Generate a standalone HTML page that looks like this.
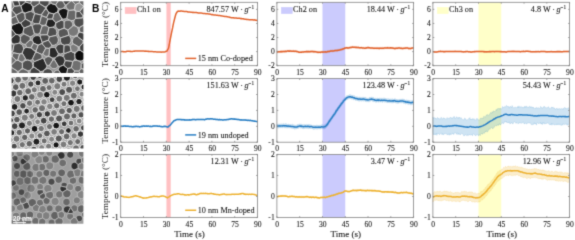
<!DOCTYPE html><html><head><meta charset="utf-8"><style>html,body{margin:0;padding:0;background:#fff;}svg{display:block;}text{font-family:"Liberation Serif",serif;fill:#1a1a1a;stroke:#1a1a1a;stroke-width:0.1px;}.s{font-family:"Liberation Sans",sans-serif;font-weight:bold;fill:#000;stroke:none;}</style></head><body>
<svg xmlns="http://www.w3.org/2000/svg" width="575" height="240" viewBox="0 0 575 240">
<defs><filter id="gb" x="0" y="0" width="575" height="240" filterUnits="userSpaceOnUse" color-interpolation-filters="sRGB"><feConvolveMatrix order="3" kernelMatrix="0.0192 0.1001 0.0192 0.1001 0.5228 0.1001 0.0192 0.1001 0.0192" edgeMode="duplicate" preserveAlpha="true"/></filter></defs>
<g filter="url(#gb)">
<rect width="575" height="240" fill="#fff"/>
<defs><filter id="tb" x="-5%" y="-5%" width="110%" height="110%"><feGaussianBlur stdDeviation="0.55"/></filter>
<clipPath id="c0"><rect x="11.6" y="1.25" width="71.8" height="71.65"/></clipPath>
<clipPath id="c1"><rect x="11.6" y="76.9" width="71.8" height="71.6"/></clipPath>
<clipPath id="c2"><rect x="11.6" y="151.9" width="71.8" height="71.9"/></clipPath>
</defs>
<g clip-path="url(#c0)"><g filter="url(#tb)">
<rect x="10" y="0" width="75" height="75" fill="#969696"/>
<polygon points="32.8,7.0 32.5,8.9 31.6,10.6 30.9,11.3 25.7,12.9 24.8,12.8 23.1,11.9 22.4,11.2 20.8,6.0 25.5,2.1 30.6,3.3 32.8,6.7" fill="#1c1c1c" stroke="#d7d7d7" stroke-width="0.9" stroke-linejoin="round"/>
<polygon points="23.1,32.0 22.9,32.5 21.5,33.9 19.7,34.8 18.8,34.9 15.8,34.3 11.3,28.7 11.3,28.7 11.6,26.7 12.5,25.0 18.9,22.6 20.6,23.1 20.8,23.2 23.9,28.2" fill="#141414" stroke="#d7d7d7" stroke-width="0.9" stroke-linejoin="round"/>
<polygon points="22.3,10.8 22.1,11.7 21.8,12.3 16.1,15.1 11.7,9.9 14.3,6.2 19.9,5.6 20.3,5.8 20.9,6.3" fill="#505050" stroke="#d7d7d7" stroke-width="0.9" stroke-linejoin="round"/>
<polygon points="41.2,15.0 41.1,15.0 35.5,13.7 34.6,12.8 33.7,11.1 33.4,9.2 33.7,7.3 33.9,7.0 39.3,3.4 45.2,7.1 45.3,7.3 45.5,8.7" fill="#4c4c4c" stroke="#d7d7d7" stroke-width="0.9" stroke-linejoin="round"/>
<polygon points="21.0,22.8 20.7,22.9 19.0,22.6 18.8,22.5 15.8,16.0 16.1,15.1 21.8,12.3 22.4,12.4 23.9,13.1 24.9,14.2 25.4,19.0" fill="#585858" stroke="#d7d7d7" stroke-width="0.9" stroke-linejoin="round"/>
<polygon points="32.4,21.3 31.4,21.8 30.7,21.9 25.4,19.0 24.9,14.3 25.3,13.5 26.0,12.8 30.5,11.4 31.4,11.6 32.9,12.3 34.1,13.5 34.5,14.4" fill="#505050" stroke="#d7d7d7" stroke-width="0.9" stroke-linejoin="round"/>
<polygon points="39.5,23.8 39.4,23.9 35.0,23.9 34.0,23.4 32.8,22.2 32.4,21.3 34.5,14.4 35.5,13.9 35.8,13.8 40.7,15.0 41.5,15.8" fill="#484848" stroke="#d7d7d7" stroke-width="0.9" stroke-linejoin="round"/>
<polygon points="30.9,23.5 30.7,25.0 30.4,25.6 24.2,28.0 23.6,27.7 21.1,23.8 21.1,23.5 21.2,22.7 25.4,19.0 30.6,21.9 30.7,22.0" fill="#404040" stroke="#d7d7d7" stroke-width="0.9" stroke-linejoin="round"/>
<polygon points="46.1,24.4 46.1,24.5 44.7,25.2 43.2,25.4 41.7,25.2 40.3,24.5 39.5,23.7 41.5,16.0 41.7,15.8 42.0,15.8 46.7,17.4 47.7,19.0" fill="#606060" stroke="#d7d7d7" stroke-width="0.9" stroke-linejoin="round"/>
<polygon points="34.3,33.4 33.8,34.5 32.5,35.8 30.8,36.6 29.9,36.8 24.0,34.1 23.4,32.8 23.2,31.6 23.9,28.2 23.9,28.2 30.8,25.4 32.3,26.1" fill="#585858" stroke="#d7d7d7" stroke-width="0.9" stroke-linejoin="round"/>
<polygon points="39.9,33.3 38.9,33.8 37.2,34.1 35.5,33.8 34.3,33.2 32.4,26.4 32.8,25.5 34.0,24.3 35.0,23.9 39.4,23.9 39.6,23.9 41.0,25.0 41.6,25.5 42.0,26.4" fill="#505050" stroke="#d7d7d7" stroke-width="0.9" stroke-linejoin="round"/>
<polygon points="41.1,35.0 40.3,34.2 39.9,33.3 42.0,26.4 43.0,25.9 44.7,25.6 46.4,25.9 47.3,26.3 48.3,27.1 49.0,27.7 47.4,34.8" fill="#686868" stroke="#d7d7d7" stroke-width="0.9" stroke-linejoin="round"/>
<polygon points="58.1,9.2 57.8,11.0 57.3,12.1 53.8,14.0 48.9,12.8 46.4,8.8 46.6,7.4 47.2,6.1 48.8,4.4 50.4,3.6 51.3,3.5 55.7,4.8 58.0,8.5" fill="#181818" stroke="#d7d7d7" stroke-width="0.9" stroke-linejoin="round"/>
<polygon points="67.0,17.7 66.7,18.1 65.2,18.8 63.5,19.1 61.9,18.8 58.3,12.4 58.4,12.0 59.1,10.5 60.3,9.3 61.1,8.9 62.8,8.4 63.5,8.3 65.2,8.6 66.7,9.3 67.9,10.5 68.2,11.2" fill="#141414" stroke="#d7d7d7" stroke-width="0.9" stroke-linejoin="round"/>
<polygon points="65.2,5.0 65.2,5.5 64.5,6.9 63.4,8.0 62.0,8.7 62.0,8.7 60.5,8.9 59.0,8.7 57.7,8.0 55.7,4.9 55.7,4.7 59.4,-0.7 60.5,-0.9 61.8,-0.7" fill="#606060" stroke="#d7d7d7" stroke-width="0.9" stroke-linejoin="round"/>
<polygon points="74.6,9.1 74.0,9.6 73.0,10.1 69.5,10.4 69.4,10.4 68.0,9.6 66.9,8.5 66.1,7.1 65.9,5.5 65.9,5.2 71.3,0.4 71.7,0.5 75.4,4.4" fill="#707070" stroke="#d7d7d7" stroke-width="0.9" stroke-linejoin="round"/>
<polygon points="79.7,11.5 76.9,11.4 76.1,11.0 75.0,9.9 74.6,9.0 75.4,4.4 79.4,2.7 83.7,6.4" fill="#949494" stroke="#d7d7d7" stroke-width="0.9" stroke-linejoin="round"/>
<polygon points="75.8,18.2 74.3,19.9 73.4,20.3 71.7,20.6 70.0,20.3 68.5,19.6 67.3,18.4 67.0,17.7 68.2,11.2 68.5,10.8 69.4,10.4 73.4,10.1 74.9,10.8 75.9,11.8" fill="#686868" stroke="#d7d7d7" stroke-width="0.9" stroke-linejoin="round"/>
<polygon points="84.6,22.0 84.3,23.7 83.6,25.2 83.5,25.2 79.7,27.3 79.2,27.4 77.5,27.1 76.0,26.4 74.8,25.2 74.1,23.7 73.8,22.0 74.1,20.3 74.3,19.9 75.8,18.2 82.6,17.8 83.6,18.8 84.3,20.3" fill="#505050" stroke="#d7d7d7" stroke-width="0.9" stroke-linejoin="round"/>
<polygon points="55.6,22.7 55.4,24.2 54.7,25.6 53.6,26.7 52.3,27.3 50.1,27.5 49.2,27.4 47.8,26.7 46.7,25.6 46.1,24.4 47.7,19.0 52.5,18.9 55.5,22.3" fill="#202020" stroke="#d7d7d7" stroke-width="0.9" stroke-linejoin="round"/>
<polygon points="64.2,28.1 59.6,29.8 59.0,29.7 57.6,29.0 56.5,27.9 55.8,26.5 55.6,25.0 55.8,23.5 56.4,22.5 61.1,20.2 62.0,20.3 63.4,21.0 64.2,21.9" fill="#484848" stroke="#d7d7d7" stroke-width="0.9" stroke-linejoin="round"/>
<polygon points="56.9,32.5 56.6,34.2 56.0,35.5 49.2,36.9 47.4,34.8 49.0,27.8 49.5,27.5 52.7,27.3 53.2,27.4 54.7,28.1 55.9,29.3 56.6,30.8" fill="#505050" stroke="#d7d7d7" stroke-width="0.9" stroke-linejoin="round"/>
<polygon points="68.8,34.0 68.6,34.9 68.4,35.4 60.8,37.8 60.3,37.6 59.1,36.4 58.4,34.9 58.1,33.2 58.4,31.5 59.1,30.0 59.3,29.9 64.2,28.1 67.9,30.0 67.9,30.1" fill="#585858" stroke="#d7d7d7" stroke-width="0.9" stroke-linejoin="round"/>
<polygon points="78.6,31.0 78.3,32.7 77.7,34.0 77.5,34.2 76.4,35.4 74.9,36.1 73.2,36.4 71.5,36.1 70.0,35.4 68.8,34.2 68.8,34.1 67.9,30.2 68.0,30.0 73.0,25.6 73.2,25.6 74.9,25.9 76.4,26.6 77.6,27.8 78.3,29.3" fill="#787878" stroke="#d7d7d7" stroke-width="0.9" stroke-linejoin="round"/>
<polygon points="72.9,25.0 72.8,25.8 68.1,29.9 68.0,29.9 67.5,29.8 64.2,28.1 64.2,21.9 65.1,21.0 66.5,20.3 68.0,20.1 69.5,20.3 70.9,21.0 72.0,22.1 72.7,23.5" fill="#606060" stroke="#d7d7d7" stroke-width="0.9" stroke-linejoin="round"/>
<polygon points="20.4,40.8 19.6,42.2 18.5,43.3 18.4,43.4 14.8,44.2 13.9,44.1 12.5,43.3 11.4,42.2 10.6,40.8 10.4,39.2 10.5,38.8 15.8,34.3 17.8,34.7 18.5,35.1 19.6,36.2 20.4,37.6" fill="#303030" stroke="#d7d7d7" stroke-width="0.9" stroke-linejoin="round"/>
<polygon points="30.3,39.2 30.2,39.7 25.4,44.3 25.2,44.3 23.6,44.1 22.2,43.3 21.1,42.2 20.3,40.8 20.4,37.6 21.1,36.2 22.2,35.1 23.6,34.3 24.4,34.2 29.5,36.6 30.1,37.6" fill="#585858" stroke="#d7d7d7" stroke-width="0.9" stroke-linejoin="round"/>
<polygon points="42.1,42.0 42.1,42.3 41.3,43.7 38.1,45.2 33.5,43.1 32.2,40.3 32.3,39.1 33.1,37.7 34.2,36.6 35.6,35.8 37.2,35.6 38.8,35.8 40.2,36.6 40.3,36.6" fill="#282828" stroke="#d7d7d7" stroke-width="0.9" stroke-linejoin="round"/>
<polygon points="23.6,49.0 23.5,49.9 22.4,52.5 21.8,53.2 19.7,54.0 13.2,52.7 12.9,52.5 12.6,51.8 14.0,44.5 14.1,44.3 18.8,43.3 19.5,43.4 21.2,44.2 22.5,45.5 23.3,47.2" fill="#484848" stroke="#d7d7d7" stroke-width="0.9" stroke-linejoin="round"/>
<polygon points="32.3,59.5 31.1,60.1 29.8,60.3 26.5,59.9 25.9,59.6 22.2,53.0 23.8,49.1 24.9,47.9 26.1,47.4 31.0,47.8 35.6,51.6 35.7,52.0" fill="#343434" stroke="#d7d7d7" stroke-width="0.9" stroke-linejoin="round"/>
<polygon points="42.6,54.1 41.3,54.3 36.6,52.2 36.6,52.2 36.0,50.9 38.1,45.2 41.4,43.7 42.3,43.8 45.9,48.2" fill="#585858" stroke="#d7d7d7" stroke-width="0.9" stroke-linejoin="round"/>
<polygon points="22.4,67.6 21.8,68.9 19.1,71.0 18.8,71.1 17.6,71.3 11.5,67.6 11.4,67.3 11.1,65.5 11.1,65.3 16.1,60.3 17.9,60.1 22.0,62.4 22.4,63.4" fill="#606060" stroke="#d7d7d7" stroke-width="0.9" stroke-linejoin="round"/>
<polygon points="32.9,65.5 32.6,67.2 32.2,68.1 30.4,70.0 29.2,70.6 27.7,70.9 23.2,68.8 23.1,68.7 22.4,67.3 22.4,63.7 23.1,62.3 24.2,61.2 24.4,61.1 25.8,60.4 27.5,60.1 29.2,60.4 30.7,61.1 31.9,62.3 32.6,63.8" fill="#505050" stroke="#d7d7d7" stroke-width="0.9" stroke-linejoin="round"/>
<polygon points="46.9,65.8 46.8,66.8 45.9,68.5 43.1,70.8 42.3,71.3 40.4,71.6 33.7,66.9 33.6,66.8 33.3,64.7 33.6,62.6 34.1,61.6 42.5,58.2 43.8,58.9" fill="#2c2c2c" stroke="#d7d7d7" stroke-width="0.9" stroke-linejoin="round"/>
<polygon points="42.1,57.2 41.9,58.5 34.7,61.4 34.3,61.2 33.2,60.1 32.6,58.8 35.4,52.7 35.7,52.5 37.0,52.3 41.1,54.2 41.2,54.3 41.9,55.7" fill="#585858" stroke="#d7d7d7" stroke-width="0.9" stroke-linejoin="round"/>
<polygon points="58.4,40.0 58.1,41.7 57.4,43.2 56.2,44.4 54.7,45.1 53.0,45.4 51.8,45.2 48.4,40.2 49.2,36.9 55.9,35.5 56.2,35.6 57.4,36.8 58.1,38.3" fill="#585858" stroke="#d7d7d7" stroke-width="0.9" stroke-linejoin="round"/>
<polygon points="71.1,40.0 70.8,41.7 70.1,43.2 68.9,44.4 68.0,44.8 64.7,45.2 64.0,45.1 62.5,44.4 61.3,43.2 60.6,41.7 60.3,40.0 60.6,38.3 60.8,37.8 68.4,35.4 68.9,35.6 70.1,36.8 70.8,38.3" fill="#484848" stroke="#d7d7d7" stroke-width="0.9" stroke-linejoin="round"/>
<polygon points="83.1,41.5 82.9,43.0 79.7,46.5 79.4,46.6 78.4,46.8 72.9,43.8 72.6,43.2 72.3,41.5 72.6,39.8 73.3,38.3 74.5,37.1 76.0,36.4 77.1,36.2 83.0,40.7" fill="#606060" stroke="#d7d7d7" stroke-width="0.9" stroke-linejoin="round"/>
<polygon points="58.3,53.5 58.1,54.4 57.4,55.9 56.6,56.7 55.9,57.2 54.7,57.8 53.0,58.1 52.0,57.9 49.1,56.4 48.9,56.1 49.5,48.6 49.8,48.3 51.3,47.6 53.0,47.3 54.7,47.6 55.6,48.0" fill="#2c2c2c" stroke="#d7d7d7" stroke-width="0.9" stroke-linejoin="round"/>
<polygon points="63.8,52.6 63.4,53.0 62.0,53.7 60.5,53.9 59.0,53.7 58.2,53.2 55.7,48.3 55.8,47.5 56.5,46.1 57.6,45.0 59.0,44.3 60.5,44.1 62.0,44.3 63.4,45.0 64.1,45.8" fill="#404040" stroke="#d7d7d7" stroke-width="0.9" stroke-linejoin="round"/>
<polygon points="75.1,58.3 75.1,58.3 74.3,60.0 73.0,61.3 72.9,61.3 72.7,61.4 65.4,60.7 65.1,60.4 63.7,57.3 63.6,56.5 63.9,54.7 64.5,53.5 71.0,51.2 74.1,52.9 74.3,53.0 74.8,54.0" fill="#484848" stroke="#d7d7d7" stroke-width="0.9" stroke-linejoin="round"/>
<polygon points="85.4,55.7 85.1,57.4 84.4,58.9 83.2,60.1 81.7,60.8 80.0,61.1 78.3,60.8 76.8,60.1 75.6,58.9 75.1,57.8 74.8,54.3 74.9,54.0 75.6,52.5 75.7,52.4 77.7,50.9 78.3,50.6 80.0,50.3 80.1,50.3 84.6,53.0 85.1,54.0" fill="#101010" stroke="#d7d7d7" stroke-width="0.9" stroke-linejoin="round"/>
<polygon points="65.1,61.0 65.1,61.1 63.8,64.4 62.9,65.3 60.5,66.3 59.7,66.4 58.3,66.2 54.5,59.6 54.6,59.3 55.3,57.8 56.1,57.0 56.8,56.5 58.0,55.9 59.7,55.6 61.4,55.9 62.9,56.6 63.9,57.6 64.9,59.9" fill="#303030" stroke="#d7d7d7" stroke-width="0.9" stroke-linejoin="round"/>
<polygon points="66.6,75.1 65.2,75.8 63.5,76.1 62.2,75.9 58.2,69.8 58.4,69.0 59.1,67.5 60.3,66.4 62.7,65.4 63.5,65.3 63.9,65.4 67.7,68.5" fill="#181818" stroke="#d7d7d7" stroke-width="0.9" stroke-linejoin="round"/>
<polygon points="81.1,68.5 78.9,71.2 74.7,71.1 71.3,67.6 72.8,61.4 74.4,60.6 76.2,60.3 77.4,60.5 78.9,61.1 79.7,61.4 81.0,62.7 81.3,63.4" fill="#707070" stroke="#d7d7d7" stroke-width="0.9" stroke-linejoin="round"/>
<polygon points="49.7,65.2 48.5,65.4 47.1,65.2 46.5,64.9 44.3,59.9 44.3,59.6 44.9,58.4 45.9,57.4 47.1,56.8 48.5,56.6 49.9,56.8 51.0,57.4 51.1,57.4 52.1,58.4 52.7,59.6 52.8,60.1" fill="#585858" stroke="#d7d7d7" stroke-width="0.9" stroke-linejoin="round"/>
<polygon points="42.8,42.3 42.1,42.0 42.0,41.9 40.3,36.8 40.4,36.6 41.0,35.3 41.3,35.0 47.4,34.8 49.2,36.9 48.4,40.2" fill="#484848" stroke="#d7d7d7" stroke-width="0.9" stroke-linejoin="round"/>
<polygon points="88.5,72.4 88.3,73.9 87.6,75.2 86.5,76.3 85.2,77.0 83.7,77.2 82.2,77.0 80.8,76.3 80.3,75.8 78.9,71.3 79.0,71.1 81.1,68.5 87.8,69.9 88.3,70.8" fill="#646464" stroke="#d7d7d7" stroke-width="0.9" stroke-linejoin="round"/>
<polygon points="25.5,2.1 21.1,5.8 20.3,5.6 19.8,5.4 17.8,-1.2 18.0,-1.7 19.0,-2.7 20.3,-3.4 21.8,-3.6 23.3,-3.4 24.6,-2.7 24.8,-2.5" fill="#3f3f3f" stroke="#d7d7d7" stroke-width="0.9" stroke-linejoin="round"/>
<polygon points="87.7,29.8 87.5,31.1 86.9,32.3 86.0,33.2 85.2,33.6 80.1,32.2 79.5,31.1 79.3,29.8 79.5,28.5 80.1,27.3 80.7,26.8 82.5,25.8 83.5,25.6 84.8,25.8 86.0,26.4 86.9,27.3 87.5,28.5" fill="#646464" stroke="#d7d7d7" stroke-width="0.9" stroke-linejoin="round"/>
<polygon points="40.0,72.3 39.7,73.9 39.0,75.3 37.9,76.4 36.5,77.1 34.9,77.3 33.4,77.1 32.0,76.4 30.9,75.3 30.2,73.9 29.9,72.3 30.2,70.8 30.8,69.6 32.0,68.2 33.4,67.5 34.4,67.4 39.8,71.1" fill="#434343" stroke="#d7d7d7" stroke-width="0.9" stroke-linejoin="round"/>
<polygon points="78.3,48.1 78.1,49.4 77.5,50.6 76.6,51.6 75.4,52.2 74.1,52.4 72.8,52.2 71.5,51.4 70.9,50.9 70.2,46.5 70.7,45.7 71.6,44.7 72.8,44.1 73.4,44.0 77.9,46.5 78.1,46.8" fill="#7c7c7c" stroke="#d7d7d7" stroke-width="0.9" stroke-linejoin="round"/>
<polygon points="17.3,72.2 17.1,73.6 16.5,74.8 15.5,75.7 14.3,76.4 12.9,76.6 11.5,76.4 10.3,75.7 9.4,74.8 8.7,73.6 8.5,72.2 8.7,70.8 9.4,69.6 10.3,68.7 11.5,68.0 12.1,67.9 17.1,71.0" fill="#696969" stroke="#d7d7d7" stroke-width="0.9" stroke-linejoin="round"/>
<polygon points="82.9,15.5 82.7,16.6 82.1,17.7 82.0,17.8 76.0,18.2 75.8,18.1 75.9,12.5 76.4,12.0 77.5,11.4 79.7,11.5" fill="#4d4d4d" stroke="#d7d7d7" stroke-width="0.9" stroke-linejoin="round"/>
<polygon points="17.9,60.0 17.7,60.1 16.1,60.3 12.2,56.6 12.1,56.3 12.4,55.0 12.9,53.8 13.9,52.9 13.9,52.9 19.7,54.0" fill="#636363" stroke="#d7d7d7" stroke-width="0.9" stroke-linejoin="round"/>
<polygon points="49.2,1.9 49.0,3.4 48.2,4.8 47.1,6.0 45.7,6.7 44.8,6.8 39.3,3.4 39.3,0.2 40.0,-1.1 41.1,-2.3 42.5,-3.0 44.1,-3.2 45.7,-3.0 47.1,-2.3 48.2,-1.1 49.0,0.3" fill="#4b4b4b" stroke="#d7d7d7" stroke-width="0.9" stroke-linejoin="round"/>
<polygon points="71.9,76.6 70.6,76.8 69.0,76.6 67.7,75.9 66.7,74.9 67.7,68.5 71.3,67.6 74.7,71.1" fill="#484848" stroke="#d7d7d7" stroke-width="0.9" stroke-linejoin="round"/>
<polygon points="46.7,17.3 46.6,17.4 42.4,15.9 42.3,15.8 41.7,14.7 41.7,14.3 45.1,9.4 45.6,9.3 46.8,9.5 48.9,12.8" fill="#5a5a5a" stroke="#d7d7d7" stroke-width="0.9" stroke-linejoin="round"/>
<polygon points="11.6,64.8 10.8,64.7 9.7,64.1 8.8,63.1 8.2,62.0 8.0,60.7 8.2,59.4 8.8,58.2 9.7,57.3 10.8,56.7 12.1,56.5 12.1,56.5 16.1,60.3" fill="#6f6f6f" stroke="#d7d7d7" stroke-width="0.9" stroke-linejoin="round"/>
<polygon points="16.0,15.0 15.9,15.8 15.8,16.0 15.8,16.0 10.3,18.7 9.1,18.1 8.2,17.1 7.6,15.9 7.3,14.6 7.6,13.2 8.2,12.0 9.1,11.0 10.4,10.4 11.7,10.2 11.9,10.2" fill="#686868" stroke="#d7d7d7" stroke-width="0.9" stroke-linejoin="round"/>
<polygon points="89.1,66.6 88.9,67.9 88.3,69.1 87.6,69.8 81.1,68.5 81.3,64.3 81.4,64.1 82.4,63.1 83.6,62.5 84.9,62.3 86.2,62.5 87.4,63.1 88.3,64.1 88.9,65.2" fill="#4b4b4b" stroke="#d7d7d7" stroke-width="0.9" stroke-linejoin="round"/>
<polygon points="52.9,73.7 52.6,75.3 51.9,76.7 50.8,77.8 49.4,78.5 47.8,78.8 46.3,78.5 44.8,77.8 43.7,76.7 43.0,75.3 42.8,73.7 43.0,72.1 43.7,70.7 44.8,69.6 46.3,68.9 47.8,68.6 49.4,68.9 50.8,69.6 51.9,70.7 52.6,72.1" fill="#4c4c4c" stroke="#d7d7d7" stroke-width="0.9" stroke-linejoin="round"/>
<polygon points="61.8,18.7 61.8,19.0 61.2,20.1 56.2,22.5 55.6,22.5 52.5,18.9 53.8,14.0 57.0,12.2 58.3,12.4" fill="#676767" stroke="#d7d7d7" stroke-width="0.9" stroke-linejoin="round"/>
<polygon points="88.3,1.7 88.1,3.2 87.4,4.6 86.4,5.6 85.0,6.3 85.0,6.3 83.7,6.4 79.4,2.7 80.1,-1.7 80.7,-2.2 82.0,-2.9 83.5,-3.1 85.0,-2.9 86.4,-2.2 87.4,-1.1 88.1,0.2" fill="#6c6c6c" stroke="#d7d7d7" stroke-width="0.9" stroke-linejoin="round"/>
<polygon points="89.7,47.9 89.5,49.4 88.7,50.8 87.6,52.0 86.2,52.7 84.6,52.9 84.5,52.9 80.3,50.4 79.8,49.4 79.6,47.9 79.8,46.4 82.7,43.2 83.1,43.0 84.6,42.8 86.2,43.0 87.6,43.7 88.7,44.9 89.5,46.3" fill="#404040" stroke="#d7d7d7" stroke-width="0.9" stroke-linejoin="round"/>
<polygon points="18.7,22.2 18.4,22.8 13.3,24.7 13.1,24.7 11.8,24.1 10.8,23.0 10.2,21.7 9.9,20.3 10.2,18.9 10.3,18.7 15.8,16.0" fill="#646464" stroke="#d7d7d7" stroke-width="0.9" stroke-linejoin="round"/>
<polygon points="86.1,36.2 85.9,37.5 85.3,38.8 84.3,39.7 83.1,40.3 82.6,40.4 77.4,36.4 77.4,36.2 77.6,34.8 78.2,33.6 79.2,32.7 80.1,32.2 85.3,33.7 85.9,34.8" fill="#3f3f3f" stroke="#d7d7d7" stroke-width="0.9" stroke-linejoin="round"/>
<polygon points="62.0,75.6 62.0,75.8 61.3,77.1 60.4,78.1 59.1,78.7 57.8,78.9 56.4,78.7 55.2,78.1 54.2,77.1 53.6,75.8 53.4,74.5 53.6,73.1 54.2,71.9 55.2,70.9 56.4,70.3 57.8,70.1 58.5,70.2" fill="#5e5e5e" stroke="#d7d7d7" stroke-width="0.9" stroke-linejoin="round"/>
<polygon points="25.3,58.5 25.2,59.0 24.6,60.2 23.7,61.1 22.6,61.7 21.3,61.9 20.9,61.8 18.0,60.2 17.9,60.0 19.7,54.0 19.9,53.9 20.1,53.9 21.3,53.7 22.6,53.9 22.8,54.0" fill="#717171" stroke="#d7d7d7" stroke-width="0.9" stroke-linejoin="round"/>
<polygon points="58.1,65.9 57.6,66.9 56.6,67.9 55.4,68.5 54.0,68.8 52.6,68.5 51.4,67.9 50.4,66.9 49.8,65.7 49.7,65.2 52.8,60.0 54.0,59.8 54.7,60.0" fill="#6f6f6f" stroke="#d7d7d7" stroke-width="0.9" stroke-linejoin="round"/>
<polygon points="28.7,74.0 28.5,75.6 27.7,77.1 26.6,78.3 25.1,79.0 23.5,79.3 21.9,79.0 20.4,78.3 19.3,77.1 18.5,75.6 18.3,74.0 18.5,72.4 19.3,71.0 19.8,70.4 21.0,69.5 21.9,69.1 23.3,68.8 27.6,70.8 27.7,71.0 28.5,72.4" fill="#666666" stroke="#d7d7d7" stroke-width="0.9" stroke-linejoin="round"/>
<polygon points="80.2,75.5 80.1,76.0 79.5,77.2 78.5,78.2 77.3,78.8 76.0,79.0 74.6,78.8 73.4,78.2 72.5,77.2 72.0,76.3 74.7,71.1 78.5,71.2 79.1,71.7" fill="#656565" stroke="#d7d7d7" stroke-width="0.9" stroke-linejoin="round"/>
<polygon points="31.0,47.8 27.3,47.5 26.5,46.6 25.9,45.5 25.6,44.2 25.7,44.0 30.0,40.0 31.2,40.2 32.3,40.7 32.4,40.8 33.5,43.1" fill="#717171" stroke="#d7d7d7" stroke-width="0.9" stroke-linejoin="round"/>
<polygon points="51.7,45.0 51.6,45.4 50.9,46.7 49.9,47.7 48.7,48.3 45.9,48.2 42.5,44.1 42.5,43.9 42.7,42.5 42.8,42.3 48.4,40.2" fill="#515151" stroke="#d7d7d7" stroke-width="0.9" stroke-linejoin="round"/>
<polygon points="39.3,3.1 39.3,3.4 34.4,6.7 33.3,6.5 32.3,6.0 30.6,3.3 32.2,-2.0 33.3,-2.5 34.8,-2.8 36.2,-2.5 37.5,-1.9 38.6,-0.8 39.3,0.5 39.3,0.6" fill="#5b5b5b" stroke="#d7d7d7" stroke-width="0.9" stroke-linejoin="round"/>
<polygon points="89.1,11.1 88.8,12.6 88.1,14.0 87.1,15.0 85.7,15.7 84.2,16.0 83.1,15.8 79.7,11.5 83.7,6.4 84.8,6.3 85.7,6.5 87.1,7.2 88.1,8.3 88.8,9.6" fill="#545454" stroke="#d7d7d7" stroke-width="0.9" stroke-linejoin="round"/>
<polygon points="11.7,9.8 11.6,9.9 10.1,10.1 8.5,9.9 7.1,9.2 6.0,8.1 5.2,6.7 5.0,5.1 5.2,3.5 6.0,2.1 7.1,1.0 8.5,0.3 10.1,0.0 11.6,0.3 12.3,0.6 14.3,6.2" fill="#7b7b7b" stroke="#d7d7d7" stroke-width="0.9" stroke-linejoin="round"/>
<polygon points="48.9,55.6 48.0,56.1 46.7,56.3 45.4,56.1 44.3,55.5 43.3,54.6 42.9,53.7 45.9,48.2 48.1,48.3 49.1,48.8 49.5,49.2" fill="#717171" stroke="#d7d7d7" stroke-width="0.9" stroke-linejoin="round"/>
<polygon points="10.6,38.7 9.6,38.6 8.3,37.9 7.2,36.8 6.6,35.5 6.3,34.0 6.6,32.5 7.2,31.2 8.3,30.1 9.6,29.4 11.1,29.2 11.8,29.3 15.8,34.3" fill="#505050" stroke="#d7d7d7" stroke-width="0.9" stroke-linejoin="round"/>
<polygon points="79.4,2.7 75.4,4.4 71.9,0.7 71.9,0.5 72.1,-0.8 72.7,-2.0 73.7,-3.0 74.9,-3.6 76.3,-3.8 77.6,-3.6 78.8,-3.0 79.8,-2.0 80.1,-1.4" fill="#6b6b6b" stroke="#d7d7d7" stroke-width="0.9" stroke-linejoin="round"/>
<polygon points="36.2,50.4 35.9,50.6 34.6,50.8 31.0,47.8 33.5,43.1 38.1,45.2" fill="#6d6d6d" stroke="#d7d7d7" stroke-width="0.9" stroke-linejoin="round"/>
<polygon points="67.7,68.5 64.2,65.6 64.0,64.4 64.1,63.7 64.8,61.8 64.9,61.7 65.8,60.7 72.2,61.4 72.5,61.7 72.6,61.9 71.3,67.6" fill="#444444" stroke="#d7d7d7" stroke-width="0.9" stroke-linejoin="round"/>
<polygon points="71.0,51.0 70.9,51.2 65.1,53.3 64.3,52.9 63.8,52.4 64.1,46.0 64.3,45.8 65.6,45.1 67.1,44.9 68.3,45.1 69.5,45.8 70.2,46.4" fill="#484848" stroke="#d7d7d7" stroke-width="0.9" stroke-linejoin="round"/>
<polygon points="12.7,51.1 11.8,51.6 10.5,51.8 9.2,51.6 8.1,51.0 7.2,50.1 6.6,48.9 6.4,47.6 6.6,46.3 7.2,45.2 8.1,44.3 9.2,43.7 10.5,43.5 11.8,43.7 13.0,44.3 13.8,45.2" fill="#626262" stroke="#d7d7d7" stroke-width="0.9" stroke-linejoin="round"/>
<polygon points="19.8,5.2 19.7,5.5 19.6,5.6 14.3,6.2 12.4,0.9 12.6,0.4 13.6,-0.6 14.8,-1.2 16.2,-1.4 17.5,-1.2 17.8,-1.1" fill="#3d3d3d" stroke="#d7d7d7" stroke-width="0.9" stroke-linejoin="round"/>
<polygon points="71.2,0.4 71.2,0.5 66.1,5.1 65.2,5.0 61.9,-0.6 61.9,-1.1 62.6,-2.4 63.7,-3.4 65.0,-4.1 66.4,-4.3 67.9,-4.1 69.2,-3.4 70.3,-2.4 71.0,-1.1" fill="#444444" stroke="#d7d7d7" stroke-width="0.9" stroke-linejoin="round"/>
<polygon points="30.6,3.3 25.5,2.1 24.8,-2.3 24.9,-2.5 25.8,-3.4 27.0,-4.0 28.3,-4.2 29.6,-4.0 30.8,-3.4 31.8,-2.5 32.1,-1.7" fill="#414141" stroke="#d7d7d7" stroke-width="0.9" stroke-linejoin="round"/>
<polygon points="52.5,18.9 47.9,19.0 47.4,18.5 46.8,17.5 46.7,17.4 48.9,12.8 53.8,14.0" fill="#464646" stroke="#d7d7d7" stroke-width="0.9" stroke-linejoin="round"/>
<polygon points="55.8,4.6 55.3,4.6 52.1,3.7 51.2,2.8 50.6,1.6 50.4,0.2 50.6,-1.2 51.2,-2.4 52.2,-3.4 53.5,-4.1 54.9,-4.3 56.3,-4.1 57.5,-3.4 58.5,-2.4 59.1,-1.2 59.2,-0.6" fill="#6d6d6d" stroke="#d7d7d7" stroke-width="0.9" stroke-linejoin="round"/>
</g></g>
<g clip-path="url(#c1)"><g filter="url(#tb)">
<rect x="10" y="75" width="75" height="75" fill="#a5a5a5"/>
<circle cx="13.6" cy="73.9" r="3.0" fill="#6d6d6d" stroke="#ececec" stroke-width="1.0"/>
<circle cx="21.2" cy="72.7" r="3.4" fill="#616161" stroke="#ececec" stroke-width="1.0"/>
<circle cx="10.6" cy="80.7" r="3.6" fill="#373737" stroke="#ececec" stroke-width="1.0"/>
<circle cx="18.1" cy="79.7" r="3.5" fill="#676767" stroke="#ececec" stroke-width="1.0"/>
<circle cx="25.1" cy="77.9" r="3.4" fill="#6f6f6f" stroke="#ececec" stroke-width="1.0"/>
<circle cx="33.2" cy="77.3" r="3.2" fill="#3e3e3e" stroke="#ececec" stroke-width="1.0"/>
<circle cx="39.9" cy="75.4" r="3.1" fill="#202020" stroke="#ececec" stroke-width="1.0"/>
<circle cx="47.4" cy="74.4" r="3.6" fill="#6e6e6e" stroke="#ececec" stroke-width="1.0"/>
<circle cx="54.7" cy="73.3" r="3.1" fill="#4f4f4f" stroke="#ececec" stroke-width="1.0"/>
<circle cx="8.2" cy="87.4" r="3.0" fill="#818181" stroke="#ececec" stroke-width="1.0"/>
<circle cx="15.8" cy="87.1" r="3.4" fill="#5a5a5a" stroke="#ececec" stroke-width="1.0"/>
<circle cx="22.4" cy="85.8" r="3.5" fill="#6d6d6d" stroke="#ececec" stroke-width="1.0"/>
<circle cx="30.8" cy="84.1" r="3.2" fill="#4e4e4e" stroke="#ececec" stroke-width="1.0"/>
<circle cx="38.0" cy="82.9" r="3.0" fill="#2b2b2b" stroke="#ececec" stroke-width="1.0"/>
<circle cx="45.2" cy="80.9" r="3.5" fill="#606060" stroke="#ececec" stroke-width="1.0"/>
<circle cx="51.8" cy="80.7" r="3.4" fill="#696969" stroke="#ececec" stroke-width="1.0"/>
<circle cx="59.3" cy="79.1" r="3.4" fill="#474747" stroke="#ececec" stroke-width="1.0"/>
<circle cx="66.9" cy="77.7" r="3.6" fill="#212121" stroke="#ececec" stroke-width="1.0"/>
<circle cx="75.2" cy="75.8" r="3.0" fill="#555555" stroke="#ececec" stroke-width="1.0"/>
<circle cx="82.3" cy="74.2" r="3.0" fill="#6a6a6a" stroke="#ececec" stroke-width="1.0"/>
<circle cx="13.3" cy="93.5" r="3.6" fill="#373737" stroke="#ececec" stroke-width="1.0"/>
<circle cx="19.8" cy="92.6" r="3.3" fill="#6a6a6a" stroke="#ececec" stroke-width="1.0"/>
<circle cx="28.2" cy="91.2" r="3.5" fill="#656565" stroke="#ececec" stroke-width="1.0"/>
<circle cx="34.3" cy="89.8" r="3.1" fill="#777777" stroke="#ececec" stroke-width="1.0"/>
<circle cx="43.0" cy="88.9" r="3.5" fill="#666666" stroke="#ececec" stroke-width="1.0"/>
<circle cx="49.1" cy="87.6" r="3.0" fill="#6d6d6d" stroke="#ececec" stroke-width="1.0"/>
<circle cx="57.3" cy="86.2" r="3.6" fill="#7b7b7b" stroke="#ececec" stroke-width="1.0"/>
<circle cx="64.0" cy="84.2" r="3.0" fill="#787878" stroke="#ececec" stroke-width="1.0"/>
<circle cx="72.6" cy="83.2" r="3.2" fill="#848484" stroke="#ececec" stroke-width="1.0"/>
<circle cx="79.7" cy="82.0" r="3.1" fill="#1c1c1c" stroke="#ececec" stroke-width="1.0"/>
<circle cx="87.1" cy="81.3" r="3.2" fill="#101010" stroke="#ececec" stroke-width="1.0"/>
<circle cx="9.7" cy="101.1" r="3.2" fill="#5d5d5d" stroke="#ececec" stroke-width="1.0"/>
<circle cx="17.4" cy="99.0" r="3.5" fill="#737373" stroke="#ececec" stroke-width="1.0"/>
<circle cx="25.3" cy="97.9" r="3.2" fill="#282828" stroke="#ececec" stroke-width="1.0"/>
<circle cx="31.8" cy="96.9" r="3.4" fill="#676767" stroke="#ececec" stroke-width="1.0"/>
<circle cx="40.1" cy="94.8" r="3.6" fill="#828282" stroke="#ececec" stroke-width="1.0"/>
<circle cx="46.8" cy="94.7" r="3.3" fill="#161616" stroke="#ececec" stroke-width="1.0"/>
<circle cx="54.8" cy="92.3" r="3.0" fill="#868686" stroke="#ececec" stroke-width="1.0"/>
<circle cx="62.2" cy="92.1" r="3.5" fill="#4d4d4d" stroke="#ececec" stroke-width="1.0"/>
<circle cx="69.1" cy="89.8" r="3.6" fill="#575757" stroke="#ececec" stroke-width="1.0"/>
<circle cx="77.4" cy="88.7" r="2.9" fill="#737373" stroke="#ececec" stroke-width="1.0"/>
<circle cx="84.0" cy="87.0" r="3.1" fill="#1e1e1e" stroke="#ececec" stroke-width="1.0"/>
<circle cx="8.1" cy="108.4" r="3.4" fill="#727272" stroke="#ececec" stroke-width="1.0"/>
<circle cx="14.6" cy="106.9" r="3.4" fill="#222222" stroke="#ececec" stroke-width="1.0"/>
<circle cx="22.9" cy="105.8" r="3.3" fill="#4e4e4e" stroke="#ececec" stroke-width="1.0"/>
<circle cx="29.6" cy="103.2" r="3.2" fill="#727272" stroke="#ececec" stroke-width="1.0"/>
<circle cx="37.6" cy="102.2" r="3.0" fill="#707070" stroke="#ececec" stroke-width="1.0"/>
<circle cx="44.0" cy="101.9" r="3.3" fill="#858585" stroke="#ececec" stroke-width="1.0"/>
<circle cx="52.1" cy="99.7" r="2.9" fill="#404040" stroke="#ececec" stroke-width="1.0"/>
<circle cx="59.3" cy="98.7" r="3.5" fill="#777777" stroke="#ececec" stroke-width="1.0"/>
<circle cx="66.8" cy="97.9" r="3.6" fill="#777777" stroke="#ececec" stroke-width="1.0"/>
<circle cx="73.8" cy="95.7" r="3.5" fill="#6c6c6c" stroke="#ececec" stroke-width="1.0"/>
<circle cx="81.9" cy="94.2" r="2.9" fill="#828282" stroke="#ececec" stroke-width="1.0"/>
<circle cx="11.9" cy="113.5" r="3.5" fill="#424242" stroke="#ececec" stroke-width="1.0"/>
<circle cx="19.2" cy="112.1" r="3.4" fill="#595959" stroke="#ececec" stroke-width="1.0"/>
<circle cx="26.6" cy="111.1" r="2.9" fill="#262626" stroke="#ececec" stroke-width="1.0"/>
<circle cx="35.2" cy="109.9" r="3.3" fill="#666666" stroke="#ececec" stroke-width="1.0"/>
<circle cx="42.0" cy="108.2" r="3.6" fill="#707070" stroke="#ececec" stroke-width="1.0"/>
<circle cx="49.8" cy="106.4" r="3.3" fill="#848484" stroke="#ececec" stroke-width="1.0"/>
<circle cx="56.7" cy="105.7" r="3.2" fill="#696969" stroke="#ececec" stroke-width="1.0"/>
<circle cx="63.9" cy="103.7" r="3.0" fill="#6f6f6f" stroke="#ececec" stroke-width="1.0"/>
<circle cx="71.0" cy="102.7" r="3.4" fill="#191919" stroke="#ececec" stroke-width="1.0"/>
<circle cx="79.0" cy="101.6" r="3.2" fill="#252525" stroke="#ececec" stroke-width="1.0"/>
<circle cx="86.1" cy="99.9" r="3.4" fill="#606060" stroke="#ececec" stroke-width="1.0"/>
<circle cx="10.4" cy="120.2" r="3.0" fill="#101010" stroke="#ececec" stroke-width="1.0"/>
<circle cx="16.9" cy="119.6" r="3.3" fill="#5a5a5a" stroke="#ececec" stroke-width="1.0"/>
<circle cx="24.8" cy="117.7" r="3.6" fill="#7d7d7d" stroke="#ececec" stroke-width="1.0"/>
<circle cx="31.7" cy="116.4" r="3.0" fill="#767676" stroke="#ececec" stroke-width="1.0"/>
<circle cx="39.4" cy="114.7" r="3.2" fill="#454545" stroke="#ececec" stroke-width="1.0"/>
<circle cx="47.3" cy="113.9" r="3.2" fill="#383838" stroke="#ececec" stroke-width="1.0"/>
<circle cx="54.0" cy="113.0" r="3.5" fill="#7a7a7a" stroke="#ececec" stroke-width="1.0"/>
<circle cx="62.0" cy="111.3" r="3.5" fill="#676767" stroke="#ececec" stroke-width="1.0"/>
<circle cx="69.2" cy="110.5" r="3.2" fill="#595959" stroke="#ececec" stroke-width="1.0"/>
<circle cx="76.7" cy="108.9" r="3.6" fill="#757575" stroke="#ececec" stroke-width="1.0"/>
<circle cx="84.1" cy="108.0" r="3.5" fill="#515151" stroke="#ececec" stroke-width="1.0"/>
<circle cx="14.7" cy="126.2" r="3.4" fill="#454545" stroke="#ececec" stroke-width="1.0"/>
<circle cx="22.0" cy="125.4" r="3.6" fill="#202020" stroke="#ececec" stroke-width="1.0"/>
<circle cx="29.4" cy="123.3" r="3.1" fill="#7c7c7c" stroke="#ececec" stroke-width="1.0"/>
<circle cx="37.6" cy="121.8" r="2.9" fill="#868686" stroke="#ececec" stroke-width="1.0"/>
<circle cx="43.7" cy="120.7" r="3.4" fill="#444444" stroke="#ececec" stroke-width="1.0"/>
<circle cx="51.4" cy="119.1" r="3.2" fill="#696969" stroke="#ececec" stroke-width="1.0"/>
<circle cx="59.1" cy="118.5" r="3.6" fill="#575757" stroke="#ececec" stroke-width="1.0"/>
<circle cx="67.0" cy="116.5" r="3.6" fill="#696969" stroke="#ececec" stroke-width="1.0"/>
<circle cx="73.9" cy="115.9" r="3.1" fill="#626262" stroke="#ececec" stroke-width="1.0"/>
<circle cx="81.1" cy="114.8" r="3.2" fill="#535353" stroke="#ececec" stroke-width="1.0"/>
<circle cx="11.6" cy="132.8" r="3.2" fill="#222222" stroke="#ececec" stroke-width="1.0"/>
<circle cx="19.3" cy="132.4" r="3.2" fill="#6a6a6a" stroke="#ececec" stroke-width="1.0"/>
<circle cx="27.5" cy="130.9" r="3.1" fill="#606060" stroke="#ececec" stroke-width="1.0"/>
<circle cx="34.6" cy="128.8" r="3.4" fill="#131313" stroke="#ececec" stroke-width="1.0"/>
<circle cx="41.2" cy="128.6" r="3.2" fill="#747474" stroke="#ececec" stroke-width="1.0"/>
<circle cx="49.5" cy="126.6" r="3.1" fill="#6d6d6d" stroke="#ececec" stroke-width="1.0"/>
<circle cx="56.2" cy="125.6" r="3.4" fill="#171717" stroke="#ececec" stroke-width="1.0"/>
<circle cx="64.2" cy="123.8" r="2.9" fill="#3b3b3b" stroke="#ececec" stroke-width="1.0"/>
<circle cx="71.0" cy="123.0" r="2.9" fill="#6e6e6e" stroke="#ececec" stroke-width="1.0"/>
<circle cx="79.2" cy="121.0" r="2.9" fill="#838383" stroke="#ececec" stroke-width="1.0"/>
<circle cx="86.5" cy="121.0" r="3.0" fill="#606060" stroke="#ececec" stroke-width="1.0"/>
<circle cx="9.9" cy="139.8" r="3.2" fill="#4f4f4f" stroke="#ececec" stroke-width="1.0"/>
<circle cx="16.5" cy="138.8" r="3.5" fill="#747474" stroke="#ececec" stroke-width="1.0"/>
<circle cx="24.7" cy="137.4" r="3.2" fill="#626262" stroke="#ececec" stroke-width="1.0"/>
<circle cx="31.8" cy="136.0" r="3.1" fill="#868686" stroke="#ececec" stroke-width="1.0"/>
<circle cx="39.9" cy="135.6" r="2.9" fill="#686868" stroke="#ececec" stroke-width="1.0"/>
<circle cx="46.9" cy="133.5" r="3.4" fill="#595959" stroke="#ececec" stroke-width="1.0"/>
<circle cx="54.1" cy="131.9" r="3.4" fill="#7e7e7e" stroke="#ececec" stroke-width="1.0"/>
<circle cx="61.6" cy="131.7" r="3.1" fill="#6a6a6a" stroke="#ececec" stroke-width="1.0"/>
<circle cx="68.4" cy="130.5" r="2.9" fill="#282828" stroke="#ececec" stroke-width="1.0"/>
<circle cx="76.1" cy="128.8" r="3.3" fill="#686868" stroke="#ececec" stroke-width="1.0"/>
<circle cx="83.6" cy="127.8" r="3.1" fill="#3b3b3b" stroke="#ececec" stroke-width="1.0"/>
<circle cx="14.2" cy="146.3" r="3.1" fill="#4d4d4d" stroke="#ececec" stroke-width="1.0"/>
<circle cx="22.3" cy="144.7" r="3.1" fill="#717171" stroke="#ececec" stroke-width="1.0"/>
<circle cx="29.3" cy="143.7" r="3.3" fill="#646464" stroke="#ececec" stroke-width="1.0"/>
<circle cx="36.4" cy="141.7" r="3.5" fill="#232323" stroke="#ececec" stroke-width="1.0"/>
<circle cx="44.2" cy="140.9" r="3.0" fill="#6d6d6d" stroke="#ececec" stroke-width="1.0"/>
<circle cx="51.6" cy="139.2" r="3.0" fill="#838383" stroke="#ececec" stroke-width="1.0"/>
<circle cx="58.8" cy="138.5" r="3.6" fill="#5a5a5a" stroke="#ececec" stroke-width="1.0"/>
<circle cx="66.6" cy="136.4" r="3.4" fill="#676767" stroke="#ececec" stroke-width="1.0"/>
<circle cx="74.1" cy="135.9" r="3.2" fill="#858585" stroke="#ececec" stroke-width="1.0"/>
<circle cx="80.5" cy="134.1" r="3.2" fill="#373737" stroke="#ececec" stroke-width="1.0"/>
<circle cx="87.8" cy="133.8" r="3.3" fill="#6f6f6f" stroke="#ececec" stroke-width="1.0"/>
<circle cx="11.2" cy="152.9" r="2.9" fill="#5b5b5b" stroke="#ececec" stroke-width="1.0"/>
<circle cx="19.1" cy="152.6" r="3.1" fill="#454545" stroke="#ececec" stroke-width="1.0"/>
<circle cx="26.1" cy="150.6" r="3.0" fill="#292929" stroke="#ececec" stroke-width="1.0"/>
<circle cx="33.9" cy="149.6" r="3.4" fill="#474747" stroke="#ececec" stroke-width="1.0"/>
<circle cx="41.7" cy="147.6" r="3.0" fill="#818181" stroke="#ececec" stroke-width="1.0"/>
<circle cx="48.6" cy="146.3" r="3.1" fill="#7c7c7c" stroke="#ececec" stroke-width="1.0"/>
<circle cx="56.1" cy="144.9" r="3.1" fill="#121212" stroke="#ececec" stroke-width="1.0"/>
<circle cx="63.5" cy="144.4" r="3.4" fill="#7c7c7c" stroke="#ececec" stroke-width="1.0"/>
<circle cx="70.3" cy="142.6" r="3.1" fill="#747474" stroke="#ececec" stroke-width="1.0"/>
<circle cx="77.7" cy="141.6" r="3.0" fill="#676767" stroke="#ececec" stroke-width="1.0"/>
<circle cx="86.0" cy="140.2" r="3.5" fill="#848484" stroke="#ececec" stroke-width="1.0"/>
<circle cx="53.7" cy="152.7" r="2.9" fill="#7a7a7a" stroke="#ececec" stroke-width="1.0"/>
<circle cx="60.4" cy="151.4" r="3.4" fill="#3f3f3f" stroke="#ececec" stroke-width="1.0"/>
<circle cx="68.6" cy="150.5" r="3.1" fill="#606060" stroke="#ececec" stroke-width="1.0"/>
<circle cx="76.0" cy="148.3" r="3.5" fill="#6a6a6a" stroke="#ececec" stroke-width="1.0"/>
<circle cx="83.0" cy="147.6" r="3.1" fill="#484848" stroke="#ececec" stroke-width="1.0"/>
</g></g>
<g clip-path="url(#c2)"><g filter="url(#tb)">
<rect x="10" y="150" width="75" height="75" fill="#9e9e9e"/>
<polygon points="27.2,161.5 27.0,162.3 23.2,164.9 22.6,164.8 21.7,164.3 20.9,163.5 20.4,162.6 20.2,161.5 20.4,160.4 20.9,159.5 21.7,158.7 22.6,158.2 23.1,158.1 27.2,161.4" fill="#3c3c3c" stroke="#c0c0c0" stroke-width="0.8" stroke-linejoin="round"/>
<polygon points="20.5,166.0 20.3,167.1 19.8,168.0 19.0,168.8 18.1,169.3 17.0,169.5 15.9,169.3 15.0,168.8 14.2,168.0 13.7,167.1 13.5,166.0 13.7,164.9 14.2,164.0 15.0,163.2 15.9,162.7 17.0,162.5 18.1,162.7 19.0,163.2 19.8,164.0 20.3,164.9" fill="#505050" stroke="#c0c0c0" stroke-width="0.8" stroke-linejoin="round"/>
<polygon points="18.0,158.5 17.8,159.5 17.4,160.4 16.6,161.2 15.7,161.6 14.7,161.8 13.7,161.6 12.8,161.2 12.3,160.7 11.5,157.7 11.6,157.5 11.6,157.4 14.2,155.3 14.7,155.2 15.7,155.4 16.6,155.8 17.4,156.6 17.8,157.5" fill="#555555" stroke="#c0c0c0" stroke-width="0.8" stroke-linejoin="round"/>
<polygon points="30.4,157.7 30.3,158.9 29.7,159.9 28.9,160.7 27.9,161.3 27.2,161.4 23.0,158.1 22.9,157.7 23.1,156.5 23.7,155.5 24.5,154.7 25.5,154.1 26.7,153.9 27.9,154.1 28.9,154.7 29.7,155.5 30.3,156.5" fill="#6e6e6e" stroke="#c0c0c0" stroke-width="0.8" stroke-linejoin="round"/>
<polygon points="16.5,183.2 16.3,184.2 16.2,184.5 12.9,186.5 12.2,186.3 10.0,183.7 9.9,183.2 10.1,182.2 10.5,181.3 11.3,180.5 12.2,180.1 13.2,179.9 14.2,180.1 15.1,180.5 15.9,181.3 16.2,181.8 16.4,182.8" fill="#4b4b4b" stroke="#c0c0c0" stroke-width="0.8" stroke-linejoin="round"/>
<polygon points="65.0,155.5 64.8,156.7 64.2,157.7 63.4,158.5 62.4,159.1 61.2,159.2 60.0,159.1 59.3,158.7 57.5,155.7 57.5,155.5 57.6,154.3 58.2,153.3 59.0,152.5 60.0,151.9 61.2,151.8 62.4,151.9 63.4,152.5 64.2,153.3 64.8,154.3" fill="#323232" stroke="#c0c0c0" stroke-width="0.8" stroke-linejoin="round"/>
<polygon points="73.7,154.7 73.5,155.8 73.0,156.7 72.2,157.5 71.3,158.0 70.2,158.2 69.1,158.0 68.2,157.5 67.4,156.7 66.9,155.8 66.7,154.7 66.9,153.6 67.4,152.7 68.2,151.9 69.1,151.4 70.2,151.2 71.3,151.4 72.2,151.9 73.0,152.7 73.5,153.6" fill="#4b4b4b" stroke="#c0c0c0" stroke-width="0.8" stroke-linejoin="round"/>
<polygon points="78.2,167.4 77.7,168.2 77.0,168.9 74.8,169.7 74.7,169.8 73.5,169.6 72.5,169.0 71.7,168.2 71.1,167.2 71.0,166.0 71.1,164.8 71.7,163.8 72.5,163.0 73.5,162.4 74.7,162.2 75.9,162.4 76.0,162.5 78.1,164.6" fill="#2d2d2d" stroke="#c0c0c0" stroke-width="0.8" stroke-linejoin="round"/>
<polygon points="78.1,164.6 78.1,164.6 76.1,162.6 76.1,162.5 75.9,161.5 76.1,160.5 76.5,159.6 77.3,158.8 78.2,158.4 79.2,158.2 80.2,158.4 81.1,158.8 81.5,159.2 81.9,162.6" fill="#464646" stroke="#c0c0c0" stroke-width="0.8" stroke-linejoin="round"/>
<polygon points="66.5,163.0 66.3,164.2 65.7,165.2 64.9,166.0 63.9,166.6 62.7,166.8 61.5,166.6 60.5,166.0 59.7,165.2 59.1,164.2 59.0,163.0 59.1,161.8 59.7,160.8 60.5,160.0 61.5,159.4 62.7,159.2 63.9,159.4 64.9,160.0 65.7,160.8 66.3,161.8" fill="#6e6e6e" stroke="#c0c0c0" stroke-width="0.8" stroke-linejoin="round"/>
<polygon points="55.0,181.7 54.8,182.8 54.3,183.7 53.5,184.5 52.6,185.0 51.5,185.2 50.4,185.0 49.5,184.5 48.7,183.7 48.2,182.8 48.0,181.7 48.2,180.6 48.7,179.7 49.5,178.9 50.4,178.4 51.5,178.2 52.6,178.4 53.5,178.9 54.3,179.7 54.8,180.6" fill="#4b4b4b" stroke="#c0c0c0" stroke-width="0.8" stroke-linejoin="round"/>
<polygon points="66.6,187.4 61.0,186.1 60.9,185.5 61.1,184.5 61.5,183.6 62.3,182.8 63.2,182.4 64.2,182.2 65.2,182.4 66.1,182.8 66.9,183.6 67.3,184.5 67.4,184.7" fill="#505050" stroke="#c0c0c0" stroke-width="0.8" stroke-linejoin="round"/>
<polygon points="29.6,205.7 29.4,206.8 28.9,207.8 28.1,208.6 27.1,209.1 26.0,209.3 24.9,209.1 23.9,208.6 23.5,208.2 22.6,204.9 22.6,204.6 23.0,203.8 26.1,202.1 27.1,202.3 28.1,202.8 28.3,203.1 29.6,205.6" fill="#4b4b4b" stroke="#c0c0c0" stroke-width="0.8" stroke-linejoin="round"/>
<polygon points="24.8,192.2 24.7,193.1 24.1,194.2 23.4,194.9 22.5,195.3 21.5,195.5 20.5,195.3 19.6,194.9 18.8,194.1 18.4,193.2 18.2,192.2 18.4,191.2 18.8,190.3 19.6,189.5 20.5,189.1 21.5,188.9 22.5,189.1 23.4,189.5 24.2,190.3 24.6,191.2" fill="#555555" stroke="#c0c0c0" stroke-width="0.8" stroke-linejoin="round"/>
<polygon points="43.5,192.2 43.4,193.0 39.4,195.4 39.2,195.3 38.3,194.9 37.5,194.1 37.1,193.2 36.9,192.2 37.1,191.2 37.5,190.3 38.1,189.7 42.2,189.6 42.9,190.3 43.3,191.2" fill="#505050" stroke="#c0c0c0" stroke-width="0.8" stroke-linejoin="round"/>
<polygon points="45.6,196.0 45.5,197.0 45.1,197.7 43.8,198.8 43.5,199.0 42.5,199.1 41.5,199.0 40.7,198.5 40.0,197.8 39.5,197.0 39.4,196.0 39.5,195.4 43.3,193.0 43.5,193.0 44.3,193.5 45.0,194.2 45.5,195.0" fill="#555555" stroke="#c0c0c0" stroke-width="0.8" stroke-linejoin="round"/>
<polygon points="66.9,189.3 66.9,189.5 63.1,192.0 62.4,191.9 61.4,191.4 60.6,190.6 60.1,189.6 59.9,188.5 60.1,187.4 60.6,186.4 60.9,186.1 66.6,187.4" fill="#323232" stroke="#c0c0c0" stroke-width="0.8" stroke-linejoin="round"/>
<polygon points="67.7,213.2 67.2,213.2 66.0,213.1 65.0,212.5 64.2,211.7 63.6,210.7 63.5,209.5 63.6,208.3 64.2,207.3 65.0,206.5 66.0,205.9 67.2,205.8 68.4,205.9 69.4,206.5 70.2,207.3 70.4,207.7" fill="#373737" stroke="#c0c0c0" stroke-width="0.8" stroke-linejoin="round"/>
<polygon points="73.4,211.7 73.3,212.0 72.9,212.9 72.2,213.7 68.2,213.6 67.7,213.1 70.4,207.7 70.9,207.8" fill="#3c3c3c" stroke="#c0c0c0" stroke-width="0.8" stroke-linejoin="round"/>
<polygon points="70.2,202.0 70.1,203.2 69.5,204.2 68.7,205.0 67.7,205.6 66.5,205.8 65.3,205.6 64.3,205.0 63.5,204.2 62.9,203.2 62.8,202.0 62.9,200.8 63.5,199.8 64.3,199.0 65.3,198.4 66.5,198.2 67.7,198.4 68.7,199.0 69.5,199.8 70.1,200.8" fill="#696969" stroke="#c0c0c0" stroke-width="0.8" stroke-linejoin="round"/>
<polygon points="82.5,218.5 82.3,219.5 81.9,220.4 81.1,221.2 80.2,221.6 79.2,221.8 78.2,221.6 77.9,221.5 76.0,218.1 76.1,217.5 76.5,216.6 77.3,215.8 78.2,215.4 79.2,215.2 80.2,215.4 81.1,215.8 81.9,216.6 82.3,217.5" fill="#4b4b4b" stroke="#c0c0c0" stroke-width="0.8" stroke-linejoin="round"/>
<polygon points="7.1,153.6 6.9,154.8 6.3,155.9 5.5,156.8 4.3,157.4 3.1,157.6 1.9,157.4 0.8,156.8 -0.1,155.9 -0.7,154.8 -0.9,153.6 -0.7,152.3 -0.1,151.2 0.8,150.3 1.9,149.8 3.1,149.6 4.3,149.8 5.5,150.3 6.3,151.2 6.9,152.3" fill="#7e7e7e" stroke="#c0c0c0" stroke-width="0.8" stroke-linejoin="round"/>
<polygon points="14.5,154.0 14.3,155.1 14.2,155.2 11.6,157.4 11.4,157.4 8.2,156.1 8.2,156.0 7.7,155.1 7.5,154.0 7.7,152.9 8.2,151.9 8.9,151.2 9.9,150.7 11.0,150.5 12.1,150.7 13.0,151.2 13.8,151.9 14.3,152.9" fill="#808080" stroke="#c0c0c0" stroke-width="0.8" stroke-linejoin="round"/>
<polygon points="23.4,153.1 23.2,154.2 22.7,155.3 21.9,156.1 20.8,156.7 19.6,156.8 18.5,156.7 17.4,156.1 16.6,155.3 16.1,154.2 15.9,153.1 16.1,151.9 16.6,150.9 17.4,150.0 18.5,149.5 19.6,149.3 20.8,149.5 21.9,150.0 22.7,150.9 23.2,151.9" fill="#828282" stroke="#c0c0c0" stroke-width="0.8" stroke-linejoin="round"/>
<polygon points="39.0,154.2 38.8,155.4 38.6,155.7 35.2,158.1 35.0,158.2 33.8,158.0 32.7,157.4 31.8,156.5 31.2,155.4 31.0,154.2 31.2,153.0 31.8,151.9 32.7,151.0 33.8,150.4 35.0,150.3 36.2,150.4 37.3,151.0 38.1,151.8 38.9,154.2" fill="#7f7f7f" stroke="#c0c0c0" stroke-width="0.8" stroke-linejoin="round"/>
<polygon points="45.1,151.9 44.9,153.0 44.4,154.0 43.7,154.7 42.7,155.2 41.7,155.4 40.6,155.2 39.6,154.7 38.9,154.0 38.9,153.9 38.3,152.2 38.2,151.9 38.4,150.9 38.9,149.9 39.6,149.1 40.6,148.7 41.7,148.5 42.7,148.7 43.7,149.1 44.4,149.9 44.9,150.9" fill="#838383" stroke="#c0c0c0" stroke-width="0.8" stroke-linejoin="round"/>
<polygon points="52.8,152.8 52.6,153.9 52.1,154.8 51.4,155.6 50.4,156.1 49.4,156.3 48.3,156.1 47.4,155.6 46.6,154.8 46.1,153.9 45.9,152.8 46.1,151.8 46.6,150.8 47.4,150.1 48.3,149.6 49.4,149.4 50.4,149.6 51.4,150.1 52.1,150.8 52.6,151.8" fill="#7f7f7f" stroke="#c0c0c0" stroke-width="0.8" stroke-linejoin="round"/>
<polygon points="86.7,153.1 86.5,154.3 85.9,155.5 85.0,156.4 84.2,156.8 83.4,157.1 82.5,157.2 81.2,157.0 80.1,156.4 79.2,155.5 78.6,154.3 78.4,153.1 78.6,151.8 79.2,150.6 80.1,149.7 81.2,149.1 82.5,148.9 83.8,149.1 85.0,149.7 85.9,150.6 86.5,151.8" fill="#787878" stroke="#c0c0c0" stroke-width="0.8" stroke-linejoin="round"/>
<polygon points="12.4,161.0 12.3,161.4 11.7,162.5 10.8,163.4 9.7,164.0 8.4,164.2 7.1,164.0 6.0,163.4 5.1,162.5 4.5,161.4 4.3,160.1 4.5,158.8 5.1,157.7 6.0,156.8 7.1,156.2 8.1,156.0 11.5,157.5" fill="#747474" stroke="#c0c0c0" stroke-width="0.8" stroke-linejoin="round"/>
<polygon points="42.6,161.4 42.2,162.1 41.3,163.0 40.2,163.6 38.9,163.8 37.7,163.6 36.5,163.0 35.6,162.1 35.1,161.0 34.9,159.7 35.1,158.4 35.2,158.1 38.7,155.7 38.9,155.6 40.2,155.8 41.3,156.4 42.2,157.3 42.3,157.5" fill="#868686" stroke="#c0c0c0" stroke-width="0.8" stroke-linejoin="round"/>
<polygon points="49.3,159.2 49.1,160.4 48.6,161.4 47.8,162.2 46.7,162.7 45.6,162.9 44.5,162.7 43.5,162.2 42.6,161.4 42.6,161.3 42.3,157.7 42.6,157.1 43.5,156.3 44.5,155.7 45.6,155.6 46.7,155.7 47.8,156.3 48.6,157.1 49.1,158.1" fill="#6a6a6a" stroke="#c0c0c0" stroke-width="0.8" stroke-linejoin="round"/>
<polygon points="59.4,159.1 59.2,160.4 58.6,161.5 57.7,162.5 56.6,163.0 55.3,163.2 54.0,163.0 52.8,162.5 51.9,161.5 51.3,160.4 51.1,159.1 51.3,157.8 51.9,156.7 52.8,155.7 54.0,155.2 55.3,155.0 56.6,155.2 57.4,155.6 59.4,158.8" fill="#676767" stroke="#c0c0c0" stroke-width="0.8" stroke-linejoin="round"/>
<polygon points="89.0,160.7 88.8,161.9 88.2,163.1 87.3,163.9 86.2,164.5 85.0,164.7 81.9,162.6 81.4,159.0 81.8,158.4 82.6,157.5 83.5,157.0 84.0,156.9 85.0,156.7 86.2,156.9 87.3,157.5 88.2,158.4 88.8,159.5" fill="#6c6c6c" stroke="#c0c0c0" stroke-width="0.8" stroke-linejoin="round"/>
<polygon points="7.7,167.9 7.5,169.1 6.9,170.3 4.4,171.9 3.6,172.0 2.3,171.8 1.2,171.2 0.2,170.3 -0.3,169.1 -0.6,167.9 -0.3,166.6 0.2,165.4 1.2,164.5 2.3,163.9 3.6,163.7 4.9,163.9 6.0,164.5 6.9,165.4 7.5,166.6" fill="#777777" stroke="#c0c0c0" stroke-width="0.8" stroke-linejoin="round"/>
<polygon points="30.9,166.3 30.7,167.5 30.1,168.6 29.2,169.5 28.1,170.1 26.8,170.3 25.6,170.1 24.4,169.5 23.6,168.6 23.0,167.5 22.8,166.3 23.0,165.0 23.0,165.0 27.1,162.3 28.1,162.4 29.2,163.0 30.1,163.9 30.7,165.0" fill="#666666" stroke="#c0c0c0" stroke-width="0.8" stroke-linejoin="round"/>
<polygon points="39.2,169.6 39.2,169.7 38.3,170.6 37.2,171.2 35.9,171.4 34.7,171.2 33.6,170.6 32.7,169.7 32.1,168.6 31.9,167.4 32.1,166.1 32.7,165.0 33.6,164.1 34.7,163.6 35.9,163.4 37.2,163.6 38.3,164.1 39.0,164.9" fill="#797979" stroke="#c0c0c0" stroke-width="0.8" stroke-linejoin="round"/>
<polygon points="45.7,167.2 45.6,168.3 45.0,169.4 44.4,170.0 44.1,170.3 43.2,170.7 42.0,170.9 40.9,170.7 39.8,170.2 39.2,169.5 39.0,165.0 39.8,164.2 40.9,163.6 42.0,163.5 43.2,163.6 44.2,164.2 45.0,165.0 45.6,166.0" fill="#6f6f6f" stroke="#c0c0c0" stroke-width="0.8" stroke-linejoin="round"/>
<polygon points="53.7,165.9 53.5,167.1 52.9,168.2 52.0,169.1 50.9,169.6 49.7,169.8 48.5,169.6 47.4,169.1 46.5,168.2 45.9,167.1 45.7,165.9 45.9,164.6 46.5,163.5 47.4,162.6 48.5,162.1 49.7,161.9 50.9,162.1 52.0,162.6 52.9,163.5 53.5,164.6" fill="#818181" stroke="#c0c0c0" stroke-width="0.8" stroke-linejoin="round"/>
<polygon points="85.1,165.9 85.0,167.0 84.4,168.1 83.6,168.9 82.6,169.4 81.5,169.6 80.4,169.4 79.3,168.9 78.5,168.1 78.2,167.3 78.1,164.6 81.9,162.6 84.9,164.6 85.0,164.8" fill="#7e7e7e" stroke="#c0c0c0" stroke-width="0.8" stroke-linejoin="round"/>
<polygon points="10.7,173.8 10.5,174.9 10.0,175.8 9.3,176.6 8.3,177.1 7.3,177.2 6.2,177.1 5.2,176.6 4.5,175.8 4.0,174.9 3.8,173.8 4.0,172.8 4.5,171.8 4.5,171.8 6.6,170.5 7.3,170.4 8.3,170.6 9.3,171.1 10.0,171.8 10.5,172.8" fill="#7f7f7f" stroke="#c0c0c0" stroke-width="0.8" stroke-linejoin="round"/>
<polygon points="19.8,175.9 19.8,175.9 19.0,176.7 18.0,177.2 16.9,177.4 15.8,177.2 14.8,176.7 14.1,175.9 13.6,175.0 13.4,173.9 13.6,172.8 14.1,171.8 14.8,171.0 15.8,170.5 16.9,170.3 18.0,170.5 19.0,171.0 19.8,171.8 20.0,172.1" fill="#6d6d6d" stroke="#c0c0c0" stroke-width="0.8" stroke-linejoin="round"/>
<polygon points="26.8,176.0 26.6,176.5 26.0,177.1 24.9,177.8 24.6,178.0 23.3,178.2 22.6,178.1 20.8,177.2 20.1,176.5 19.8,176.0 20.0,172.0 20.1,171.8 20.9,170.9 22.1,170.3 23.3,170.1 24.6,170.3 25.7,170.9 26.6,171.8 26.9,172.4" fill="#656565" stroke="#c0c0c0" stroke-width="0.8" stroke-linejoin="round"/>
<polygon points="33.6,174.2 33.4,175.3 32.9,176.3 32.1,177.1 31.1,177.6 30.1,177.8 27.6,176.8 27.1,176.3 26.8,175.8 26.9,172.5 27.1,172.1 27.9,171.3 28.9,170.8 30.0,170.6 31.1,170.8 32.1,171.3 32.9,172.1 33.4,173.1" fill="#6e6e6e" stroke="#c0c0c0" stroke-width="0.8" stroke-linejoin="round"/>
<polygon points="43.0,174.2 42.8,175.3 42.3,176.3 42.1,176.5 40.0,177.7 39.4,177.8 38.4,177.6 37.4,177.1 36.6,176.3 36.1,175.3 35.9,174.2 36.1,173.2 36.6,172.2 37.4,171.4 38.4,170.9 39.4,170.7 40.5,170.9 41.5,171.4 42.3,172.2 42.8,173.2" fill="#7a7a7a" stroke="#c0c0c0" stroke-width="0.8" stroke-linejoin="round"/>
<polygon points="49.7,174.3 49.3,175.0 48.5,175.8 47.5,176.3 46.4,176.5 45.3,176.3 44.3,175.8 43.5,175.0 43.0,174.0 42.9,172.9 43.0,171.8 43.5,170.8 44.3,170.1 44.4,170.0 45.3,169.5 46.4,169.4 47.5,169.5 48.5,170.1 49.3,170.8 49.8,171.8 49.9,172.4" fill="#646464" stroke="#c0c0c0" stroke-width="0.8" stroke-linejoin="round"/>
<polygon points="56.6,173.7 56.5,174.8 56.0,175.8 55.2,176.6 54.2,177.1 53.1,177.2 52.0,177.1 51.1,176.6 50.3,175.8 49.8,174.8 49.7,174.2 49.9,172.4 50.3,171.7 51.1,170.9 52.0,170.4 53.1,170.2 54.2,170.4 55.2,170.9 56.0,171.7 56.5,172.6" fill="#757575" stroke="#c0c0c0" stroke-width="0.8" stroke-linejoin="round"/>
<polygon points="65.5,172.8 65.3,174.0 64.7,175.1 63.9,175.9 62.8,176.5 61.6,176.6 60.6,176.5 60.0,176.2 59.4,175.9 58.5,175.1 58.0,174.0 57.8,172.8 58.0,171.6 58.5,170.6 59.4,169.7 60.5,169.2 61.6,169.0 62.8,169.2 63.9,169.7 64.7,170.6 65.3,171.6" fill="#646464" stroke="#c0c0c0" stroke-width="0.8" stroke-linejoin="round"/>
<polygon points="74.7,175.8 74.2,176.8 73.9,177.1 70.1,178.4 69.6,178.3 68.4,177.7 67.5,176.8 66.9,175.6 66.7,174.3 66.9,173.0 67.5,171.8 68.4,170.9 69.6,170.3 70.8,170.1 72.1,170.3 73.3,170.9 73.6,171.2" fill="#6c6c6c" stroke="#c0c0c0" stroke-width="0.8" stroke-linejoin="round"/>
<polygon points="80.3,175.2 79.6,176.0 78.5,176.5 77.3,176.7 76.0,176.5 74.9,176.0 74.7,175.8 73.6,171.3 74.1,170.5 74.8,169.8 77.2,168.8 77.3,168.8 78.5,169.0 79.6,169.6 80.5,170.5 81.0,171.6 81.0,171.7" fill="#7d7d7d" stroke="#c0c0c0" stroke-width="0.8" stroke-linejoin="round"/>
<polygon points="88.1,174.1 87.9,175.3 87.3,176.4 86.4,177.3 85.4,177.8 80.8,176.3 80.3,175.3 80.3,175.2 81.0,171.7 81.8,170.9 82.9,170.4 84.1,170.2 85.3,170.4 86.4,170.9 87.3,171.8 87.9,172.9" fill="#767676" stroke="#c0c0c0" stroke-width="0.8" stroke-linejoin="round"/>
<polygon points="7.7,181.7 7.5,182.9 7.3,183.3 4.6,185.5 3.8,185.6 2.7,185.4 1.6,184.8 0.7,184.0 0.2,182.9 -0.0,181.7 0.2,180.5 0.7,179.4 1.6,178.6 2.7,178.0 3.8,177.8 5.0,178.0 6.1,178.6 7.0,179.4 7.5,180.5" fill="#727272" stroke="#c0c0c0" stroke-width="0.8" stroke-linejoin="round"/>
<polygon points="24.0,182.3 24.0,182.5 23.4,183.7 22.5,184.6 21.4,185.2 20.1,185.4 18.8,185.2 17.7,184.6 16.8,183.7 16.6,183.4 16.0,181.2 16.2,180.0 16.8,178.8 17.7,177.9 18.8,177.3 20.1,177.1 20.8,177.3 22.7,178.1 23.4,178.8 23.8,179.6" fill="#7e7e7e" stroke="#c0c0c0" stroke-width="0.8" stroke-linejoin="round"/>
<polygon points="31.2,181.9 30.7,182.9 29.9,183.8 28.8,184.3 27.6,184.5 26.4,184.3 25.3,183.8 24.4,182.9 24.0,182.1 23.8,179.7 23.9,179.4 24.4,178.3 25.0,177.7 25.9,177.1 26.4,176.9 27.4,176.7 30.2,177.8 30.7,178.3 31.1,179.0" fill="#717171" stroke="#c0c0c0" stroke-width="0.8" stroke-linejoin="round"/>
<polygon points="38.9,180.7 38.7,181.5 38.2,182.6 37.3,183.5 36.1,184.1 34.9,184.3 33.6,184.1 32.5,183.5 31.6,182.6 31.2,181.9 31.1,178.9 31.6,177.9 32.5,177.0 33.6,176.4 34.9,176.2 36.1,176.4 37.0,176.8 37.6,177.3 38.2,177.9 38.7,179.0 38.9,179.8" fill="#727272" stroke="#c0c0c0" stroke-width="0.8" stroke-linejoin="round"/>
<polygon points="46.9,180.3 46.7,181.6 46.1,182.7 45.2,183.6 44.1,184.2 42.9,184.4 42.4,184.3 40.3,183.4 39.6,182.7 39.0,181.6 38.9,180.8 38.9,179.8 39.0,179.1 39.6,178.0 39.7,177.8 42.3,176.4 42.9,176.3 44.1,176.5 45.2,177.1 46.1,178.0 46.7,179.1" fill="#757575" stroke="#c0c0c0" stroke-width="0.8" stroke-linejoin="round"/>
<polygon points="62.4,179.7 62.3,180.8 61.7,181.9 60.9,182.7 59.9,183.2 58.7,183.4 57.6,183.2 56.5,182.7 55.7,181.9 55.2,180.8 55.0,179.7 55.2,178.5 55.7,177.5 56.5,176.7 57.6,176.2 58.7,176.0 59.8,176.1 60.1,176.3 60.9,176.7 61.7,177.5 62.3,178.5" fill="#686868" stroke="#c0c0c0" stroke-width="0.8" stroke-linejoin="round"/>
<polygon points="76.6,180.7 76.4,181.8 75.9,182.8 75.1,183.6 74.1,184.1 73.0,184.3 71.9,184.1 71.4,183.9 70.8,183.6 70.0,182.8 69.5,181.8 69.3,180.7 69.5,179.5 70.0,178.5 70.2,178.3 73.8,177.1 74.1,177.2 75.1,177.7 75.9,178.5 76.4,179.5" fill="#6d6d6d" stroke="#c0c0c0" stroke-width="0.8" stroke-linejoin="round"/>
<polygon points="86.1,180.1 85.9,181.3 85.4,182.4 84.5,183.3 83.4,183.9 82.1,184.1 80.9,183.9 79.8,183.3 78.9,182.4 78.3,181.3 78.1,180.1 78.3,178.8 78.9,177.7 79.8,176.8 80.8,176.3 85.4,177.8 85.9,178.8" fill="#6c6c6c" stroke="#c0c0c0" stroke-width="0.8" stroke-linejoin="round"/>
<polygon points="12.4,187.3 12.2,188.6 11.6,189.7 10.7,190.6 9.6,191.2 8.3,191.4 7.0,191.2 5.8,190.6 4.9,189.7 4.3,188.6 4.1,187.3 4.3,186.0 4.6,185.5 7.4,183.3 8.3,183.1 9.6,183.3 9.8,183.5 12.3,186.5" fill="#737373" stroke="#c0c0c0" stroke-width="0.8" stroke-linejoin="round"/>
<polygon points="19.4,187.9 19.2,188.9 18.7,189.9 18.0,190.6 17.0,191.1 16.0,191.3 14.9,191.1 14.0,190.6 13.2,189.9 12.7,188.9 12.6,187.9 12.7,186.8 12.9,186.5 16.2,184.5 17.0,184.6 18.0,185.1 18.7,185.9 19.2,186.8" fill="#828282" stroke="#c0c0c0" stroke-width="0.8" stroke-linejoin="round"/>
<polygon points="35.2,188.3 35.0,189.6 34.4,190.7 33.5,191.7 32.3,192.2 31.0,192.4 29.8,192.2 28.6,191.7 27.7,190.7 27.1,189.6 26.9,188.3 27.1,187.0 27.7,185.9 28.6,185.0 29.8,184.4 31.0,184.2 32.3,184.4 33.5,185.0 34.4,185.9 35.0,187.0" fill="#7e7e7e" stroke="#c0c0c0" stroke-width="0.8" stroke-linejoin="round"/>
<polygon points="43.5,186.9 43.3,187.9 42.9,188.9 42.2,189.6 38.1,189.7 37.3,188.9 36.8,187.9 36.6,186.9 36.8,185.8 37.3,184.9 38.1,184.1 39.0,183.6 40.1,183.5 40.6,183.5 42.2,184.2 42.9,184.9 43.3,185.8" fill="#7e7e7e" stroke="#c0c0c0" stroke-width="0.8" stroke-linejoin="round"/>
<polygon points="52.0,188.5 51.8,189.8 51.2,191.0 51.0,191.3 46.5,192.5 45.4,191.9 44.5,191.0 43.9,189.8 43.7,188.5 43.9,187.3 44.5,186.1 45.4,185.2 46.6,184.6 47.9,184.4 49.2,184.6 50.3,185.2 51.2,186.1 51.8,187.3" fill="#828282" stroke="#c0c0c0" stroke-width="0.8" stroke-linejoin="round"/>
<polygon points="73.6,187.2 73.4,188.4 72.9,189.4 72.1,190.2 71.0,190.7 69.9,190.9 67.0,189.5 67.0,189.4 66.6,187.4 67.4,184.6 67.7,184.2 68.8,183.7 69.9,183.5 71.0,183.7 71.5,184.0 72.1,184.2 72.9,185.1 73.4,186.1" fill="#838383" stroke="#c0c0c0" stroke-width="0.8" stroke-linejoin="round"/>
<polygon points="81.5,188.8 81.4,189.8 80.9,190.7 78.2,192.2 78.1,192.2 77.0,192.1 76.1,191.6 75.3,190.8 74.8,189.8 74.7,188.8 74.8,187.7 75.3,186.8 76.1,186.0 77.0,185.5 78.1,185.4 79.2,185.5 80.1,186.0 80.9,186.8 81.4,187.7" fill="#6e6e6e" stroke="#c0c0c0" stroke-width="0.8" stroke-linejoin="round"/>
<polygon points="90.6,188.9 90.3,190.2 89.8,191.3 88.8,192.2 87.7,192.8 86.4,193.0 85.1,192.8 84.7,192.6 82.9,191.0 82.5,190.2 82.3,188.9 82.5,187.6 83.1,186.5 84.0,185.6 85.1,185.0 86.4,184.8 87.7,185.0 88.8,185.6 89.8,186.5 90.3,187.6" fill="#696969" stroke="#c0c0c0" stroke-width="0.8" stroke-linejoin="round"/>
<polygon points="7.8,195.9 7.6,197.0 7.3,197.6 4.1,199.5 3.0,199.4 2.0,198.8 1.2,198.0 0.7,197.0 0.5,195.9 0.7,194.7 1.2,193.7 2.0,192.9 3.0,192.4 4.2,192.2 5.3,192.4 6.3,192.9 7.1,193.7 7.6,194.7" fill="#6f6f6f" stroke="#c0c0c0" stroke-width="0.8" stroke-linejoin="round"/>
<polygon points="16.3,195.7 16.1,196.8 15.6,197.8 14.8,198.6 13.8,199.1 12.7,199.3 11.6,199.1 10.5,198.6 9.8,197.8 9.2,196.8 9.1,195.7 9.2,194.6 9.8,193.6 10.5,192.8 11.6,192.2 12.7,192.1 13.8,192.2 14.8,192.8 15.6,193.6 16.1,194.6" fill="#707070" stroke="#c0c0c0" stroke-width="0.8" stroke-linejoin="round"/>
<polygon points="31.3,195.4 31.2,196.6 30.6,197.6 29.8,198.5 28.7,199.0 27.6,199.2 26.4,199.0 26.4,199.0 24.2,197.1 24.0,196.6 23.8,195.4 23.9,194.5 24.8,192.9 25.3,192.3 26.4,191.8 27.6,191.6 28.7,191.8 29.8,192.3 30.6,193.2 31.2,194.2" fill="#868686" stroke="#c0c0c0" stroke-width="0.8" stroke-linejoin="round"/>
<polygon points="53.6,195.0 53.4,196.3 52.9,197.4 52.0,198.3 50.8,198.9 49.7,199.1 46.3,197.3 45.8,196.3 45.6,194.9 45.8,193.8 46.3,192.7 46.6,192.4 51.0,191.3 52.0,191.8 52.9,192.7 53.4,193.8" fill="#707070" stroke="#c0c0c0" stroke-width="0.8" stroke-linejoin="round"/>
<polygon points="62.8,194.5 62.7,195.4 62.2,196.5 61.3,197.3 60.3,197.8 59.2,198.0 58.1,197.8 57.1,197.3 56.3,196.5 55.8,195.4 55.6,194.3 55.8,193.2 56.3,192.2 57.1,191.4 58.1,190.9 59.2,190.7 60.3,190.9 61.3,191.4 62.2,192.2 62.7,193.2 62.7,193.5" fill="#757575" stroke="#c0c0c0" stroke-width="0.8" stroke-linejoin="round"/>
<polygon points="71.0,193.6 70.8,194.9 70.2,196.0 69.3,197.0 68.1,197.6 66.8,197.8 65.5,197.6 64.3,197.0 63.4,196.0 62.9,195.0 62.7,193.1 62.8,192.3 62.9,192.1 67.0,189.5 70.0,190.9 70.2,191.1 70.8,192.3" fill="#646464" stroke="#c0c0c0" stroke-width="0.8" stroke-linejoin="round"/>
<polygon points="85.2,194.6 85.0,195.8 84.5,196.9 83.6,197.8 82.5,198.4 81.3,198.6 80.0,198.4 79.4,198.0 78.4,197.3 78.0,196.9 77.5,195.8 77.3,194.6 77.5,193.3 78.0,192.3 81.1,190.6 81.3,190.6 82.5,190.8 83.0,191.0 84.6,192.6 85.0,193.3" fill="#868686" stroke="#c0c0c0" stroke-width="0.8" stroke-linejoin="round"/>
<polygon points="11.4,201.5 11.2,202.7 10.6,203.8 9.8,204.7 8.7,205.2 7.4,205.4 7.0,205.4 5.9,205.1 5.1,204.7 4.2,203.8 3.7,202.7 3.5,201.5 3.7,200.3 4.1,199.5 7.5,197.5 8.7,197.7 9.8,198.3 10.6,199.2 11.2,200.3" fill="#747474" stroke="#c0c0c0" stroke-width="0.8" stroke-linejoin="round"/>
<polygon points="20.8,203.0 20.8,203.3 20.5,203.8 16.7,206.0 15.8,205.8 14.7,205.2 13.8,204.4 13.3,203.3 13.1,202.1 13.3,200.8 13.8,199.7 14.7,198.9 15.8,198.3 17.0,198.1 18.2,198.3 19.3,198.9 19.8,199.4" fill="#656565" stroke="#c0c0c0" stroke-width="0.8" stroke-linejoin="round"/>
<polygon points="26.6,200.4 26.5,201.4 26.1,202.2 23.0,203.8 22.1,203.6 21.1,203.2 20.8,202.8 19.8,199.4 19.9,199.3 20.4,198.3 21.1,197.6 22.1,197.1 23.2,196.9 24.2,197.1 24.2,197.1 26.2,198.8 26.5,199.3" fill="#727272" stroke="#c0c0c0" stroke-width="0.8" stroke-linejoin="round"/>
<polygon points="36.4,203.3 36.3,204.0 32.3,206.9 31.1,206.7 29.9,206.1 29.6,205.8 28.2,202.8 28.2,202.7 28.4,201.4 29.0,200.3 29.9,199.3 31.1,198.8 32.4,198.5 33.7,198.8 34.8,199.3 35.7,200.3 36.3,201.4 36.4,202.1" fill="#646464" stroke="#c0c0c0" stroke-width="0.8" stroke-linejoin="round"/>
<polygon points="43.6,202.8 43.4,203.9 42.9,204.9 42.4,205.4 39.8,206.3 39.4,206.3 36.7,204.1 36.6,203.9 36.4,202.9 36.4,202.7 36.6,201.7 37.1,200.7 37.9,199.9 38.9,199.4 40.0,199.2 41.1,199.4 42.1,199.9 42.9,200.7 43.1,200.9" fill="#727272" stroke="#c0c0c0" stroke-width="0.8" stroke-linejoin="round"/>
<polygon points="50.1,200.9 50.0,202.0 49.5,203.0 48.7,203.7 47.7,204.2 46.6,204.4 45.5,204.2 44.5,203.7 43.7,203.0 43.6,202.7 43.0,200.8 43.2,199.8 43.6,199.0 45.2,197.6 45.5,197.5 46.4,197.3 49.6,199.0 50.0,199.8" fill="#676767" stroke="#c0c0c0" stroke-width="0.8" stroke-linejoin="round"/>
<polygon points="59.1,201.4 58.9,202.7 58.4,203.8 57.5,204.7 56.4,205.3 55.1,205.5 53.9,205.3 52.7,204.7 51.8,203.8 51.3,202.7 51.1,201.4 51.3,200.2 51.8,199.1 52.7,198.2 53.9,197.6 55.1,197.4 56.4,197.6 57.5,198.2 58.4,199.1 58.9,200.2" fill="#858585" stroke="#c0c0c0" stroke-width="0.8" stroke-linejoin="round"/>
<polygon points="80.3,200.4 80.1,201.5 79.6,202.4 78.8,203.2 77.9,203.7 76.8,203.8 75.7,203.7 74.8,203.2 74.0,202.4 73.5,201.5 73.3,200.4 73.5,199.3 74.0,198.4 74.8,197.6 75.7,197.1 76.8,196.9 77.9,197.1 78.8,197.6 78.9,197.7 79.6,198.4 80.1,199.3" fill="#7d7d7d" stroke="#c0c0c0" stroke-width="0.8" stroke-linejoin="round"/>
<polygon points="89.5,202.4 89.4,203.6 88.8,204.6 88.0,205.5 86.9,206.0 85.8,206.2 84.6,206.0 83.6,205.5 82.7,204.6 82.2,203.6 82.0,202.4 82.2,201.3 82.7,200.2 83.6,199.4 84.6,198.8 85.8,198.7 86.9,198.8 88.0,199.4 88.8,200.2 89.4,201.3" fill="#838383" stroke="#c0c0c0" stroke-width="0.8" stroke-linejoin="round"/>
<polygon points="8.5,210.2 8.4,210.5 7.6,211.3 6.6,211.8 5.6,211.9 4.5,211.8 3.6,211.3 2.8,210.5 2.3,209.6 2.2,208.5 2.3,207.5 2.8,206.5 3.6,205.7 4.5,205.3 5.6,205.1 6.6,205.3 6.7,205.3 7.6,205.7 8.4,206.5 8.6,207.0" fill="#868686" stroke="#c0c0c0" stroke-width="0.8" stroke-linejoin="round"/>
<polygon points="15.5,208.6 15.3,209.8 14.8,210.8 14.0,211.6 13.0,212.1 11.8,212.3 10.7,212.1 9.6,211.6 8.8,210.8 8.5,210.2 8.6,206.9 8.8,206.5 9.6,205.6 10.7,205.1 11.8,204.9 13.0,205.1 14.0,205.6 14.8,206.5 15.3,207.5" fill="#7e7e7e" stroke="#c0c0c0" stroke-width="0.8" stroke-linejoin="round"/>
<polygon points="23.5,208.2 23.5,208.5 22.9,209.5 22.2,210.3 21.1,210.9 20.0,211.0 18.9,210.9 17.9,210.3 17.1,209.5 16.6,208.5 16.4,207.4 16.6,206.3 16.8,205.9 20.4,203.9 21.1,204.0 22.2,204.5 22.6,204.9" fill="#7c7c7c" stroke="#c0c0c0" stroke-width="0.8" stroke-linejoin="round"/>
<polygon points="38.5,210.6 38.3,210.8 37.2,211.4 36.0,211.5 34.9,211.4 33.8,210.8 33.0,210.0 32.5,208.9 32.3,207.8 32.4,206.8 36.2,204.0 36.7,204.1 39.5,206.3 39.6,206.5" fill="#7a7a7a" stroke="#c0c0c0" stroke-width="0.8" stroke-linejoin="round"/>
<polygon points="46.4,209.6 46.2,210.7 45.7,211.7 42.7,213.4 39.3,212.0 39.0,211.8 38.5,210.7 39.6,206.5 39.6,206.4 42.6,205.3 43.6,205.5 44.7,206.1 45.6,207.0 46.2,208.0" fill="#828282" stroke="#c0c0c0" stroke-width="0.8" stroke-linejoin="round"/>
<polygon points="53.1,208.4 53.0,209.4 52.5,210.4 51.7,211.1 50.8,211.6 49.7,211.8 48.6,211.6 47.7,211.1 46.9,210.4 46.4,209.4 46.3,208.4 46.4,207.3 46.9,206.3 47.7,205.6 48.6,205.1 49.7,204.9 50.8,205.1 51.7,205.6 52.5,206.3 53.0,207.3" fill="#6d6d6d" stroke="#c0c0c0" stroke-width="0.8" stroke-linejoin="round"/>
<polygon points="62.5,208.8 62.3,210.0 61.8,211.1 61.6,211.3 58.1,212.6 57.6,212.5 56.1,211.7 55.5,211.1 55.0,210.0 54.8,208.8 55.0,207.7 55.5,206.6 56.4,205.7 57.5,205.2 58.7,205.0 59.9,205.2 60.9,205.7 61.8,206.6 62.3,207.7" fill="#737373" stroke="#c0c0c0" stroke-width="0.8" stroke-linejoin="round"/>
<polygon points="77.5,209.7 77.2,210.4 76.4,211.2 75.4,211.7 74.3,211.9 73.4,211.7 70.9,207.8 71.0,207.2 71.5,206.2 72.2,205.5 73.2,205.0 74.3,204.8 75.4,205.0 76.4,205.5 77.2,206.2 77.7,207.2 77.7,207.4" fill="#717171" stroke="#c0c0c0" stroke-width="0.8" stroke-linejoin="round"/>
<polygon points="85.4,208.9 85.2,210.1 84.8,211.0 81.9,212.8 81.4,212.9 80.1,212.7 79.0,212.2 78.1,211.3 77.5,210.1 77.5,210.0 77.7,207.3 78.1,206.5 79.0,205.7 80.1,205.1 81.4,204.9 82.6,205.1 83.7,205.7 84.6,206.5 85.2,207.7" fill="#636363" stroke="#c0c0c0" stroke-width="0.8" stroke-linejoin="round"/>
<polygon points="12.1,215.1 11.9,216.2 11.4,217.2 10.6,218.1 9.5,218.6 8.4,218.8 7.3,218.6 6.3,218.1 5.4,217.2 4.9,216.2 4.7,215.1 4.9,214.0 5.4,212.9 6.3,212.1 7.3,211.6 8.4,211.4 9.5,211.6 10.6,212.1 11.4,212.9 11.9,214.0" fill="#828282" stroke="#c0c0c0" stroke-width="0.8" stroke-linejoin="round"/>
<polygon points="19.9,216.3 19.7,217.2 19.2,218.2 18.5,218.9 18.2,219.1 17.3,219.6 16.1,219.8 15.0,219.6 13.9,219.0 13.1,218.2 12.5,217.2 12.3,216.0 12.5,214.8 13.1,213.8 13.9,212.9 15.0,212.4 16.1,212.2 17.3,212.4 18.3,212.9 19.2,213.8 19.7,214.8 19.8,215.0" fill="#7c7c7c" stroke="#c0c0c0" stroke-width="0.8" stroke-linejoin="round"/>
<polygon points="26.7,216.6 26.2,217.5 25.4,218.3 24.4,218.8 23.3,219.0 22.2,218.8 21.2,218.3 20.4,217.5 19.9,216.5 19.8,216.0 19.8,215.2 19.9,214.3 20.4,213.3 21.2,212.6 22.2,212.1 23.3,211.9 24.4,212.1 25.4,212.6 26.2,213.3 26.4,213.8" fill="#656565" stroke="#c0c0c0" stroke-width="0.8" stroke-linejoin="round"/>
<polygon points="33.7,214.8 33.5,216.0 33.0,217.0 32.2,217.8 31.1,218.4 30.0,218.6 29.9,218.5 27.7,217.8 26.9,217.0 26.7,216.5 26.4,213.6 26.9,212.6 27.8,211.8 28.8,211.2 30.0,211.1 31.1,211.2 32.2,211.8 33.0,212.6 33.5,213.6" fill="#656565" stroke="#c0c0c0" stroke-width="0.8" stroke-linejoin="round"/>
<polygon points="42.6,218.0 42.5,218.1 39.4,219.1 38.8,219.1 38.5,218.9 37.0,217.7 36.5,216.7 36.4,215.6 36.5,214.5 37.0,213.5 37.8,212.7 38.8,212.2 39.4,212.1 42.7,213.4" fill="#7f7f7f" stroke="#c0c0c0" stroke-width="0.8" stroke-linejoin="round"/>
<polygon points="49.9,215.8 49.7,217.0 49.2,218.1 48.3,219.0 47.1,219.6 45.9,219.8 45.2,219.7 42.6,218.1 42.7,213.4 45.6,211.7 45.9,211.7 47.1,211.9 48.3,212.5 49.2,213.4 49.7,214.5" fill="#808080" stroke="#c0c0c0" stroke-width="0.8" stroke-linejoin="round"/>
<polygon points="55.5,219.7 54.9,219.8 53.6,219.6 52.4,219.0 51.5,218.0 50.9,216.9 50.7,215.6 50.9,214.3 51.5,213.1 52.4,212.2 53.6,211.6 54.9,211.4 55.9,211.6 57.7,212.6 57.9,212.8 58.5,217.6" fill="#636363" stroke="#c0c0c0" stroke-width="0.8" stroke-linejoin="round"/>
<polygon points="64.5,214.9 64.4,216.0 63.9,217.0 63.0,217.8 62.0,218.3 61.4,218.4 58.6,217.7 58.5,217.5 57.9,212.9 58.0,212.7 58.1,212.6 61.5,211.3 62.0,211.4 63.0,211.9 63.9,212.7 64.4,213.7" fill="#777777" stroke="#c0c0c0" stroke-width="0.8" stroke-linejoin="round"/>
<polygon points="73.6,216.4 73.4,217.5 73.3,217.7 70.8,219.8 70.1,219.9 69.1,219.7 68.1,219.2 67.3,218.5 66.8,217.5 66.7,216.4 66.8,215.4 67.3,214.4 68.1,213.6 68.1,213.6 72.2,213.7 72.9,214.4 73.4,215.4" fill="#737373" stroke="#c0c0c0" stroke-width="0.8" stroke-linejoin="round"/>
<polygon points="88.3,214.4 88.2,215.5 87.7,216.4 86.9,217.2 86.0,217.7 84.9,217.8 83.9,217.7 82.9,217.2 82.2,216.4 81.7,215.5 81.5,214.4 81.7,213.4 82.0,212.7 84.6,211.1 84.9,211.0 86.0,211.2 86.9,211.7 87.7,212.4 88.2,213.4" fill="#6c6c6c" stroke="#c0c0c0" stroke-width="0.8" stroke-linejoin="round"/>
<polygon points="7.5,222.0 7.3,223.2 6.7,224.4 5.8,225.3 4.6,225.9 3.4,226.1 2.1,225.9 1.0,225.3 0.0,224.4 -0.5,223.2 -0.7,222.0 -0.5,220.7 0.0,219.6 1.0,218.7 2.1,218.1 3.4,217.9 4.6,218.1 5.8,218.7 6.7,219.6 7.3,220.7" fill="#797979" stroke="#c0c0c0" stroke-width="0.8" stroke-linejoin="round"/>
<polygon points="16.2,223.6 16.0,224.8 15.4,225.9 14.6,226.7 13.5,227.3 12.3,227.5 11.1,227.3 10.0,226.7 9.2,225.9 8.6,224.8 8.4,223.6 8.6,222.4 9.2,221.3 10.0,220.5 11.1,219.9 12.3,219.7 13.5,219.9 14.6,220.5 15.4,221.3 16.0,222.4" fill="#737373" stroke="#c0c0c0" stroke-width="0.8" stroke-linejoin="round"/>
<polygon points="23.7,223.1 23.7,223.1 23.2,224.1 22.4,224.9 21.4,225.4 20.3,225.6 19.2,225.4 18.2,224.9 17.4,224.1 16.9,223.1 16.7,222.0 16.9,220.9 17.4,219.9 18.2,219.1 19.2,218.6 20.3,218.4 21.4,218.6 22.4,219.1 23.2,219.9 23.7,220.7" fill="#747474" stroke="#c0c0c0" stroke-width="0.8" stroke-linejoin="round"/>
<polygon points="31.5,221.7 31.3,223.0 30.8,224.1 29.9,225.0 28.7,225.6 27.5,225.8 26.2,225.6 25.1,225.0 24.2,224.1 23.7,223.2 23.6,220.5 24.2,219.4 24.9,218.7 25.5,218.2 26.2,217.9 27.5,217.7 27.5,217.7 30.0,218.6 30.8,219.4 31.3,220.5" fill="#6f6f6f" stroke="#c0c0c0" stroke-width="0.8" stroke-linejoin="round"/>
<polygon points="38.5,223.5 37.8,224.2 36.7,224.7 35.6,224.9 34.4,224.7 33.4,224.2 32.5,223.4 32.0,222.3 31.8,221.2 32.0,220.0 32.5,219.0 33.4,218.1 34.4,217.6 35.6,217.4 36.7,217.6 37.1,217.8 38.6,219.0 38.9,219.6" fill="#6d6d6d" stroke="#c0c0c0" stroke-width="0.8" stroke-linejoin="round"/>
<polygon points="45.9,221.9 45.7,223.1 45.2,224.2 44.3,225.1 43.2,225.6 42.0,225.8 40.8,225.6 39.7,225.1 38.9,224.2 38.5,223.5 39.0,219.5 39.3,219.2 42.6,218.1 42.7,218.1 45.2,219.7 45.7,220.7" fill="#707070" stroke="#c0c0c0" stroke-width="0.8" stroke-linejoin="round"/>
<polygon points="55.2,222.8 55.0,223.8 54.5,224.8 53.7,225.6 52.7,226.1 51.6,226.2 50.5,226.1 49.5,225.6 48.7,224.8 48.2,223.8 48.1,222.7 48.2,221.6 48.7,220.6 49.5,219.8 50.5,219.3 51.6,219.1 52.7,219.3 53.7,219.8 54.5,220.6 55.0,221.5" fill="#6a6a6a" stroke="#c0c0c0" stroke-width="0.8" stroke-linejoin="round"/>
<polygon points="63.1,221.7 62.9,222.9 62.4,224.1 61.4,225.0 60.3,225.6 59.0,225.8 57.7,225.6 56.6,225.0 55.7,224.1 55.2,223.2 55.0,221.3 55.1,220.4 55.5,219.7 58.5,217.6 58.5,217.6 61.6,218.5 62.4,219.2 62.9,220.4" fill="#6c6c6c" stroke="#c0c0c0" stroke-width="0.8" stroke-linejoin="round"/>
<polygon points="78.0,221.6 77.9,222.6 77.3,223.6 76.5,224.5 75.4,225.0 74.2,225.2 73.0,225.0 71.9,224.5 71.1,223.6 70.5,222.6 70.4,221.4 70.5,220.2 70.7,219.9 73.4,217.7 74.2,217.5 75.4,217.7 75.9,218.0" fill="#7a7a7a" stroke="#c0c0c0" stroke-width="0.8" stroke-linejoin="round"/>
<ellipse cx="21" cy="178" rx="10" ry="24" fill="#000" fill-opacity="0.12"/>
</g>
<text x="12.8" y="221.3" font-size="6.6" style="font-family:'Liberation Sans',sans-serif;fill:#fff;stroke:none;font-weight:bold">20 nm</text>
<rect x="13" y="222.2" width="13" height="0.9" fill="#fff"/>
</g>
<text class="s" x="1.3" y="11.6" font-size="10.2">A</text>
<text class="s" x="92" y="11.7" font-size="10.2">B</text>
<rect x="166.45" y="2.30" width="4.26" height="63.40" fill="#ffc0c2"/>
<polyline points="120.7,51.4 121.3,51.5 121.8,51.5 122.4,51.6 123.0,51.5 123.5,51.8 124.1,51.7 124.7,51.7 125.3,51.8 125.8,51.7 126.4,51.5 127.0,51.3 127.5,51.3 128.1,51.2 128.7,51.2 129.2,51.2 129.8,51.4 130.4,51.3 131.0,51.4 131.5,51.5 132.1,51.5 132.7,51.4 133.2,51.3 133.8,51.3 134.4,51.2 134.9,51.0 135.5,50.9 136.1,50.9 136.7,51.0 137.2,51.0 137.8,51.1 138.4,50.9 138.9,50.9 139.5,51.0 140.1,51.0 140.7,51.1 141.2,51.1 141.8,51.1 142.4,51.0 142.9,51.1 143.5,51.0 144.1,51.1 144.6,51.2 145.2,51.2 145.8,51.1 146.3,51.2 146.9,51.2 147.5,51.3 148.1,51.4 148.6,51.3 149.2,51.4 149.8,51.4 150.3,51.5 150.9,51.5 151.5,51.6 152.1,51.5 152.6,51.6 153.2,51.7 153.8,51.7 154.3,51.8 154.9,51.8 155.5,51.7 156.0,51.8 156.6,51.9 157.2,51.9 157.8,52.1 158.3,52.0 158.9,52.1 159.5,52.0 160.0,52.1 160.6,52.1 161.2,52.2 161.7,52.1 162.3,52.0 162.9,52.0 163.5,52.0 164.0,51.9 164.6,51.9 165.2,51.8 165.7,51.5 166.3,51.3 166.9,51.1 167.4,50.2 168.0,49.1 168.6,47.9 169.2,45.0 169.7,42.0 170.3,39.1 170.9,36.0 171.4,33.4 172.0,30.7 172.6,27.9 173.1,25.2 173.7,22.4 174.3,20.0 174.8,18.0 175.4,15.8 176.0,13.8 176.6,12.7 177.1,12.0 177.7,11.2 178.3,11.2 178.8,11.1 179.4,11.2 180.0,11.2 180.6,11.0 181.1,11.0 181.7,11.1 182.3,11.2 182.8,11.2 183.4,11.3 184.0,11.4 184.5,11.4 185.1,11.4 185.7,11.6 186.2,11.5 186.8,11.6 187.4,11.7 188.0,12.0 188.5,12.1 189.1,12.0 189.7,12.0 190.2,12.1 190.8,12.2 191.4,12.2 192.0,12.3 192.5,12.4 193.1,12.3 193.7,12.4 194.2,12.4 194.8,12.5 195.4,12.6 195.9,12.6 196.5,12.6 197.1,12.7 197.7,12.8 198.2,12.9 198.8,12.9 199.4,12.9 199.9,13.0 200.5,13.0 201.1,13.0 201.6,13.1 202.2,13.2 202.8,13.4 203.4,13.4 203.9,13.5 204.5,13.6 205.1,13.6 205.6,13.7 206.2,13.7 206.8,13.8 207.3,13.8 207.9,13.8 208.5,13.9 209.1,14.1 209.6,14.1 210.2,14.2 210.8,14.3 211.3,14.5 211.9,14.7 212.5,14.6 213.0,14.7 213.6,14.9 214.2,15.0 214.8,15.1 215.3,15.1 215.9,15.1 216.5,15.3 217.0,15.3 217.6,15.3 218.2,15.4 218.7,15.4 219.3,15.5 219.9,15.6 220.4,15.7 221.0,15.7 221.6,15.9 222.2,16.0 222.7,16.1 223.3,16.2 223.9,16.2 224.4,16.4 225.0,16.5 225.6,16.4 226.2,16.4 226.7,16.7 227.3,16.7 227.9,16.9 228.4,17.0 229.0,17.1 229.6,17.2 230.1,17.5 230.7,17.6 231.3,17.7 231.9,17.7 232.4,17.8 233.0,17.8 233.6,17.8 234.1,18.0 234.7,17.9 235.3,18.0 235.8,18.0 236.4,18.1 237.0,18.2 237.6,18.2 238.1,18.2 238.7,18.2 239.3,18.3 239.8,18.3 240.4,18.5 241.0,18.7 241.5,18.5 242.1,18.7 242.7,18.7 243.3,18.8 243.8,19.0 244.4,19.1 245.0,19.3 245.5,19.3 246.1,19.3 246.7,19.5 247.2,19.5 247.8,19.4 248.4,19.6 249.0,19.7 249.5,19.8 250.1,19.7 250.7,19.7 251.2,19.7 251.8,19.8 252.4,19.7 252.9,19.9 253.5,19.9 254.1,19.8 254.7,20.0 255.2,20.0 255.8,20.3 256.4,20.3 256.9,20.5 257.5,20.5" fill="none" stroke="#e2642f" stroke-width="1.5" stroke-linejoin="round"/>
<rect x="120.70" y="2.30" width="136.80" height="63.40" fill="none" stroke="#858585" stroke-width="0.8"/>
<line x1="120.70" y1="65.70" x2="120.70" y2="64.30" stroke="#858585" stroke-width="0.8"/>
<line x1="120.70" y1="2.30" x2="120.70" y2="3.70" stroke="#858585" stroke-width="0.8"/>
<text x="121.00" y="75.20" font-size="7.6" text-anchor="middle">0</text>
<line x1="143.50" y1="65.70" x2="143.50" y2="64.30" stroke="#858585" stroke-width="0.8"/>
<line x1="143.50" y1="2.30" x2="143.50" y2="3.70" stroke="#858585" stroke-width="0.8"/>
<text x="143.80" y="75.20" font-size="7.6" text-anchor="middle">15</text>
<line x1="166.30" y1="65.70" x2="166.30" y2="64.30" stroke="#858585" stroke-width="0.8"/>
<line x1="166.30" y1="2.30" x2="166.30" y2="3.70" stroke="#858585" stroke-width="0.8"/>
<text x="166.60" y="75.20" font-size="7.6" text-anchor="middle">30</text>
<line x1="189.10" y1="65.70" x2="189.10" y2="64.30" stroke="#858585" stroke-width="0.8"/>
<line x1="189.10" y1="2.30" x2="189.10" y2="3.70" stroke="#858585" stroke-width="0.8"/>
<text x="189.40" y="75.20" font-size="7.6" text-anchor="middle">45</text>
<line x1="211.90" y1="65.70" x2="211.90" y2="64.30" stroke="#858585" stroke-width="0.8"/>
<line x1="211.90" y1="2.30" x2="211.90" y2="3.70" stroke="#858585" stroke-width="0.8"/>
<text x="212.20" y="75.20" font-size="7.6" text-anchor="middle">60</text>
<line x1="234.70" y1="65.70" x2="234.70" y2="64.30" stroke="#858585" stroke-width="0.8"/>
<line x1="234.70" y1="2.30" x2="234.70" y2="3.70" stroke="#858585" stroke-width="0.8"/>
<text x="235.00" y="75.20" font-size="7.6" text-anchor="middle">75</text>
<line x1="257.50" y1="65.70" x2="257.50" y2="64.30" stroke="#858585" stroke-width="0.8"/>
<line x1="257.50" y1="2.30" x2="257.50" y2="3.70" stroke="#858585" stroke-width="0.8"/>
<text x="257.80" y="75.20" font-size="7.6" text-anchor="middle">90</text>
<line x1="120.70" y1="65.70" x2="122.10" y2="65.70" stroke="#858585" stroke-width="0.8"/>
<line x1="257.50" y1="65.70" x2="256.10" y2="65.70" stroke="#858585" stroke-width="0.8"/>
<text x="118.50" y="68.30" font-size="7.6" text-anchor="end">-2</text>
<line x1="120.70" y1="51.61" x2="122.10" y2="51.61" stroke="#858585" stroke-width="0.8"/>
<line x1="257.50" y1="51.61" x2="256.10" y2="51.61" stroke="#858585" stroke-width="0.8"/>
<text x="118.50" y="54.21" font-size="7.6" text-anchor="end">0</text>
<line x1="120.70" y1="37.52" x2="122.10" y2="37.52" stroke="#858585" stroke-width="0.8"/>
<line x1="257.50" y1="37.52" x2="256.10" y2="37.52" stroke="#858585" stroke-width="0.8"/>
<text x="118.50" y="40.12" font-size="7.6" text-anchor="end">2</text>
<line x1="120.70" y1="23.43" x2="122.10" y2="23.43" stroke="#858585" stroke-width="0.8"/>
<line x1="257.50" y1="23.43" x2="256.10" y2="23.43" stroke="#858585" stroke-width="0.8"/>
<text x="118.50" y="26.03" font-size="7.6" text-anchor="end">4</text>
<line x1="120.70" y1="9.34" x2="122.10" y2="9.34" stroke="#858585" stroke-width="0.8"/>
<line x1="257.50" y1="9.34" x2="256.10" y2="9.34" stroke="#858585" stroke-width="0.8"/>
<text x="118.50" y="11.94" font-size="7.6" text-anchor="end">6</text>
<text x="254.00" y="11.60" font-size="8.2" text-anchor="end">847.57 W<tspan dx="1.5">&#183;</tspan><tspan dx="1.5" font-style="italic">g</tspan><tspan font-size="5.2" dy="-3.1">&#8722;1</tspan></text>
<rect x="125.10" y="7.30" width="11" height="6.4" fill="#ffc0c2" stroke="#ffc0c2" stroke-width="0.5"/>
<text x="136.90" y="12.20" font-size="8.2">Ch1 on</text>
<line x1="185.20" y1="58.40" x2="196.20" y2="58.40" stroke="#e2642f" stroke-width="1.5"/>
<text x="197.70" y="61.10" font-size="8.2">15 nm Co-doped</text>
<text x="0" y="0" font-size="9.0" text-anchor="middle" style="stroke:none" textLength="65.5" lengthAdjust="spacingAndGlyphs" transform="translate(108.40,34.60) rotate(-90)">Temperature (&#176;C)</text>
<rect x="322.47" y="2.30" width="22.78" height="63.40" fill="#cbcbfd"/>
<polygon points="276.9,51.1 277.5,51.0 278.0,50.7 278.6,51.0 279.2,50.9 279.7,50.9 280.3,50.7 280.9,50.9 281.5,50.6 282.0,50.8 282.6,50.7 283.2,50.7 283.7,50.5 284.3,50.6 284.9,50.5 285.4,50.5 286.0,50.6 286.6,50.3 287.2,50.3 287.7,50.2 288.3,50.1 288.9,50.2 289.4,50.0 290.0,50.3 290.6,50.2 291.1,50.3 291.7,50.3 292.3,50.2 292.8,50.4 293.4,50.1 294.0,50.4 294.6,50.5 295.1,50.3 295.7,50.4 296.3,50.6 296.8,50.5 297.4,50.6 298.0,50.9 298.5,51.2 299.1,51.2 299.7,51.3 300.3,51.3 300.8,51.2 301.4,51.3 302.0,51.0 302.5,51.0 303.1,50.9 303.7,51.0 304.2,51.0 304.8,51.0 305.4,50.8 305.9,50.7 306.5,50.6 307.1,50.7 307.7,50.7 308.2,50.6 308.8,50.8 309.4,50.6 309.9,50.7 310.5,50.8 311.1,50.7 311.6,50.6 312.2,50.6 312.8,50.7 313.4,50.9 313.9,50.7 314.5,50.7 315.1,50.9 315.6,50.7 316.2,51.0 316.8,51.1 317.3,51.2 317.9,51.5 318.5,51.3 319.0,51.3 319.6,51.4 320.2,51.6 320.8,51.3 321.3,51.2 321.9,51.2 322.5,51.1 323.0,51.3 323.6,50.9 324.2,51.1 324.7,51.1 325.3,51.0 325.9,51.0 326.5,51.0 327.0,51.0 327.6,50.6 328.2,50.8 328.7,50.6 329.3,50.6 329.9,50.3 330.4,50.1 331.0,50.1 331.6,50.0 332.1,49.8 332.7,50.0 333.3,50.0 333.9,50.0 334.4,49.7 335.0,49.8 335.6,49.7 336.1,49.6 336.7,49.5 337.3,49.4 337.8,49.3 338.4,49.2 339.0,49.2 339.6,49.1 340.1,49.0 340.7,48.7 341.3,48.6 341.8,48.7 342.4,48.3 343.0,48.0 343.5,48.0 344.1,47.8 344.7,47.2 345.2,47.2 345.8,47.2 346.4,46.9 347.0,46.7 347.5,47.1 348.1,46.9 348.7,46.9 349.2,46.8 349.8,46.7 350.4,46.5 350.9,46.5 351.5,46.5 352.1,46.1 352.7,46.2 353.2,46.3 353.8,46.4 354.4,46.4 354.9,46.4 355.5,46.4 356.1,46.3 356.6,46.5 357.2,46.6 357.8,46.7 358.4,46.4 358.9,46.7 359.5,46.9 360.1,47.0 360.6,46.9 361.2,46.8 361.8,46.7 362.3,47.0 362.9,47.2 363.5,47.1 364.0,47.3 364.6,47.3 365.2,47.1 365.8,47.0 366.3,47.0 366.9,46.9 367.5,46.8 368.0,46.6 368.6,46.7 369.2,47.0 369.7,46.9 370.3,47.3 370.9,47.2 371.5,47.2 372.0,47.2 372.6,47.4 373.2,47.2 373.7,47.4 374.3,47.4 374.9,47.3 375.4,47.4 376.0,47.4 376.6,47.3 377.1,47.3 377.7,47.3 378.3,47.6 378.9,47.2 379.4,47.5 380.0,47.4 380.6,47.3 381.1,47.4 381.7,47.4 382.3,47.2 382.8,47.3 383.4,47.5 384.0,47.0 384.6,47.3 385.1,47.1 385.7,46.9 386.3,47.1 386.8,46.9 387.4,46.7 388.0,46.9 388.5,46.9 389.1,46.9 389.7,46.9 390.2,47.2 390.8,47.0 391.4,47.2 392.0,47.3 392.5,47.2 393.1,47.3 393.7,47.3 394.2,47.6 394.8,47.6 395.4,47.6 395.9,47.2 396.5,47.3 397.1,47.3 397.7,47.1 398.2,47.1 398.8,47.1 399.4,47.0 399.9,47.1 400.5,47.3 401.1,47.5 401.6,47.3 402.2,47.6 402.8,47.5 403.3,47.6 403.9,47.4 404.5,47.3 405.1,47.2 405.6,47.2 406.2,47.0 406.8,47.2 407.3,47.1 407.9,47.2 408.5,47.6 409.0,47.7 409.6,47.6 410.2,47.6 410.8,47.4 411.3,47.5 411.9,47.1 412.5,47.2 413.0,46.9 413.6,47.1 413.6,48.9 413.0,48.9 412.5,48.9 411.9,49.1 411.3,49.3 410.8,49.4 410.2,49.6 409.6,49.3 409.0,49.4 408.5,49.5 407.9,49.0 407.3,48.9 406.8,48.9 406.2,49.0 405.6,49.1 405.1,49.2 404.5,49.1 403.9,49.0 403.3,49.3 402.8,49.3 402.2,49.3 401.6,49.3 401.1,49.3 400.5,49.2 399.9,49.0 399.4,49.0 398.8,48.9 398.2,48.9 397.7,49.2 397.1,49.1 396.5,49.2 395.9,49.3 395.4,49.3 394.8,49.4 394.2,49.4 393.7,49.2 393.1,49.2 392.5,48.9 392.0,48.9 391.4,48.9 390.8,48.6 390.2,48.9 389.7,48.9 389.1,48.9 388.5,48.7 388.0,48.7 387.4,48.7 386.8,48.7 386.3,48.7 385.7,48.7 385.1,48.9 384.6,49.1 384.0,49.0 383.4,49.2 382.8,49.3 382.3,49.1 381.7,49.2 381.1,49.2 380.6,49.1 380.0,49.1 379.4,49.3 378.9,49.1 378.3,49.4 377.7,49.2 377.1,49.0 376.6,49.2 376.0,49.2 375.4,49.0 374.9,49.0 374.3,49.3 373.7,49.2 373.2,49.0 372.6,49.0 372.0,48.9 371.5,49.0 370.9,49.0 370.3,48.9 369.7,48.6 369.2,48.8 368.6,48.6 368.0,48.5 367.5,48.5 366.9,48.7 366.3,48.7 365.8,48.9 365.2,49.1 364.6,49.1 364.0,49.1 363.5,49.1 362.9,49.0 362.3,48.9 361.8,48.6 361.2,48.5 360.6,48.8 360.1,48.7 359.5,48.8 358.9,48.6 358.4,48.3 357.8,48.4 357.2,48.4 356.6,48.2 356.1,48.3 355.5,48.3 354.9,48.2 354.4,48.2 353.8,48.1 353.2,48.2 352.7,48.0 352.1,48.0 351.5,48.2 350.9,48.4 350.4,48.4 349.8,48.6 349.2,48.7 348.7,48.8 348.1,49.0 347.5,48.9 347.0,48.6 346.4,48.8 345.8,48.8 345.2,48.9 344.7,49.0 344.1,49.6 343.5,49.8 343.0,49.8 342.4,50.0 341.8,50.6 341.3,50.4 340.7,50.5 340.1,50.7 339.6,50.7 339.0,51.2 338.4,51.1 337.8,51.2 337.3,51.5 336.7,51.3 336.1,51.5 335.6,51.4 335.0,51.4 334.4,51.6 333.9,51.7 333.3,51.7 332.7,52.0 332.1,51.7 331.6,51.8 331.0,52.0 330.4,51.9 329.9,52.3 329.3,52.5 328.7,52.4 328.2,52.5 327.6,52.5 327.0,52.9 326.5,52.9 325.9,53.0 325.3,52.9 324.7,52.8 324.2,52.8 323.6,52.8 323.0,53.1 322.5,52.9 321.9,52.9 321.3,52.9 320.8,53.2 320.2,53.2 319.6,53.1 319.0,53.2 318.5,53.1 317.9,53.2 317.3,52.9 316.8,52.9 316.2,52.8 315.6,52.7 315.1,52.5 314.5,52.7 313.9,52.5 313.4,52.7 312.8,52.4 312.2,52.4 311.6,52.4 311.1,52.4 310.5,52.5 309.9,52.7 309.4,52.6 308.8,52.6 308.2,52.5 307.7,52.7 307.1,52.7 306.5,52.6 305.9,52.6 305.4,52.7 304.8,52.6 304.2,52.8 303.7,52.9 303.1,52.7 302.5,52.8 302.0,52.8 301.4,53.1 300.8,53.1 300.3,53.0 299.7,53.1 299.1,53.2 298.5,52.9 298.0,52.6 297.4,52.5 296.8,52.2 296.3,52.5 295.7,52.1 295.1,52.2 294.6,52.4 294.0,52.3 293.4,52.1 292.8,52.0 292.3,52.1 291.7,52.1 291.1,52.0 290.6,52.1 290.0,52.0 289.4,51.9 288.9,52.1 288.3,52.0 287.7,51.9 287.2,52.1 286.6,52.4 286.0,52.3 285.4,52.1 284.9,52.4 284.3,52.5 283.7,52.4 283.2,52.3 282.6,52.5 282.0,52.7 281.5,52.4 280.9,52.7 280.3,52.6 279.7,52.6 279.2,52.7 278.6,52.5 278.0,52.5 277.5,52.9 276.9,53.0" fill="#d95319" fill-opacity="0.187" stroke="#d95319" stroke-opacity="0.132" stroke-width="0.9"/>
<polyline points="276.9,52.0 277.5,51.9 278.0,51.7 278.6,51.7 279.2,51.7 279.7,51.8 280.3,51.6 280.9,51.7 281.5,51.6 282.0,51.7 282.6,51.6 283.2,51.5 283.7,51.4 284.3,51.5 284.9,51.5 285.4,51.3 286.0,51.4 286.6,51.3 287.2,51.1 287.7,51.0 288.3,51.0 288.9,51.2 289.4,51.0 290.0,51.2 290.6,51.1 291.1,51.1 291.7,51.3 292.3,51.2 292.8,51.2 293.4,51.1 294.0,51.3 294.6,51.3 295.1,51.2 295.7,51.2 296.3,51.5 296.8,51.4 297.4,51.6 298.0,51.8 298.5,52.0 299.1,52.2 299.7,52.2 300.3,52.2 300.8,52.2 301.4,52.2 302.0,52.0 302.5,52.0 303.1,51.9 303.7,51.9 304.2,51.8 304.8,51.8 305.4,51.8 305.9,51.7 306.5,51.6 307.1,51.7 307.7,51.6 308.2,51.7 308.8,51.6 309.4,51.7 309.9,51.7 310.5,51.6 311.1,51.6 311.6,51.5 312.2,51.6 312.8,51.5 313.4,51.7 313.9,51.6 314.5,51.7 315.1,51.7 315.6,51.7 316.2,51.9 316.8,52.0 317.3,52.1 317.9,52.4 318.5,52.3 319.0,52.3 319.6,52.2 320.2,52.4 320.8,52.2 321.3,52.1 321.9,52.0 322.5,52.0 323.0,52.2 323.6,51.9 324.2,52.0 324.7,51.9 325.3,51.8 325.9,52.0 326.5,52.0 327.0,51.9 327.6,51.6 328.2,51.6 328.7,51.5 329.3,51.4 329.9,51.3 330.4,51.1 331.0,51.1 331.6,51.0 332.1,50.9 332.7,51.0 333.3,50.9 333.9,50.8 334.4,50.7 335.0,50.6 335.6,50.6 336.1,50.5 336.7,50.5 337.3,50.4 337.8,50.3 338.4,50.2 339.0,50.2 339.6,49.9 340.1,49.9 340.7,49.6 341.3,49.6 341.8,49.6 342.4,49.1 343.0,49.0 343.5,48.8 344.1,48.7 344.7,48.2 345.2,48.0 345.8,48.0 346.4,47.8 347.0,47.7 347.5,48.0 348.1,48.0 348.7,47.9 349.2,47.7 349.8,47.7 350.4,47.4 350.9,47.4 351.5,47.4 352.1,47.1 352.7,47.2 353.2,47.3 353.8,47.2 354.4,47.2 354.9,47.2 355.5,47.4 356.1,47.3 356.6,47.4 357.2,47.4 357.8,47.5 358.4,47.4 358.9,47.7 359.5,47.8 360.1,47.8 360.6,47.8 361.2,47.7 361.8,47.8 362.3,47.9 362.9,48.0 363.5,48.0 364.0,48.1 364.6,48.2 365.2,48.2 365.8,48.0 366.3,47.8 366.9,47.9 367.5,47.7 368.0,47.5 368.6,47.7 369.2,47.8 369.7,47.8 370.3,48.1 370.9,48.1 371.5,48.1 372.0,48.0 372.6,48.1 373.2,48.2 373.7,48.2 374.3,48.3 374.9,48.2 375.4,48.2 376.0,48.3 376.6,48.2 377.1,48.2 377.7,48.2 378.3,48.4 378.9,48.2 379.4,48.5 380.0,48.3 380.6,48.2 381.1,48.3 381.7,48.3 382.3,48.2 382.8,48.3 383.4,48.3 384.0,48.1 384.6,48.1 385.1,48.0 385.7,47.9 386.3,47.9 386.8,47.9 387.4,47.8 388.0,47.9 388.5,47.9 389.1,47.9 389.7,47.9 390.2,48.0 390.8,47.7 391.4,48.0 392.0,48.1 392.5,48.0 393.1,48.2 393.7,48.2 394.2,48.4 394.8,48.4 395.4,48.5 395.9,48.3 396.5,48.3 397.1,48.3 397.7,48.2 398.2,48.1 398.8,48.0 399.4,48.0 399.9,48.1 400.5,48.3 401.1,48.3 401.6,48.3 402.2,48.5 402.8,48.5 403.3,48.4 403.9,48.2 404.5,48.2 405.1,48.2 405.6,48.1 406.2,48.1 406.8,48.0 407.3,48.0 407.9,48.1 408.5,48.5 409.0,48.5 409.6,48.5 410.2,48.6 410.8,48.4 411.3,48.3 411.9,48.1 412.5,48.0 413.0,47.9 413.6,48.1" fill="none" stroke="#e2642f" stroke-width="1.5" stroke-linejoin="round"/>
<rect x="276.90" y="2.30" width="136.70" height="63.40" fill="none" stroke="#858585" stroke-width="0.8"/>
<line x1="276.90" y1="65.70" x2="276.90" y2="64.30" stroke="#858585" stroke-width="0.8"/>
<line x1="276.90" y1="2.30" x2="276.90" y2="3.70" stroke="#858585" stroke-width="0.8"/>
<text x="277.20" y="75.20" font-size="7.6" text-anchor="middle">0</text>
<line x1="299.68" y1="65.70" x2="299.68" y2="64.30" stroke="#858585" stroke-width="0.8"/>
<line x1="299.68" y1="2.30" x2="299.68" y2="3.70" stroke="#858585" stroke-width="0.8"/>
<text x="299.98" y="75.20" font-size="7.6" text-anchor="middle">15</text>
<line x1="322.47" y1="65.70" x2="322.47" y2="64.30" stroke="#858585" stroke-width="0.8"/>
<line x1="322.47" y1="2.30" x2="322.47" y2="3.70" stroke="#858585" stroke-width="0.8"/>
<text x="322.77" y="75.20" font-size="7.6" text-anchor="middle">30</text>
<line x1="345.25" y1="65.70" x2="345.25" y2="64.30" stroke="#858585" stroke-width="0.8"/>
<line x1="345.25" y1="2.30" x2="345.25" y2="3.70" stroke="#858585" stroke-width="0.8"/>
<text x="345.55" y="75.20" font-size="7.6" text-anchor="middle">45</text>
<line x1="368.03" y1="65.70" x2="368.03" y2="64.30" stroke="#858585" stroke-width="0.8"/>
<line x1="368.03" y1="2.30" x2="368.03" y2="3.70" stroke="#858585" stroke-width="0.8"/>
<text x="368.33" y="75.20" font-size="7.6" text-anchor="middle">60</text>
<line x1="390.82" y1="65.70" x2="390.82" y2="64.30" stroke="#858585" stroke-width="0.8"/>
<line x1="390.82" y1="2.30" x2="390.82" y2="3.70" stroke="#858585" stroke-width="0.8"/>
<text x="391.12" y="75.20" font-size="7.6" text-anchor="middle">75</text>
<line x1="413.60" y1="65.70" x2="413.60" y2="64.30" stroke="#858585" stroke-width="0.8"/>
<line x1="413.60" y1="2.30" x2="413.60" y2="3.70" stroke="#858585" stroke-width="0.8"/>
<text x="413.90" y="75.20" font-size="7.6" text-anchor="middle">90</text>
<line x1="276.90" y1="65.70" x2="278.30" y2="65.70" stroke="#858585" stroke-width="0.8"/>
<line x1="413.60" y1="65.70" x2="412.20" y2="65.70" stroke="#858585" stroke-width="0.8"/>
<text x="274.70" y="68.30" font-size="7.6" text-anchor="end">-2</text>
<line x1="276.90" y1="51.61" x2="278.30" y2="51.61" stroke="#858585" stroke-width="0.8"/>
<line x1="413.60" y1="51.61" x2="412.20" y2="51.61" stroke="#858585" stroke-width="0.8"/>
<text x="274.70" y="54.21" font-size="7.6" text-anchor="end">0</text>
<line x1="276.90" y1="37.52" x2="278.30" y2="37.52" stroke="#858585" stroke-width="0.8"/>
<line x1="413.60" y1="37.52" x2="412.20" y2="37.52" stroke="#858585" stroke-width="0.8"/>
<text x="274.70" y="40.12" font-size="7.6" text-anchor="end">2</text>
<line x1="276.90" y1="23.43" x2="278.30" y2="23.43" stroke="#858585" stroke-width="0.8"/>
<line x1="413.60" y1="23.43" x2="412.20" y2="23.43" stroke="#858585" stroke-width="0.8"/>
<text x="274.70" y="26.03" font-size="7.6" text-anchor="end">4</text>
<line x1="276.90" y1="9.34" x2="278.30" y2="9.34" stroke="#858585" stroke-width="0.8"/>
<line x1="413.60" y1="9.34" x2="412.20" y2="9.34" stroke="#858585" stroke-width="0.8"/>
<text x="274.70" y="11.94" font-size="7.6" text-anchor="end">6</text>
<text x="410.10" y="11.60" font-size="8.2" text-anchor="end">18.44 W<tspan dx="1.5">&#183;</tspan><tspan dx="1.5" font-style="italic">g</tspan><tspan font-size="5.2" dy="-3.1">&#8722;1</tspan></text>
<rect x="281.30" y="7.30" width="11" height="6.4" fill="#cbcbfd" stroke="#cbcbfd" stroke-width="0.5"/>
<text x="293.10" y="12.20" font-size="8.2">Ch2 on</text>
<rect x="478.47" y="2.30" width="22.78" height="63.40" fill="#ffffc9"/>
<polygon points="432.9,51.4 433.5,51.2 434.0,51.3 434.6,51.4 435.2,51.4 435.7,51.4 436.3,51.5 436.9,51.5 437.5,51.4 438.0,51.2 438.6,51.0 439.2,51.0 439.7,51.0 440.3,50.9 440.9,51.0 441.4,50.9 442.0,51.0 442.6,51.0 443.2,51.0 443.7,51.2 444.3,51.1 444.9,51.2 445.4,51.1 446.0,51.1 446.6,50.9 447.1,51.0 447.7,51.1 448.3,51.0 448.8,51.0 449.4,50.9 450.0,51.1 450.6,51.0 451.1,51.0 451.7,51.1 452.3,51.1 452.8,50.9 453.4,51.0 454.0,50.9 454.5,51.0 455.1,50.9 455.7,51.0 456.3,51.0 456.8,50.9 457.4,51.0 458.0,50.9 458.5,51.0 459.1,51.1 459.7,51.0 460.2,51.1 460.8,51.0 461.4,51.0 461.9,51.3 462.5,51.2 463.1,51.5 463.7,51.3 464.2,51.3 464.8,51.3 465.4,51.0 465.9,51.2 466.5,51.1 467.1,51.1 467.6,51.1 468.2,51.2 468.8,51.3 469.4,51.3 469.9,51.3 470.5,51.4 471.1,51.4 471.6,51.5 472.2,51.4 472.8,51.2 473.3,51.1 473.9,51.2 474.5,51.1 475.0,51.2 475.6,51.2 476.2,51.0 476.8,51.0 477.3,51.0 477.9,50.9 478.5,51.0 479.0,50.9 479.6,51.0 480.2,51.0 480.7,51.1 481.3,51.0 481.9,50.9 482.5,51.1 483.0,51.1 483.6,51.1 484.2,51.0 484.7,51.4 485.3,51.3 485.9,51.2 486.4,51.3 487.0,51.5 487.6,51.2 488.1,51.3 488.7,51.2 489.3,51.0 489.9,51.2 490.4,51.2 491.0,51.2 491.6,51.1 492.1,51.2 492.7,51.0 493.3,51.1 493.8,51.0 494.4,51.2 495.0,50.9 495.6,51.0 496.1,51.1 496.7,50.9 497.3,50.9 497.8,51.0 498.4,51.1 499.0,51.0 499.5,51.1 500.1,51.2 500.7,51.1 501.2,51.3 501.8,51.2 502.4,51.3 503.0,51.3 503.5,51.3 504.1,51.3 504.7,51.2 505.2,51.3 505.8,51.4 506.4,51.4 506.9,51.3 507.5,51.1 508.1,51.2 508.7,51.0 509.2,51.2 509.8,50.9 510.4,51.0 510.9,51.0 511.5,51.0 512.1,50.7 512.6,50.9 513.2,50.9 513.8,50.9 514.4,51.0 514.9,51.1 515.5,51.0 516.1,51.0 516.6,51.2 517.2,51.1 517.8,51.0 518.3,51.1 518.9,51.1 519.5,51.0 520.0,51.3 520.6,51.2 521.2,51.1 521.8,51.2 522.3,51.1 522.9,50.8 523.5,50.8 524.0,51.0 524.6,50.9 525.2,51.0 525.7,50.9 526.3,50.8 526.9,50.7 527.5,50.8 528.0,50.7 528.6,50.8 529.2,50.9 529.7,50.9 530.3,51.0 530.9,51.3 531.4,51.3 532.0,51.3 532.6,51.3 533.1,51.3 533.7,51.2 534.3,51.3 534.9,51.1 535.4,51.2 536.0,51.2 536.6,51.2 537.1,51.3 537.7,51.1 538.3,51.1 538.8,51.3 539.4,51.3 540.0,51.3 540.6,51.1 541.1,51.1 541.7,50.8 542.3,51.0 542.8,51.0 543.4,50.9 544.0,51.0 544.5,51.1 545.1,51.1 545.7,51.3 546.2,51.2 546.8,51.3 547.4,51.3 548.0,51.3 548.5,51.3 549.1,51.4 549.7,51.2 550.2,51.3 550.8,51.1 551.4,51.1 551.9,51.3 552.5,51.2 553.1,51.3 553.7,51.3 554.2,51.3 554.8,51.2 555.4,51.2 555.9,51.3 556.5,51.2 557.1,51.1 557.6,51.1 558.2,51.0 558.8,51.1 559.3,51.0 559.9,51.3 560.5,51.2 561.1,51.3 561.6,51.3 562.2,51.1 562.8,51.2 563.3,51.1 563.9,51.1 564.5,51.0 565.0,51.1 565.6,51.1 566.2,51.0 566.8,51.0 567.3,51.0 567.9,50.9 568.5,50.8 569.0,50.9 569.6,51.0 569.6,52.0 569.0,51.9 568.5,51.9 567.9,51.9 567.3,52.0 566.8,52.1 566.2,52.0 565.6,52.0 565.0,52.1 564.5,52.2 563.9,52.1 563.3,52.2 562.8,52.1 562.2,52.2 561.6,52.3 561.1,52.3 560.5,52.1 559.9,52.2 559.3,52.1 558.8,52.1 558.2,52.1 557.6,52.2 557.1,52.0 556.5,52.2 555.9,52.3 555.4,52.3 554.8,52.2 554.2,52.2 553.7,52.2 553.1,52.2 552.5,52.2 551.9,52.3 551.4,52.2 550.8,52.1 550.2,52.2 549.7,52.2 549.1,52.3 548.5,52.1 548.0,52.2 547.4,52.3 546.8,52.4 546.2,52.1 545.7,52.2 545.1,52.0 544.5,52.1 544.0,52.1 543.4,52.0 542.8,51.9 542.3,52.0 541.7,51.9 541.1,52.1 540.6,52.0 540.0,52.2 539.4,52.1 538.8,52.2 538.3,52.1 537.7,52.1 537.1,52.2 536.6,52.1 536.0,52.1 535.4,52.2 534.9,52.1 534.3,52.3 533.7,52.2 533.1,52.1 532.6,52.4 532.0,52.1 531.4,52.2 530.9,52.3 530.3,52.1 529.7,52.0 529.2,51.9 528.6,51.8 528.0,51.8 527.5,51.9 526.9,51.7 526.3,51.7 525.7,51.8 525.2,52.0 524.6,51.9 524.0,51.9 523.5,51.8 522.9,51.9 522.3,52.1 521.8,52.1 521.2,52.1 520.6,52.2 520.0,52.3 519.5,52.1 518.9,52.1 518.3,52.1 517.8,52.1 517.2,52.0 516.6,52.2 516.1,51.9 515.5,52.0 514.9,52.0 514.4,51.9 513.8,51.9 513.2,51.9 512.6,51.8 512.1,51.9 511.5,51.8 510.9,51.9 510.4,51.9 509.8,51.9 509.2,52.1 508.7,52.1 508.1,52.1 507.5,52.1 506.9,52.4 506.4,52.4 505.8,52.4 505.2,52.3 504.7,52.3 504.1,52.3 503.5,52.3 503.0,52.3 502.4,52.3 501.8,52.2 501.2,52.2 500.7,52.1 500.1,52.1 499.5,52.0 499.0,52.0 498.4,52.0 497.8,51.9 497.3,52.0 496.7,51.9 496.1,52.1 495.6,52.0 495.0,51.9 494.4,52.1 493.8,52.0 493.3,52.0 492.7,52.0 492.1,52.1 491.6,52.1 491.0,52.2 490.4,52.1 489.9,52.2 489.3,52.1 488.7,52.2 488.1,52.3 487.6,52.2 487.0,52.3 486.4,52.3 485.9,52.3 485.3,52.4 484.7,52.3 484.2,52.1 483.6,52.1 483.0,52.0 482.5,52.0 481.9,51.9 481.3,52.1 480.7,52.0 480.2,51.9 479.6,51.9 479.0,51.9 478.5,52.0 477.9,51.8 477.3,52.0 476.8,52.1 476.2,52.0 475.6,52.0 475.0,52.2 474.5,52.1 473.9,52.1 473.3,52.1 472.8,52.2 472.2,52.5 471.6,52.4 471.1,52.5 470.5,52.5 469.9,52.3 469.4,52.3 468.8,52.3 468.2,52.3 467.6,52.0 467.1,52.0 466.5,52.1 465.9,52.2 465.4,52.1 464.8,52.3 464.2,52.2 463.7,52.3 463.1,52.4 462.5,52.1 461.9,52.3 461.4,52.1 460.8,52.1 460.2,52.1 459.7,52.0 459.1,52.1 458.5,52.0 458.0,51.9 457.4,51.9 456.8,52.0 456.3,52.0 455.7,51.9 455.1,51.8 454.5,52.0 454.0,51.9 453.4,52.1 452.8,52.0 452.3,52.1 451.7,52.0 451.1,52.1 450.6,52.0 450.0,52.0 449.4,52.0 448.8,51.9 448.3,52.1 447.7,52.0 447.1,52.0 446.6,51.9 446.0,52.1 445.4,52.1 444.9,52.2 444.3,52.0 443.7,52.2 443.2,52.0 442.6,52.0 442.0,52.0 441.4,51.8 440.9,51.9 440.3,51.9 439.7,52.0 439.2,52.0 438.6,52.0 438.0,52.2 437.5,52.3 436.9,52.4 436.3,52.5 435.7,52.4 435.2,52.5 434.6,52.4 434.0,52.3 433.5,52.3 432.9,52.3" fill="#d95319" fill-opacity="0.187" stroke="#d95319" stroke-opacity="0.132" stroke-width="0.9"/>
<polyline points="432.9,51.8 433.5,51.8 434.0,51.8 434.6,51.9 435.2,51.9 435.7,51.9 436.3,51.9 436.9,51.9 437.5,51.8 438.0,51.7 438.6,51.5 439.2,51.5 439.7,51.4 440.3,51.3 440.9,51.5 441.4,51.4 442.0,51.5 442.6,51.5 443.2,51.5 443.7,51.7 444.3,51.6 444.9,51.7 445.4,51.5 446.0,51.6 446.6,51.5 447.1,51.5 447.7,51.6 448.3,51.5 448.8,51.4 449.4,51.4 450.0,51.5 450.6,51.6 451.1,51.6 451.7,51.5 452.3,51.5 452.8,51.4 453.4,51.5 454.0,51.4 454.5,51.4 455.1,51.3 455.7,51.4 456.3,51.5 456.8,51.5 457.4,51.4 458.0,51.4 458.5,51.5 459.1,51.6 459.7,51.5 460.2,51.6 460.8,51.5 461.4,51.6 461.9,51.7 462.5,51.7 463.1,51.9 463.7,51.8 464.2,51.7 464.8,51.8 465.4,51.6 465.9,51.7 466.5,51.6 467.1,51.6 467.6,51.6 468.2,51.7 468.8,51.8 469.4,51.8 469.9,51.8 470.5,51.9 471.1,51.9 471.6,51.9 472.2,51.9 472.8,51.7 473.3,51.7 473.9,51.7 474.5,51.6 475.0,51.7 475.6,51.6 476.2,51.5 476.8,51.6 477.3,51.5 477.9,51.4 478.5,51.5 479.0,51.4 479.6,51.4 480.2,51.4 480.7,51.5 481.3,51.6 481.9,51.4 482.5,51.5 483.0,51.5 483.6,51.7 484.2,51.6 484.7,51.9 485.3,51.8 485.9,51.8 486.4,51.8 487.0,51.9 487.6,51.7 488.1,51.7 488.7,51.7 489.3,51.5 489.9,51.7 490.4,51.6 491.0,51.7 491.6,51.6 492.1,51.6 492.7,51.6 493.3,51.5 493.8,51.5 494.4,51.7 495.0,51.5 495.6,51.5 496.1,51.6 496.7,51.4 497.3,51.5 497.8,51.4 498.4,51.5 499.0,51.5 499.5,51.5 500.1,51.7 500.7,51.6 501.2,51.7 501.8,51.6 502.4,51.8 503.0,51.8 503.5,51.8 504.1,51.8 504.7,51.8 505.2,51.8 505.8,51.9 506.4,51.9 506.9,51.8 507.5,51.6 508.1,51.6 508.7,51.6 509.2,51.6 509.8,51.5 510.4,51.4 510.9,51.5 511.5,51.4 512.1,51.3 512.6,51.4 513.2,51.4 513.8,51.3 514.4,51.5 514.9,51.5 515.5,51.4 516.1,51.5 516.6,51.6 517.2,51.5 517.8,51.6 518.3,51.5 518.9,51.6 519.5,51.6 520.0,51.7 520.6,51.7 521.2,51.6 521.8,51.6 522.3,51.6 522.9,51.4 523.5,51.3 524.0,51.4 524.6,51.4 525.2,51.5 525.7,51.3 526.3,51.2 526.9,51.2 527.5,51.3 528.0,51.2 528.6,51.4 529.2,51.5 529.7,51.4 530.3,51.5 530.9,51.8 531.4,51.7 532.0,51.7 532.6,51.8 533.1,51.7 533.7,51.7 534.3,51.7 534.9,51.7 535.4,51.7 536.0,51.6 536.6,51.7 537.1,51.8 537.7,51.6 538.3,51.6 538.8,51.7 539.4,51.7 540.0,51.7 540.6,51.6 541.1,51.6 541.7,51.4 542.3,51.5 542.8,51.4 543.4,51.5 544.0,51.6 544.5,51.6 545.1,51.5 545.7,51.8 546.2,51.7 546.8,51.9 547.4,51.8 548.0,51.7 548.5,51.7 549.1,51.8 549.7,51.7 550.2,51.8 550.8,51.6 551.4,51.6 551.9,51.8 552.5,51.7 553.1,51.7 553.7,51.8 554.2,51.8 554.8,51.7 555.4,51.8 555.9,51.7 556.5,51.7 557.1,51.5 557.6,51.7 558.2,51.6 558.8,51.7 559.3,51.6 559.9,51.7 560.5,51.6 561.1,51.8 561.6,51.8 562.2,51.7 562.8,51.7 563.3,51.6 563.9,51.6 564.5,51.6 565.0,51.5 565.6,51.5 566.2,51.5 566.8,51.5 567.3,51.5 567.9,51.4 568.5,51.4 569.0,51.5 569.6,51.5" fill="none" stroke="#e2642f" stroke-width="1.5" stroke-linejoin="round"/>
<rect x="432.90" y="2.30" width="136.70" height="63.40" fill="none" stroke="#858585" stroke-width="0.8"/>
<line x1="432.90" y1="65.70" x2="432.90" y2="64.30" stroke="#858585" stroke-width="0.8"/>
<line x1="432.90" y1="2.30" x2="432.90" y2="3.70" stroke="#858585" stroke-width="0.8"/>
<text x="433.20" y="75.20" font-size="7.6" text-anchor="middle">0</text>
<line x1="455.68" y1="65.70" x2="455.68" y2="64.30" stroke="#858585" stroke-width="0.8"/>
<line x1="455.68" y1="2.30" x2="455.68" y2="3.70" stroke="#858585" stroke-width="0.8"/>
<text x="455.98" y="75.20" font-size="7.6" text-anchor="middle">15</text>
<line x1="478.47" y1="65.70" x2="478.47" y2="64.30" stroke="#858585" stroke-width="0.8"/>
<line x1="478.47" y1="2.30" x2="478.47" y2="3.70" stroke="#858585" stroke-width="0.8"/>
<text x="478.77" y="75.20" font-size="7.6" text-anchor="middle">30</text>
<line x1="501.25" y1="65.70" x2="501.25" y2="64.30" stroke="#858585" stroke-width="0.8"/>
<line x1="501.25" y1="2.30" x2="501.25" y2="3.70" stroke="#858585" stroke-width="0.8"/>
<text x="501.55" y="75.20" font-size="7.6" text-anchor="middle">45</text>
<line x1="524.03" y1="65.70" x2="524.03" y2="64.30" stroke="#858585" stroke-width="0.8"/>
<line x1="524.03" y1="2.30" x2="524.03" y2="3.70" stroke="#858585" stroke-width="0.8"/>
<text x="524.33" y="75.20" font-size="7.6" text-anchor="middle">60</text>
<line x1="546.82" y1="65.70" x2="546.82" y2="64.30" stroke="#858585" stroke-width="0.8"/>
<line x1="546.82" y1="2.30" x2="546.82" y2="3.70" stroke="#858585" stroke-width="0.8"/>
<text x="547.12" y="75.20" font-size="7.6" text-anchor="middle">75</text>
<line x1="569.60" y1="65.70" x2="569.60" y2="64.30" stroke="#858585" stroke-width="0.8"/>
<line x1="569.60" y1="2.30" x2="569.60" y2="3.70" stroke="#858585" stroke-width="0.8"/>
<text x="569.90" y="75.20" font-size="7.6" text-anchor="middle">90</text>
<line x1="432.90" y1="65.70" x2="434.30" y2="65.70" stroke="#858585" stroke-width="0.8"/>
<line x1="569.60" y1="65.70" x2="568.20" y2="65.70" stroke="#858585" stroke-width="0.8"/>
<text x="430.70" y="68.30" font-size="7.6" text-anchor="end">-2</text>
<line x1="432.90" y1="51.61" x2="434.30" y2="51.61" stroke="#858585" stroke-width="0.8"/>
<line x1="569.60" y1="51.61" x2="568.20" y2="51.61" stroke="#858585" stroke-width="0.8"/>
<text x="430.70" y="54.21" font-size="7.6" text-anchor="end">0</text>
<line x1="432.90" y1="37.52" x2="434.30" y2="37.52" stroke="#858585" stroke-width="0.8"/>
<line x1="569.60" y1="37.52" x2="568.20" y2="37.52" stroke="#858585" stroke-width="0.8"/>
<text x="430.70" y="40.12" font-size="7.6" text-anchor="end">2</text>
<line x1="432.90" y1="23.43" x2="434.30" y2="23.43" stroke="#858585" stroke-width="0.8"/>
<line x1="569.60" y1="23.43" x2="568.20" y2="23.43" stroke="#858585" stroke-width="0.8"/>
<text x="430.70" y="26.03" font-size="7.6" text-anchor="end">4</text>
<line x1="432.90" y1="9.34" x2="434.30" y2="9.34" stroke="#858585" stroke-width="0.8"/>
<line x1="569.60" y1="9.34" x2="568.20" y2="9.34" stroke="#858585" stroke-width="0.8"/>
<text x="430.70" y="11.94" font-size="7.6" text-anchor="end">6</text>
<text x="566.10" y="11.60" font-size="8.2" text-anchor="end">4.8 W<tspan dx="1.5">&#183;</tspan><tspan dx="1.5" font-style="italic">g</tspan><tspan font-size="5.2" dy="-3.1">&#8722;1</tspan></text>
<rect x="437.30" y="7.30" width="11" height="6.4" fill="#ffffc9" stroke="#ffffc9" stroke-width="0.5"/>
<text x="449.10" y="12.20" font-size="8.2">Ch3 on</text>
<rect x="166.45" y="78.60" width="4.26" height="63.60" fill="#ffc0c2"/>
<polygon points="120.7,125.8 121.3,125.8 121.8,125.9 122.4,125.8 123.0,125.6 123.5,125.8 124.1,125.5 124.7,125.7 125.3,125.7 125.8,125.4 126.4,125.7 127.0,125.8 127.5,125.6 128.1,125.7 128.7,125.8 129.2,125.9 129.8,126.0 130.4,125.9 131.0,125.9 131.5,126.0 132.1,126.3 132.7,126.2 133.2,126.1 133.8,126.1 134.4,126.0 134.9,126.0 135.5,125.9 136.1,125.8 136.7,125.9 137.2,125.9 137.8,126.1 138.4,126.0 138.9,126.1 139.5,126.4 140.1,126.2 140.7,126.1 141.2,126.0 141.8,125.8 142.4,125.9 142.9,125.6 143.5,125.7 144.1,125.4 144.6,125.7 145.2,125.8 145.8,125.6 146.3,125.5 146.9,125.8 147.5,125.6 148.1,125.7 148.6,125.6 149.2,125.9 149.8,125.9 150.3,125.8 150.9,126.0 151.5,126.0 152.1,126.0 152.6,125.8 153.2,125.6 153.8,125.4 154.3,125.5 154.9,125.6 155.5,125.4 156.0,125.7 156.6,125.4 157.2,125.6 157.8,125.8 158.3,125.8 158.9,125.8 159.5,125.6 160.0,125.8 160.6,125.9 161.2,126.0 161.7,126.1 162.3,126.1 162.9,126.2 163.5,126.1 164.0,125.9 164.6,126.0 165.2,125.8 165.7,126.0 166.3,126.0 166.9,126.3 167.4,126.6 168.0,126.7 168.6,125.9 169.2,125.4 169.7,125.2 170.3,124.6 170.9,123.7 171.4,123.3 172.0,122.4 172.6,121.7 173.1,121.3 173.7,120.6 174.3,120.0 174.8,119.9 175.4,119.8 176.0,119.4 176.6,119.2 177.1,118.9 177.7,119.0 178.3,119.1 178.8,119.0 179.4,119.0 180.0,119.1 180.6,119.1 181.1,119.3 181.7,119.2 182.3,119.3 182.8,119.1 183.4,119.1 184.0,119.4 184.5,119.3 185.1,119.4 185.7,119.3 186.2,119.5 186.8,119.4 187.4,119.4 188.0,119.6 188.5,119.4 189.1,119.5 189.7,119.3 190.2,119.4 190.8,119.4 191.4,119.2 192.0,119.2 192.5,118.9 193.1,119.2 193.7,119.0 194.2,119.2 194.8,119.1 195.4,119.2 195.9,119.2 196.5,119.1 197.1,118.9 197.7,118.9 198.2,119.1 198.8,119.0 199.4,119.1 199.9,119.1 200.5,119.0 201.1,118.8 201.6,119.1 202.2,119.1 202.8,119.0 203.4,119.2 203.9,119.1 204.5,119.2 205.1,119.0 205.6,118.8 206.2,118.8 206.8,118.6 207.3,118.3 207.9,118.3 208.5,118.4 209.1,118.5 209.6,118.4 210.2,118.3 210.8,118.3 211.3,118.4 211.9,118.3 212.5,118.3 213.0,118.7 213.6,118.7 214.2,118.7 214.8,118.7 215.3,118.9 215.9,119.1 216.5,118.9 217.0,119.1 217.6,118.9 218.2,119.3 218.7,119.3 219.3,119.0 219.9,119.2 220.4,119.2 221.0,119.4 221.6,119.2 222.2,119.3 222.7,119.5 223.3,119.3 223.9,119.3 224.4,119.3 225.0,119.1 225.6,119.3 226.2,119.3 226.7,119.1 227.3,119.2 227.9,119.1 228.4,119.1 229.0,118.8 229.6,118.7 230.1,118.4 230.7,118.5 231.3,118.4 231.9,118.4 232.4,118.5 233.0,118.5 233.6,118.4 234.1,118.7 234.7,118.5 235.3,118.6 235.8,118.8 236.4,118.9 237.0,118.9 237.6,118.8 238.1,119.0 238.7,119.0 239.3,119.2 239.8,119.3 240.4,119.5 241.0,119.3 241.5,119.5 242.1,119.4 242.7,119.6 243.3,119.7 243.8,119.7 244.4,119.6 245.0,119.7 245.5,119.5 246.1,119.9 246.7,119.7 247.2,119.9 247.8,119.9 248.4,119.8 249.0,119.9 249.5,120.0 250.1,119.9 250.7,120.0 251.2,120.2 251.8,120.3 252.4,120.2 252.9,120.4 253.5,120.6 254.1,120.5 254.7,120.7 255.2,120.7 255.8,120.9 256.4,121.0 256.9,121.1 257.5,121.3 257.5,122.1 256.9,122.1 256.4,122.0 255.8,121.8 255.2,121.6 254.7,121.7 254.1,121.5 253.5,121.5 252.9,121.5 252.4,121.1 251.8,121.3 251.2,121.1 250.7,120.9 250.1,120.8 249.5,120.9 249.0,120.8 248.4,120.8 247.8,120.8 247.2,120.9 246.7,120.6 246.1,120.8 245.5,120.4 245.0,120.6 244.4,120.5 243.8,120.5 243.3,120.6 242.7,120.5 242.1,120.4 241.5,120.5 241.0,120.3 240.4,120.4 239.8,120.3 239.3,120.2 238.7,120.1 238.1,120.0 237.6,119.9 237.0,119.9 236.4,119.8 235.8,119.8 235.3,119.7 234.7,119.5 234.1,119.6 233.6,119.5 233.0,119.5 232.4,119.4 231.9,119.3 231.3,119.3 230.7,119.5 230.1,119.4 229.6,119.6 229.0,119.8 228.4,120.0 227.9,120.0 227.3,120.1 226.7,120.2 226.2,120.3 225.6,120.3 225.0,120.2 224.4,120.2 223.9,120.2 223.3,120.4 222.7,120.4 222.2,120.4 221.6,120.1 221.0,120.3 220.4,120.3 219.9,120.1 219.3,120.0 218.7,120.2 218.2,120.1 217.6,119.9 217.0,120.1 216.5,119.9 215.9,120.0 215.3,119.8 214.8,119.7 214.2,119.6 213.6,119.7 213.0,119.6 212.5,119.3 211.9,119.2 211.3,119.3 210.8,119.3 210.2,119.3 209.6,119.4 209.1,119.4 208.5,119.3 207.9,119.2 207.3,119.3 206.8,119.5 206.2,119.6 205.6,119.7 205.1,119.9 204.5,120.2 203.9,119.9 203.4,120.0 202.8,119.9 202.2,120.1 201.6,120.1 201.1,119.9 200.5,120.0 199.9,120.1 199.4,120.0 198.8,119.9 198.2,120.0 197.7,119.9 197.1,119.9 196.5,120.1 195.9,120.2 195.4,120.2 194.8,120.0 194.2,120.2 193.7,120.0 193.1,120.0 192.5,119.9 192.0,120.3 191.4,120.2 190.8,120.4 190.2,120.4 189.7,120.3 189.1,120.5 188.5,120.3 188.0,120.5 187.4,120.3 186.8,120.4 186.2,120.4 185.7,120.3 185.1,120.5 184.5,120.3 184.0,120.4 183.4,120.1 182.8,120.0 182.3,120.2 181.7,120.2 181.1,120.2 180.6,120.1 180.0,120.0 179.4,119.9 178.8,119.9 178.3,120.1 177.7,119.9 177.1,119.9 176.6,120.1 176.0,120.4 175.4,120.8 174.8,121.0 174.3,121.0 173.7,121.5 173.1,122.3 172.6,122.6 172.0,123.4 171.4,124.2 170.9,124.7 170.3,125.5 169.7,126.1 169.2,126.4 168.6,126.9 168.0,127.6 167.4,127.6 166.9,127.3 166.3,127.1 165.7,127.1 165.2,126.7 164.6,126.9 164.0,126.9 163.5,127.0 162.9,127.1 162.3,127.1 161.7,127.2 161.2,126.9 160.6,126.9 160.0,126.8 159.5,126.5 158.9,126.8 158.3,126.7 157.8,126.7 157.2,126.4 156.6,126.4 156.0,126.6 155.5,126.3 154.9,126.5 154.3,126.5 153.8,126.4 153.2,126.5 152.6,126.7 152.1,126.9 151.5,127.0 150.9,127.0 150.3,126.8 149.8,126.9 149.2,126.8 148.6,126.6 148.1,126.5 147.5,126.6 146.9,126.7 146.3,126.5 145.8,126.6 145.2,126.7 144.6,126.7 144.1,126.4 143.5,126.6 142.9,126.5 142.4,126.9 141.8,126.8 141.2,127.0 140.7,127.1 140.1,127.1 139.5,127.4 138.9,127.1 138.4,127.0 137.8,127.2 137.2,126.8 136.7,126.9 136.1,126.7 135.5,126.9 134.9,127.0 134.4,126.9 133.8,127.1 133.2,127.0 132.7,127.3 132.1,127.3 131.5,127.0 131.0,126.9 130.4,126.8 129.8,126.9 129.2,126.9 128.7,126.7 128.1,126.5 127.5,126.7 127.0,126.7 126.4,126.7 125.8,126.4 125.3,126.7 124.7,126.6 124.1,126.5 123.5,126.7 123.0,126.5 122.4,126.8 121.8,126.9 121.3,126.7 120.7,126.7" fill="#0072bd" fill-opacity="0.187" stroke="#0072bd" stroke-opacity="0.132" stroke-width="0.9"/>
<polyline points="120.7,126.2 121.3,126.2 121.8,126.4 122.4,126.3 123.0,126.1 123.5,126.2 124.1,126.0 124.7,126.1 125.3,126.2 125.8,125.9 126.4,126.3 127.0,126.2 127.5,126.2 128.1,126.1 128.7,126.3 129.2,126.4 129.8,126.4 130.4,126.4 131.0,126.4 131.5,126.5 132.1,126.8 132.7,126.8 133.2,126.6 133.8,126.7 134.4,126.5 134.9,126.5 135.5,126.5 136.1,126.2 136.7,126.4 137.2,126.4 137.8,126.6 138.4,126.5 138.9,126.6 139.5,126.9 140.1,126.7 140.7,126.6 141.2,126.5 141.8,126.3 142.4,126.4 142.9,126.1 143.5,126.1 144.1,126.0 144.6,126.2 145.2,126.2 145.8,126.1 146.3,126.0 146.9,126.3 147.5,126.2 148.1,126.1 148.6,126.1 149.2,126.3 149.8,126.4 150.3,126.3 150.9,126.5 151.5,126.5 152.1,126.4 152.6,126.3 153.2,126.0 153.8,125.9 154.3,126.0 154.9,126.1 155.5,125.9 156.0,126.1 156.6,125.9 157.2,126.0 157.8,126.2 158.3,126.3 158.9,126.3 159.5,126.1 160.0,126.4 160.6,126.4 161.2,126.4 161.7,126.7 162.3,126.7 162.9,126.7 163.5,126.6 164.0,126.3 164.6,126.5 165.2,126.3 165.7,126.6 166.3,126.6 166.9,126.8 167.4,127.1 168.0,127.1 168.6,126.4 169.2,125.9 169.7,125.6 170.3,125.0 170.9,124.2 171.4,123.7 172.0,122.9 172.6,122.2 173.1,121.8 173.7,121.1 174.3,120.5 174.8,120.5 175.4,120.3 176.0,119.9 176.6,119.6 177.1,119.4 177.7,119.5 178.3,119.6 178.8,119.5 179.4,119.5 180.0,119.5 180.6,119.6 181.1,119.7 181.7,119.6 182.3,119.8 182.8,119.6 183.4,119.7 184.0,119.9 184.5,119.8 185.1,120.0 185.7,119.9 186.2,120.0 186.8,119.9 187.4,119.9 188.0,120.0 188.5,119.9 189.1,120.0 189.7,119.8 190.2,119.9 190.8,120.0 191.4,119.7 192.0,119.8 192.5,119.4 193.1,119.6 193.7,119.5 194.2,119.6 194.8,119.5 195.4,119.7 195.9,119.7 196.5,119.6 197.1,119.4 197.7,119.4 198.2,119.6 198.8,119.5 199.4,119.5 199.9,119.5 200.5,119.5 201.1,119.4 201.6,119.6 202.2,119.6 202.8,119.5 203.4,119.6 203.9,119.5 204.5,119.7 205.1,119.5 205.6,119.3 206.2,119.2 206.8,119.0 207.3,118.9 207.9,118.7 208.5,118.9 209.1,119.0 209.6,118.9 210.2,118.8 210.8,118.8 211.3,118.9 211.9,118.7 212.5,118.9 213.0,119.1 213.6,119.3 214.2,119.2 214.8,119.2 215.3,119.3 215.9,119.5 216.5,119.4 217.0,119.6 217.6,119.5 218.2,119.7 218.7,119.7 219.3,119.5 219.9,119.7 220.4,119.8 221.0,119.8 221.6,119.7 222.2,119.9 222.7,119.9 223.3,119.9 223.9,119.8 224.4,119.7 225.0,119.7 225.6,119.8 226.2,119.8 226.7,119.6 227.3,119.6 227.9,119.5 228.4,119.5 229.0,119.2 229.6,119.2 230.1,118.9 230.7,119.0 231.3,118.8 231.9,118.8 232.4,118.9 233.0,119.0 233.6,119.0 234.1,119.2 234.7,119.0 235.3,119.2 235.8,119.3 236.4,119.3 237.0,119.4 237.6,119.4 238.1,119.4 238.7,119.5 239.3,119.7 239.8,119.8 240.4,119.9 241.0,119.8 241.5,120.0 242.1,119.9 242.7,120.1 243.3,120.1 243.8,120.1 244.4,120.0 245.0,120.1 245.5,120.0 246.1,120.3 246.7,120.1 247.2,120.4 247.8,120.3 248.4,120.3 249.0,120.4 249.5,120.4 250.1,120.3 250.7,120.5 251.2,120.6 251.8,120.7 252.4,120.7 252.9,120.9 253.5,121.0 254.1,121.0 254.7,121.2 255.2,121.2 255.8,121.4 256.4,121.6 256.9,121.6 257.5,121.7" fill="none" stroke="#2a7fc4" stroke-width="1.5" stroke-linejoin="round"/>
<rect x="120.70" y="78.60" width="136.80" height="63.60" fill="none" stroke="#858585" stroke-width="0.8"/>
<line x1="120.70" y1="142.20" x2="120.70" y2="140.80" stroke="#858585" stroke-width="0.8"/>
<line x1="120.70" y1="78.60" x2="120.70" y2="80.00" stroke="#858585" stroke-width="0.8"/>
<text x="121.00" y="151.10" font-size="7.6" text-anchor="middle">0</text>
<line x1="143.50" y1="142.20" x2="143.50" y2="140.80" stroke="#858585" stroke-width="0.8"/>
<line x1="143.50" y1="78.60" x2="143.50" y2="80.00" stroke="#858585" stroke-width="0.8"/>
<text x="143.80" y="151.10" font-size="7.6" text-anchor="middle">15</text>
<line x1="166.30" y1="142.20" x2="166.30" y2="140.80" stroke="#858585" stroke-width="0.8"/>
<line x1="166.30" y1="78.60" x2="166.30" y2="80.00" stroke="#858585" stroke-width="0.8"/>
<text x="166.60" y="151.10" font-size="7.6" text-anchor="middle">30</text>
<line x1="189.10" y1="142.20" x2="189.10" y2="140.80" stroke="#858585" stroke-width="0.8"/>
<line x1="189.10" y1="78.60" x2="189.10" y2="80.00" stroke="#858585" stroke-width="0.8"/>
<text x="189.40" y="151.10" font-size="7.6" text-anchor="middle">45</text>
<line x1="211.90" y1="142.20" x2="211.90" y2="140.80" stroke="#858585" stroke-width="0.8"/>
<line x1="211.90" y1="78.60" x2="211.90" y2="80.00" stroke="#858585" stroke-width="0.8"/>
<text x="212.20" y="151.10" font-size="7.6" text-anchor="middle">60</text>
<line x1="234.70" y1="142.20" x2="234.70" y2="140.80" stroke="#858585" stroke-width="0.8"/>
<line x1="234.70" y1="78.60" x2="234.70" y2="80.00" stroke="#858585" stroke-width="0.8"/>
<text x="235.00" y="151.10" font-size="7.6" text-anchor="middle">75</text>
<line x1="257.50" y1="142.20" x2="257.50" y2="140.80" stroke="#858585" stroke-width="0.8"/>
<line x1="257.50" y1="78.60" x2="257.50" y2="80.00" stroke="#858585" stroke-width="0.8"/>
<text x="257.80" y="151.10" font-size="7.6" text-anchor="middle">90</text>
<line x1="120.70" y1="142.20" x2="122.10" y2="142.20" stroke="#858585" stroke-width="0.8"/>
<line x1="257.50" y1="142.20" x2="256.10" y2="142.20" stroke="#858585" stroke-width="0.8"/>
<text x="118.50" y="144.80" font-size="7.6" text-anchor="end">-1</text>
<line x1="120.70" y1="126.30" x2="122.10" y2="126.30" stroke="#858585" stroke-width="0.8"/>
<line x1="257.50" y1="126.30" x2="256.10" y2="126.30" stroke="#858585" stroke-width="0.8"/>
<text x="118.50" y="128.90" font-size="7.6" text-anchor="end">0</text>
<line x1="120.70" y1="110.40" x2="122.10" y2="110.40" stroke="#858585" stroke-width="0.8"/>
<line x1="257.50" y1="110.40" x2="256.10" y2="110.40" stroke="#858585" stroke-width="0.8"/>
<text x="118.50" y="113.00" font-size="7.6" text-anchor="end">1</text>
<line x1="120.70" y1="94.50" x2="122.10" y2="94.50" stroke="#858585" stroke-width="0.8"/>
<line x1="257.50" y1="94.50" x2="256.10" y2="94.50" stroke="#858585" stroke-width="0.8"/>
<text x="118.50" y="97.10" font-size="7.6" text-anchor="end">2</text>
<line x1="120.70" y1="78.60" x2="122.10" y2="78.60" stroke="#858585" stroke-width="0.8"/>
<line x1="257.50" y1="78.60" x2="256.10" y2="78.60" stroke="#858585" stroke-width="0.8"/>
<text x="118.50" y="81.20" font-size="7.6" text-anchor="end">3</text>
<text x="254.00" y="87.90" font-size="8.2" text-anchor="end">151.63 W<tspan dx="1.5">&#183;</tspan><tspan dx="1.5" font-style="italic">g</tspan><tspan font-size="5.2" dy="-3.1">&#8722;1</tspan></text>
<line x1="185.20" y1="134.90" x2="196.20" y2="134.90" stroke="#2a7fc4" stroke-width="1.5"/>
<text x="197.70" y="137.60" font-size="8.2">19 nm undoped</text>
<text x="0" y="0" font-size="9.0" text-anchor="middle" style="stroke:none" textLength="65.5" lengthAdjust="spacingAndGlyphs" transform="translate(108.40,111.00) rotate(-90)">Temperature (&#176;C)</text>
<rect x="322.47" y="78.60" width="22.78" height="63.60" fill="#cbcbfd"/>
<polygon points="276.9,124.2 277.5,124.3 278.0,124.1 278.6,124.0 279.2,123.9 279.7,124.1 280.3,123.9 280.9,123.9 281.5,123.9 282.0,123.7 282.6,124.0 283.2,124.1 283.7,123.4 284.3,124.0 284.9,124.0 285.4,123.6 286.0,123.6 286.6,123.9 287.2,124.2 287.7,124.4 288.3,124.1 288.9,124.2 289.4,124.5 290.0,124.4 290.6,124.4 291.1,124.4 291.7,124.7 292.3,124.2 292.8,124.4 293.4,124.8 294.0,124.8 294.6,125.0 295.1,125.2 295.7,125.2 296.3,124.9 296.8,125.2 297.4,124.6 298.0,124.5 298.5,124.4 299.1,124.2 299.7,123.9 300.3,124.1 300.8,124.2 301.4,124.3 302.0,124.5 302.5,124.7 303.1,124.6 303.7,124.7 304.2,124.7 304.8,124.5 305.4,124.6 305.9,124.9 306.5,124.4 307.1,124.8 307.7,124.6 308.2,124.7 308.8,124.3 309.4,124.6 309.9,124.8 310.5,124.8 311.1,124.9 311.6,125.0 312.2,125.2 312.8,125.5 313.4,125.5 313.9,125.1 314.5,125.5 315.1,125.6 315.6,125.5 316.2,125.3 316.8,125.1 317.3,125.3 317.9,125.3 318.5,125.4 319.0,125.0 319.6,125.4 320.2,125.4 320.8,125.0 321.3,124.9 321.9,124.6 322.5,124.7 323.0,124.8 323.6,125.2 324.2,125.1 324.7,124.7 325.3,124.2 325.9,124.3 326.5,123.3 327.0,122.9 327.6,122.2 328.2,121.0 328.7,120.1 329.3,119.5 329.9,118.7 330.4,117.7 331.0,117.0 331.6,116.3 332.1,115.7 332.7,114.4 333.3,114.0 333.9,112.6 334.4,112.5 335.0,111.6 335.6,110.3 336.1,109.0 336.7,108.6 337.3,108.0 337.8,107.2 338.4,105.9 339.0,105.6 339.6,104.5 340.1,103.6 340.7,103.1 341.3,102.0 341.8,101.5 342.4,101.0 343.0,100.1 343.5,99.0 344.1,98.4 344.7,98.1 345.2,97.3 345.8,96.7 346.4,95.8 347.0,95.6 347.5,95.7 348.1,95.3 348.7,95.3 349.2,95.0 349.8,94.6 350.4,94.6 350.9,95.1 351.5,95.2 352.1,95.4 352.7,95.2 353.2,95.8 353.8,95.8 354.4,95.5 354.9,96.5 355.5,96.9 356.1,96.7 356.6,96.8 357.2,96.7 357.8,97.1 358.4,97.2 358.9,97.4 359.5,97.1 360.1,96.9 360.6,97.6 361.2,97.2 361.8,97.6 362.3,97.4 362.9,97.2 363.5,97.2 364.0,97.3 364.6,97.4 365.2,97.2 365.8,97.6 366.3,97.9 366.9,98.0 367.5,98.0 368.0,98.5 368.6,98.2 369.2,97.5 369.7,97.5 370.3,97.5 370.9,97.2 371.5,97.1 372.0,97.5 372.6,97.3 373.2,97.4 373.7,97.6 374.3,97.9 374.9,98.6 375.4,98.2 376.0,98.4 376.6,98.4 377.1,98.1 377.7,97.9 378.3,98.6 378.9,98.2 379.4,98.1 380.0,98.5 380.6,98.3 381.1,98.2 381.7,98.2 382.3,98.2 382.8,98.5 383.4,98.0 384.0,98.4 384.6,98.1 385.1,98.2 385.7,98.5 386.3,98.5 386.8,98.9 387.4,98.7 388.0,98.8 388.5,98.7 389.1,98.8 389.7,99.1 390.2,98.8 390.8,99.1 391.4,98.9 392.0,99.1 392.5,98.7 393.1,98.9 393.7,99.3 394.2,98.7 394.8,98.9 395.4,98.8 395.9,99.1 396.5,99.5 397.1,99.3 397.7,99.7 398.2,99.8 398.8,99.4 399.4,99.3 399.9,99.5 400.5,99.2 401.1,99.2 401.6,99.1 402.2,99.3 402.8,98.8 403.3,99.1 403.9,99.6 404.5,99.6 405.1,99.8 405.6,100.3 406.2,100.1 406.8,99.8 407.3,100.2 407.9,99.9 408.5,100.3 409.0,100.3 409.6,100.6 410.2,101.0 410.8,100.6 411.3,100.7 411.9,100.8 412.5,100.4 413.0,100.3 413.6,101.0 413.6,104.8 413.0,104.2 412.5,104.4 411.9,104.6 411.3,104.9 410.8,104.8 410.2,104.8 409.6,104.3 409.0,104.0 408.5,104.6 407.9,104.1 407.3,104.2 406.8,103.7 406.2,103.6 405.6,104.3 405.1,103.3 404.5,103.3 403.9,103.5 403.3,103.2 402.8,103.0 402.2,102.6 401.6,103.0 401.1,103.0 400.5,102.8 399.9,103.1 399.4,103.0 398.8,103.1 398.2,103.4 397.7,103.5 397.1,103.1 396.5,103.2 395.9,103.1 395.4,103.1 394.8,102.3 394.2,102.7 393.7,102.9 393.1,102.7 392.5,102.9 392.0,102.8 391.4,103.0 390.8,102.6 390.2,102.8 389.7,103.0 389.1,102.3 388.5,102.4 388.0,102.9 387.4,102.6 386.8,102.3 386.3,102.4 385.7,102.1 385.1,102.2 384.6,102.2 384.0,101.9 383.4,101.8 382.8,102.4 382.3,102.2 381.7,101.9 381.1,102.1 380.6,102.1 380.0,102.1 379.4,102.0 378.9,102.1 378.3,102.2 377.7,101.8 377.1,102.2 376.6,102.2 376.0,102.0 375.4,102.2 374.9,102.1 374.3,101.5 373.7,101.8 373.2,101.5 372.6,101.3 372.0,101.2 371.5,100.7 370.9,101.0 370.3,101.2 369.7,101.7 369.2,101.4 368.6,101.8 368.0,101.8 367.5,101.7 366.9,101.3 366.3,101.8 365.8,101.7 365.2,101.3 364.6,101.0 364.0,101.1 363.5,101.2 362.9,100.9 362.3,101.0 361.8,101.1 361.2,101.3 360.6,101.0 360.1,100.9 359.5,101.2 358.9,101.3 358.4,101.0 357.8,100.8 357.2,100.4 356.6,100.2 356.1,100.5 355.5,100.3 354.9,100.1 354.4,99.4 353.8,99.8 353.2,99.7 352.7,99.0 352.1,99.1 351.5,99.2 350.9,98.9 350.4,98.5 349.8,98.6 349.2,98.8 348.7,99.0 348.1,98.7 347.5,99.6 347.0,99.5 346.4,99.7 345.8,100.4 345.2,101.1 344.7,101.6 344.1,102.2 343.5,102.6 343.0,103.4 342.4,104.7 341.8,105.2 341.3,105.8 340.7,106.8 340.1,107.6 339.6,108.2 339.0,109.2 338.4,109.9 337.8,110.9 337.3,111.6 336.7,112.2 336.1,113.3 335.6,114.3 335.0,115.2 334.4,116.2 333.9,116.5 333.3,117.6 332.7,118.2 332.1,119.0 331.6,120.0 331.0,121.0 330.4,121.9 329.9,122.1 329.3,123.4 328.7,123.9 328.2,124.9 327.6,126.1 327.0,126.5 326.5,127.2 325.9,127.9 325.3,128.5 324.7,128.7 324.2,128.9 323.6,128.8 323.0,128.7 322.5,128.8 321.9,128.4 321.3,128.5 320.8,128.9 320.2,129.1 319.6,129.2 319.0,128.6 318.5,129.1 317.9,129.1 317.3,129.2 316.8,129.2 316.2,129.1 315.6,129.0 315.1,129.0 314.5,129.2 313.9,129.4 313.4,129.3 312.8,128.9 312.2,128.7 311.6,128.4 311.1,128.4 310.5,128.4 309.9,128.5 309.4,128.2 308.8,128.5 308.2,128.7 307.7,128.3 307.1,128.5 306.5,128.3 305.9,128.3 305.4,128.3 304.8,128.5 304.2,128.5 303.7,128.8 303.1,128.7 302.5,128.5 302.0,128.4 301.4,127.9 300.8,128.3 300.3,128.0 299.7,127.6 299.1,128.2 298.5,128.2 298.0,128.2 297.4,128.5 296.8,128.7 296.3,129.0 295.7,129.1 295.1,128.8 294.6,129.2 294.0,129.0 293.4,128.5 292.8,128.5 292.3,128.3 291.7,128.2 291.1,128.3 290.6,127.9 290.0,128.0 289.4,128.0 288.9,128.0 288.3,127.9 287.7,127.9 287.2,128.1 286.6,128.2 286.0,127.5 285.4,127.9 284.9,128.0 284.3,127.6 283.7,127.3 283.2,127.5 282.6,127.8 282.0,127.8 281.5,127.6 280.9,127.7 280.3,127.7 279.7,127.6 279.2,127.7 278.6,128.0 278.0,128.2 277.5,128.0 276.9,128.0" fill="#0072bd" fill-opacity="0.187" stroke="#0072bd" stroke-opacity="0.132" stroke-width="0.9"/>
<polyline points="276.9,126.3 277.5,126.1 278.0,126.1 278.6,125.9 279.2,126.1 279.7,125.8 280.3,126.0 280.9,126.1 281.5,125.9 282.0,125.7 282.6,126.0 283.2,125.8 283.7,125.6 284.3,125.8 284.9,126.0 285.4,125.7 286.0,125.7 286.6,126.0 287.2,126.2 287.7,126.0 288.3,126.0 288.9,126.2 289.4,126.3 290.0,126.1 290.6,126.3 291.1,126.5 291.7,126.4 292.3,126.4 292.8,126.4 293.4,126.8 294.0,126.8 294.6,127.0 295.1,127.1 295.7,127.0 296.3,126.9 296.8,127.0 297.4,126.8 298.0,126.3 298.5,126.4 299.1,126.2 299.7,125.9 300.3,126.2 300.8,126.1 301.4,126.1 302.0,126.6 302.5,126.4 303.1,126.7 303.7,126.7 304.2,126.4 304.8,126.5 305.4,126.2 305.9,126.5 306.5,126.5 307.1,126.5 307.7,126.2 308.2,126.6 308.8,126.4 309.4,126.5 309.9,126.9 310.5,126.5 311.1,126.6 311.6,126.6 312.2,126.9 312.8,127.2 313.4,127.2 313.9,127.3 314.5,127.2 315.1,127.3 315.6,127.1 316.2,127.2 316.8,127.2 317.3,127.2 317.9,127.3 318.5,127.2 319.0,127.0 319.6,127.3 320.2,127.2 320.8,127.2 321.3,126.8 321.9,126.8 322.5,126.9 323.0,126.9 323.6,126.9 324.2,126.8 324.7,126.8 325.3,126.3 325.9,126.0 326.5,125.5 327.0,124.7 327.6,124.1 328.2,123.0 328.7,122.1 329.3,121.4 329.9,120.3 330.4,119.7 331.0,118.9 331.6,118.1 332.1,117.3 332.7,116.3 333.3,115.7 333.9,114.7 334.4,114.2 335.0,113.3 335.6,112.3 336.1,111.1 336.7,110.5 337.3,109.7 337.8,108.9 338.4,107.9 339.0,107.4 339.6,106.3 340.1,105.8 340.7,104.9 341.3,103.9 341.8,103.2 342.4,102.8 343.0,101.8 343.5,100.9 344.1,100.5 344.7,99.8 345.2,99.4 345.8,98.7 346.4,98.0 347.0,97.7 347.5,97.5 348.1,97.0 348.7,97.1 349.2,97.0 349.8,96.8 350.4,96.7 350.9,97.1 351.5,97.3 352.1,97.0 352.7,97.3 353.2,97.7 353.8,97.7 354.4,97.7 354.9,98.3 355.5,98.5 356.1,98.5 356.6,98.5 357.2,98.7 357.8,99.0 358.4,99.1 358.9,99.2 359.5,99.1 360.1,99.1 360.6,99.2 361.2,99.2 361.8,99.3 362.3,99.2 362.9,99.1 363.5,99.1 364.0,99.2 364.6,99.3 365.2,99.4 365.8,99.7 366.3,99.8 366.9,99.6 367.5,99.8 368.0,100.1 368.6,99.9 369.2,99.6 369.7,99.6 370.3,99.3 370.9,99.3 371.5,99.0 372.0,99.1 372.6,99.4 373.2,99.4 373.7,99.7 374.3,99.7 374.9,100.2 375.4,100.3 376.0,100.3 376.6,100.4 377.1,100.1 377.7,100.1 378.3,100.4 378.9,99.9 379.4,100.1 380.0,100.3 380.6,100.4 381.1,100.3 381.7,100.1 382.3,100.3 382.8,100.4 383.4,100.2 384.0,100.2 384.6,100.3 385.1,100.3 385.7,100.4 386.3,100.6 386.8,100.6 387.4,100.8 388.0,100.9 388.5,100.8 389.1,100.6 389.7,100.9 390.2,101.0 390.8,100.9 391.4,101.0 392.0,101.1 392.5,100.8 393.1,100.8 393.7,101.0 394.2,100.6 394.8,100.7 395.4,101.0 395.9,101.2 396.5,101.3 397.1,101.1 397.7,101.4 398.2,101.4 398.8,101.3 399.4,101.3 399.9,101.1 400.5,101.0 401.1,101.1 401.6,101.1 402.2,100.9 402.8,100.9 403.3,101.2 403.9,101.5 404.5,101.5 405.1,101.6 405.6,102.1 406.2,101.9 406.8,101.9 407.3,102.3 407.9,102.0 408.5,102.4 409.0,102.3 409.6,102.4 410.2,102.7 410.8,102.7 411.3,102.8 411.9,102.5 412.5,102.3 413.0,102.4 413.6,102.7" fill="none" stroke="#2a7fc4" stroke-width="1.5" stroke-linejoin="round"/>
<rect x="276.90" y="78.60" width="136.70" height="63.60" fill="none" stroke="#858585" stroke-width="0.8"/>
<line x1="276.90" y1="142.20" x2="276.90" y2="140.80" stroke="#858585" stroke-width="0.8"/>
<line x1="276.90" y1="78.60" x2="276.90" y2="80.00" stroke="#858585" stroke-width="0.8"/>
<text x="277.20" y="151.10" font-size="7.6" text-anchor="middle">0</text>
<line x1="299.68" y1="142.20" x2="299.68" y2="140.80" stroke="#858585" stroke-width="0.8"/>
<line x1="299.68" y1="78.60" x2="299.68" y2="80.00" stroke="#858585" stroke-width="0.8"/>
<text x="299.98" y="151.10" font-size="7.6" text-anchor="middle">15</text>
<line x1="322.47" y1="142.20" x2="322.47" y2="140.80" stroke="#858585" stroke-width="0.8"/>
<line x1="322.47" y1="78.60" x2="322.47" y2="80.00" stroke="#858585" stroke-width="0.8"/>
<text x="322.77" y="151.10" font-size="7.6" text-anchor="middle">30</text>
<line x1="345.25" y1="142.20" x2="345.25" y2="140.80" stroke="#858585" stroke-width="0.8"/>
<line x1="345.25" y1="78.60" x2="345.25" y2="80.00" stroke="#858585" stroke-width="0.8"/>
<text x="345.55" y="151.10" font-size="7.6" text-anchor="middle">45</text>
<line x1="368.03" y1="142.20" x2="368.03" y2="140.80" stroke="#858585" stroke-width="0.8"/>
<line x1="368.03" y1="78.60" x2="368.03" y2="80.00" stroke="#858585" stroke-width="0.8"/>
<text x="368.33" y="151.10" font-size="7.6" text-anchor="middle">60</text>
<line x1="390.82" y1="142.20" x2="390.82" y2="140.80" stroke="#858585" stroke-width="0.8"/>
<line x1="390.82" y1="78.60" x2="390.82" y2="80.00" stroke="#858585" stroke-width="0.8"/>
<text x="391.12" y="151.10" font-size="7.6" text-anchor="middle">75</text>
<line x1="413.60" y1="142.20" x2="413.60" y2="140.80" stroke="#858585" stroke-width="0.8"/>
<line x1="413.60" y1="78.60" x2="413.60" y2="80.00" stroke="#858585" stroke-width="0.8"/>
<text x="413.90" y="151.10" font-size="7.6" text-anchor="middle">90</text>
<line x1="276.90" y1="142.20" x2="278.30" y2="142.20" stroke="#858585" stroke-width="0.8"/>
<line x1="413.60" y1="142.20" x2="412.20" y2="142.20" stroke="#858585" stroke-width="0.8"/>
<text x="274.70" y="144.80" font-size="7.6" text-anchor="end">-1</text>
<line x1="276.90" y1="126.30" x2="278.30" y2="126.30" stroke="#858585" stroke-width="0.8"/>
<line x1="413.60" y1="126.30" x2="412.20" y2="126.30" stroke="#858585" stroke-width="0.8"/>
<text x="274.70" y="128.90" font-size="7.6" text-anchor="end">0</text>
<line x1="276.90" y1="110.40" x2="278.30" y2="110.40" stroke="#858585" stroke-width="0.8"/>
<line x1="413.60" y1="110.40" x2="412.20" y2="110.40" stroke="#858585" stroke-width="0.8"/>
<text x="274.70" y="113.00" font-size="7.6" text-anchor="end">1</text>
<line x1="276.90" y1="94.50" x2="278.30" y2="94.50" stroke="#858585" stroke-width="0.8"/>
<line x1="413.60" y1="94.50" x2="412.20" y2="94.50" stroke="#858585" stroke-width="0.8"/>
<text x="274.70" y="97.10" font-size="7.6" text-anchor="end">2</text>
<line x1="276.90" y1="78.60" x2="278.30" y2="78.60" stroke="#858585" stroke-width="0.8"/>
<line x1="413.60" y1="78.60" x2="412.20" y2="78.60" stroke="#858585" stroke-width="0.8"/>
<text x="274.70" y="81.20" font-size="7.6" text-anchor="end">3</text>
<text x="410.10" y="87.90" font-size="8.2" text-anchor="end">123.48 W<tspan dx="1.5">&#183;</tspan><tspan dx="1.5" font-style="italic">g</tspan><tspan font-size="5.2" dy="-3.1">&#8722;1</tspan></text>
<rect x="478.47" y="78.60" width="22.78" height="63.60" fill="#ffffc9"/>
<polygon points="432.9,117.2 433.5,118.5 434.0,117.3 434.6,118.1 435.2,118.2 435.7,118.1 436.3,119.2 436.9,118.3 437.5,117.5 438.0,117.9 438.6,118.6 439.2,118.4 439.7,119.1 440.3,119.2 440.9,117.4 441.4,117.4 442.0,119.3 442.6,118.9 443.2,117.7 443.7,118.1 444.3,118.3 444.9,118.3 445.4,118.9 446.0,119.0 446.6,118.7 447.1,117.4 447.7,118.9 448.3,118.3 448.8,118.6 449.4,118.0 450.0,117.7 450.6,117.0 451.1,117.6 451.7,118.0 452.3,119.0 452.8,117.4 453.4,116.9 454.0,116.7 454.5,116.6 455.1,118.8 455.7,118.3 456.3,117.1 456.8,116.7 457.4,117.5 458.0,118.5 458.5,117.3 459.1,118.4 459.7,117.0 460.2,117.8 460.8,118.4 461.4,117.7 461.9,119.2 462.5,119.4 463.1,119.8 463.7,119.7 464.2,119.8 464.8,117.9 465.4,119.1 465.9,119.2 466.5,120.1 467.1,120.2 467.6,119.6 468.2,119.2 468.8,118.5 469.4,119.1 469.9,117.5 470.5,119.8 471.1,119.1 471.6,119.8 472.2,118.6 472.8,118.9 473.3,119.7 473.9,118.5 474.5,119.3 475.0,120.4 475.6,119.7 476.2,120.1 476.8,118.3 477.3,118.9 477.9,118.8 478.5,120.1 479.0,119.9 479.6,119.9 480.2,118.7 480.7,118.0 481.3,118.2 481.9,118.1 482.5,118.1 483.0,118.7 483.6,116.4 484.2,116.8 484.7,116.5 485.3,117.1 485.9,115.9 486.4,114.7 487.0,115.3 487.6,114.6 488.1,114.6 488.7,115.6 489.3,115.0 489.9,113.6 490.4,112.7 491.0,112.4 491.6,113.5 492.1,111.6 492.7,112.9 493.3,110.9 493.8,110.9 494.4,111.4 495.0,111.6 495.6,110.8 496.1,109.3 496.7,110.6 497.3,108.6 497.8,108.9 498.4,108.3 499.0,109.0 499.5,108.3 500.1,109.6 500.7,108.1 501.2,109.0 501.8,109.0 502.4,106.5 503.0,107.1 503.5,107.3 504.1,107.9 504.7,106.4 505.2,107.1 505.8,106.5 506.4,105.4 506.9,106.0 507.5,106.5 508.1,106.5 508.7,106.5 509.2,108.2 509.8,106.6 510.4,106.5 510.9,106.8 511.5,107.7 512.1,105.5 512.6,107.1 513.2,107.4 513.8,107.7 514.4,107.3 514.9,107.6 515.5,107.2 516.1,107.4 516.6,108.0 517.2,106.9 517.8,106.4 518.3,108.0 518.9,105.8 519.5,107.0 520.0,107.7 520.6,106.7 521.2,106.4 521.8,107.6 522.3,107.7 522.9,106.8 523.5,107.8 524.0,107.6 524.6,106.2 525.2,108.0 525.7,106.2 526.3,106.0 526.9,107.7 527.5,106.7 528.0,107.3 528.6,107.1 529.2,107.5 529.7,106.1 530.3,106.6 530.9,108.0 531.4,106.6 532.0,107.4 532.6,107.1 533.1,108.3 533.7,107.2 534.3,108.4 534.9,109.0 535.4,108.0 536.0,107.5 536.6,107.4 537.1,108.7 537.7,107.8 538.3,107.5 538.8,108.7 539.4,108.6 540.0,108.3 540.6,106.4 541.1,107.0 541.7,107.5 542.3,108.5 542.8,107.6 543.4,106.7 544.0,107.2 544.5,106.3 545.1,107.7 545.7,107.5 546.2,107.9 546.8,107.4 547.4,107.8 548.0,107.1 548.5,106.7 549.1,107.6 549.7,109.0 550.2,109.2 550.8,108.1 551.4,106.9 551.9,108.1 552.5,107.5 553.1,107.0 553.7,108.3 554.2,108.0 554.8,108.2 555.4,109.5 555.9,108.8 556.5,108.7 557.1,107.9 557.6,109.8 558.2,109.1 558.8,108.5 559.3,108.7 559.9,108.6 560.5,108.9 561.1,109.3 561.6,108.5 562.2,108.5 562.8,109.7 563.3,108.5 563.9,108.1 564.5,107.6 565.0,107.8 565.6,108.1 566.2,108.2 566.8,108.8 567.3,108.4 567.9,108.2 568.5,107.9 569.0,107.6 569.6,109.8 569.6,124.1 569.0,124.4 568.5,124.5 567.9,124.3 567.3,125.4 566.8,123.6 566.2,124.7 565.6,124.1 565.0,123.8 564.5,124.6 563.9,124.5 563.3,123.6 562.8,125.3 562.2,124.4 561.6,124.8 561.1,125.7 560.5,124.2 559.9,124.5 559.3,124.7 558.8,123.7 558.2,125.0 557.6,124.8 557.1,123.7 556.5,124.9 555.9,124.8 555.4,124.1 554.8,125.3 554.2,124.2 553.7,123.9 553.1,124.7 552.5,123.7 551.9,125.3 551.4,123.3 550.8,125.0 550.2,124.1 549.7,124.6 549.1,124.4 548.5,123.2 548.0,122.9 547.4,123.1 546.8,123.4 546.2,123.4 545.7,123.7 545.1,123.5 544.5,124.2 544.0,122.7 543.4,123.5 542.8,122.4 542.3,124.7 541.7,123.0 541.1,124.2 540.6,122.4 540.0,123.7 539.4,122.9 538.8,123.5 538.3,123.5 537.7,122.8 537.1,122.8 536.6,124.9 536.0,124.6 535.4,123.1 534.9,124.2 534.3,122.7 533.7,124.3 533.1,124.6 532.6,124.6 532.0,124.7 531.4,124.6 530.9,124.3 530.3,122.8 529.7,123.1 529.2,123.0 528.6,123.0 528.0,122.8 527.5,123.2 526.9,123.7 526.3,123.9 525.7,123.4 525.2,122.9 524.6,123.8 524.0,123.9 523.5,122.3 522.9,121.8 522.3,123.1 521.8,123.1 521.2,123.3 520.6,123.2 520.0,122.2 519.5,122.5 518.9,123.7 518.3,123.2 517.8,123.6 517.2,122.6 516.6,122.4 516.1,123.5 515.5,122.8 514.9,121.9 514.4,121.8 513.8,122.0 513.2,123.7 512.6,123.6 512.1,123.5 511.5,122.2 510.9,123.4 510.4,123.6 509.8,123.8 509.2,121.8 508.7,123.1 508.1,122.2 507.5,122.6 506.9,123.0 506.4,121.2 505.8,122.2 505.2,121.4 504.7,121.4 504.1,123.0 503.5,123.4 503.0,123.8 502.4,122.7 501.8,123.2 501.2,123.9 500.7,125.0 500.1,125.1 499.5,123.5 499.0,125.0 498.4,125.4 497.8,124.1 497.3,125.6 496.7,125.3 496.1,126.2 495.6,125.0 495.0,125.6 494.4,127.2 493.8,127.1 493.3,128.2 492.7,129.0 492.1,127.5 491.6,127.6 491.0,128.2 490.4,128.1 489.9,129.6 489.3,128.7 488.7,129.2 488.1,131.3 487.6,131.5 487.0,132.3 486.4,130.6 485.9,131.9 485.3,131.4 484.7,133.4 484.2,132.8 483.6,132.8 483.0,133.9 482.5,134.3 481.9,133.0 481.3,134.1 480.7,134.1 480.2,135.7 479.6,134.9 479.0,134.0 478.5,136.1 477.9,134.9 477.3,134.3 476.8,134.8 476.2,135.3 475.6,136.0 475.0,134.8 474.5,134.8 473.9,134.3 473.3,133.7 472.8,135.4 472.2,135.6 471.6,134.5 471.1,135.0 470.5,135.2 469.9,134.5 469.4,134.9 468.8,135.3 468.2,135.2 467.6,134.5 467.1,136.1 466.5,135.3 465.9,134.6 465.4,134.7 464.8,135.6 464.2,135.7 463.7,135.8 463.1,134.5 462.5,134.1 461.9,133.2 461.4,133.3 460.8,134.6 460.2,134.8 459.7,134.2 459.1,134.3 458.5,133.2 458.0,134.9 457.4,132.9 456.8,132.8 456.3,134.4 455.7,132.7 455.1,132.5 454.5,132.6 454.0,134.5 453.4,134.3 452.8,132.9 452.3,133.9 451.7,134.5 451.1,133.6 450.6,134.7 450.0,133.7 449.4,135.3 448.8,133.8 448.3,134.8 447.7,134.3 447.1,135.1 446.6,133.7 446.0,133.2 445.4,133.4 444.9,134.3 444.3,133.7 443.7,134.5 443.2,134.8 442.6,133.4 442.0,134.9 441.4,133.0 440.9,133.3 440.3,133.4 439.7,134.8 439.2,134.0 438.6,133.9 438.0,133.0 437.5,133.4 436.9,135.4 436.3,133.0 435.7,134.9 435.2,134.1 434.6,134.8 434.0,133.7 433.5,134.9 432.9,133.0" fill="#0072bd" fill-opacity="0.187" stroke="#0072bd" stroke-opacity="0.132" stroke-width="0.9"/>
<polyline points="432.9,126.0 433.5,126.1 434.0,126.0 434.6,126.0 435.2,126.0 435.7,126.2 436.3,126.3 436.9,126.4 437.5,126.2 438.0,126.1 438.6,126.0 439.2,126.0 439.7,126.1 440.3,126.1 440.9,125.9 441.4,125.9 442.0,126.3 442.6,126.4 443.2,126.4 443.7,126.6 444.3,126.6 444.9,126.6 445.4,126.5 446.0,126.3 446.6,126.5 447.1,126.3 447.7,126.2 448.3,126.1 448.8,126.1 449.4,126.2 450.0,126.0 450.6,126.0 451.1,125.9 451.7,125.9 452.3,125.9 452.8,125.6 453.4,125.8 454.0,125.5 454.5,125.6 455.1,125.6 455.7,125.5 456.3,125.7 456.8,125.5 457.4,125.8 458.0,125.8 458.5,125.9 459.1,125.9 459.7,126.0 460.2,126.2 460.8,126.2 461.4,126.3 461.9,126.4 462.5,126.6 463.1,126.5 463.7,126.8 464.2,126.7 464.8,126.9 465.4,127.0 465.9,126.9 466.5,127.0 467.1,127.2 467.6,127.0 468.2,127.2 468.8,127.1 469.4,126.9 469.9,126.6 470.5,126.6 471.1,126.6 471.6,126.9 472.2,126.9 472.8,127.1 473.3,126.9 473.9,127.2 474.5,127.3 475.0,127.2 475.6,127.4 476.2,127.2 476.8,127.1 477.3,127.1 477.9,127.2 478.5,127.2 479.0,127.0 479.6,126.8 480.2,126.8 480.7,126.4 481.3,126.5 481.9,126.1 482.5,125.9 483.0,125.7 483.6,125.3 484.2,125.1 484.7,124.9 485.3,124.5 485.9,124.2 486.4,123.8 487.0,123.4 487.6,123.2 488.1,122.5 488.7,122.3 489.3,121.9 489.9,121.4 490.4,121.2 491.0,120.9 491.6,120.6 492.1,120.3 492.7,119.9 493.3,119.6 493.8,119.1 494.4,119.1 495.0,118.7 495.6,118.1 496.1,118.0 496.7,117.6 497.3,117.3 497.8,117.1 498.4,116.9 499.0,116.8 499.5,116.7 500.1,116.6 500.7,116.2 501.2,116.0 501.8,115.8 502.4,115.6 503.0,115.4 503.5,115.0 504.1,114.7 504.7,114.6 505.2,114.2 505.8,114.2 506.4,114.3 506.9,114.5 507.5,114.7 508.1,114.9 508.7,114.9 509.2,114.9 509.8,114.8 510.4,114.9 510.9,114.6 511.5,114.5 512.1,114.5 512.6,114.7 513.2,114.8 513.8,114.8 514.4,114.9 514.9,114.9 515.5,115.1 516.1,115.1 516.6,115.2 517.2,115.3 517.8,115.1 518.3,114.9 518.9,114.8 519.5,114.7 520.0,114.9 520.6,114.8 521.2,114.8 521.8,114.8 522.3,115.0 522.9,115.0 523.5,115.0 524.0,115.0 524.6,114.9 525.2,114.9 525.7,114.9 526.3,115.1 526.9,115.0 527.5,115.0 528.0,115.2 528.6,115.2 529.2,115.3 529.7,115.2 530.3,115.3 530.9,115.4 531.4,115.5 532.0,115.6 532.6,115.5 533.1,115.7 533.7,115.9 534.3,115.9 534.9,115.8 535.4,115.8 536.0,116.1 536.6,116.0 537.1,116.0 537.7,115.8 538.3,115.7 538.8,115.5 539.4,115.8 540.0,115.6 540.6,115.6 541.1,115.5 541.7,115.4 542.3,115.6 542.8,115.5 543.4,115.4 544.0,115.6 544.5,115.4 545.1,115.5 545.7,115.6 546.2,115.6 546.8,115.6 547.4,115.6 548.0,115.6 548.5,115.8 549.1,115.9 549.7,115.9 550.2,116.0 550.8,116.0 551.4,116.0 551.9,116.2 552.5,116.0 553.1,116.0 553.7,116.3 554.2,116.2 554.8,116.4 555.4,116.4 555.9,116.5 556.5,116.6 557.1,116.7 557.6,116.7 558.2,116.7 558.8,116.6 559.3,116.6 559.9,116.6 560.5,116.6 561.1,116.6 561.6,116.7 562.2,116.6 562.8,116.6 563.3,116.5 563.9,116.5 564.5,116.5 565.0,116.7 565.6,116.5 566.2,116.8 566.8,116.8 567.3,116.7 567.9,116.7 568.5,116.5 569.0,116.4 569.6,116.6" fill="none" stroke="#2a7fc4" stroke-width="1.5" stroke-linejoin="round"/>
<rect x="432.90" y="78.60" width="136.70" height="63.60" fill="none" stroke="#858585" stroke-width="0.8"/>
<line x1="432.90" y1="142.20" x2="432.90" y2="140.80" stroke="#858585" stroke-width="0.8"/>
<line x1="432.90" y1="78.60" x2="432.90" y2="80.00" stroke="#858585" stroke-width="0.8"/>
<text x="433.20" y="151.10" font-size="7.6" text-anchor="middle">0</text>
<line x1="455.68" y1="142.20" x2="455.68" y2="140.80" stroke="#858585" stroke-width="0.8"/>
<line x1="455.68" y1="78.60" x2="455.68" y2="80.00" stroke="#858585" stroke-width="0.8"/>
<text x="455.98" y="151.10" font-size="7.6" text-anchor="middle">15</text>
<line x1="478.47" y1="142.20" x2="478.47" y2="140.80" stroke="#858585" stroke-width="0.8"/>
<line x1="478.47" y1="78.60" x2="478.47" y2="80.00" stroke="#858585" stroke-width="0.8"/>
<text x="478.77" y="151.10" font-size="7.6" text-anchor="middle">30</text>
<line x1="501.25" y1="142.20" x2="501.25" y2="140.80" stroke="#858585" stroke-width="0.8"/>
<line x1="501.25" y1="78.60" x2="501.25" y2="80.00" stroke="#858585" stroke-width="0.8"/>
<text x="501.55" y="151.10" font-size="7.6" text-anchor="middle">45</text>
<line x1="524.03" y1="142.20" x2="524.03" y2="140.80" stroke="#858585" stroke-width="0.8"/>
<line x1="524.03" y1="78.60" x2="524.03" y2="80.00" stroke="#858585" stroke-width="0.8"/>
<text x="524.33" y="151.10" font-size="7.6" text-anchor="middle">60</text>
<line x1="546.82" y1="142.20" x2="546.82" y2="140.80" stroke="#858585" stroke-width="0.8"/>
<line x1="546.82" y1="78.60" x2="546.82" y2="80.00" stroke="#858585" stroke-width="0.8"/>
<text x="547.12" y="151.10" font-size="7.6" text-anchor="middle">75</text>
<line x1="569.60" y1="142.20" x2="569.60" y2="140.80" stroke="#858585" stroke-width="0.8"/>
<line x1="569.60" y1="78.60" x2="569.60" y2="80.00" stroke="#858585" stroke-width="0.8"/>
<text x="569.90" y="151.10" font-size="7.6" text-anchor="middle">90</text>
<line x1="432.90" y1="142.20" x2="434.30" y2="142.20" stroke="#858585" stroke-width="0.8"/>
<line x1="569.60" y1="142.20" x2="568.20" y2="142.20" stroke="#858585" stroke-width="0.8"/>
<text x="430.70" y="144.80" font-size="7.6" text-anchor="end">-1</text>
<line x1="432.90" y1="126.30" x2="434.30" y2="126.30" stroke="#858585" stroke-width="0.8"/>
<line x1="569.60" y1="126.30" x2="568.20" y2="126.30" stroke="#858585" stroke-width="0.8"/>
<text x="430.70" y="128.90" font-size="7.6" text-anchor="end">0</text>
<line x1="432.90" y1="110.40" x2="434.30" y2="110.40" stroke="#858585" stroke-width="0.8"/>
<line x1="569.60" y1="110.40" x2="568.20" y2="110.40" stroke="#858585" stroke-width="0.8"/>
<text x="430.70" y="113.00" font-size="7.6" text-anchor="end">1</text>
<line x1="432.90" y1="94.50" x2="434.30" y2="94.50" stroke="#858585" stroke-width="0.8"/>
<line x1="569.60" y1="94.50" x2="568.20" y2="94.50" stroke="#858585" stroke-width="0.8"/>
<text x="430.70" y="97.10" font-size="7.6" text-anchor="end">2</text>
<line x1="432.90" y1="78.60" x2="434.30" y2="78.60" stroke="#858585" stroke-width="0.8"/>
<line x1="569.60" y1="78.60" x2="568.20" y2="78.60" stroke="#858585" stroke-width="0.8"/>
<text x="430.70" y="81.20" font-size="7.6" text-anchor="end">3</text>
<text x="566.10" y="87.90" font-size="8.2" text-anchor="end">54.43 W<tspan dx="1.5">&#183;</tspan><tspan dx="1.5" font-style="italic">g</tspan><tspan font-size="5.2" dy="-3.1">&#8722;1</tspan></text>
<rect x="166.45" y="154.40" width="4.26" height="63.15" fill="#ffc0c2"/>
<polyline points="120.7,195.8 121.3,195.9 121.8,196.3 122.4,196.4 123.0,196.3 123.5,196.8 124.1,197.0 124.7,196.9 125.3,197.0 125.8,197.0 126.4,197.0 127.0,197.3 127.5,197.2 128.1,197.2 128.7,197.4 129.2,197.4 129.8,197.2 130.4,196.9 131.0,197.0 131.5,196.8 132.1,196.8 132.7,196.7 133.2,196.3 133.8,196.4 134.4,196.0 134.9,196.0 135.5,195.8 136.1,195.8 136.7,195.9 137.2,196.3 137.8,196.3 138.4,196.4 138.9,196.6 139.5,196.9 140.1,196.8 140.7,197.2 141.2,197.3 141.8,197.6 142.4,197.9 142.9,197.8 143.5,198.2 144.1,198.0 144.6,198.1 145.2,198.1 145.8,197.9 146.3,198.0 146.9,197.7 147.5,197.7 148.1,197.6 148.6,197.5 149.2,197.3 149.8,197.0 150.3,196.9 150.9,196.8 151.5,196.9 152.1,196.7 152.6,196.6 153.2,196.5 153.8,196.3 154.3,196.3 154.9,196.5 155.5,196.4 156.0,196.6 156.6,196.6 157.2,196.5 157.8,196.7 158.3,196.7 158.9,196.8 159.5,196.8 160.0,196.4 160.6,196.2 161.2,196.2 161.7,196.0 162.3,196.1 162.9,195.9 163.5,196.1 164.0,196.2 164.6,196.4 165.2,196.5 165.7,196.9 166.3,197.3 166.9,197.3 167.4,197.9 168.0,197.5 168.6,197.1 169.2,196.9 169.7,196.2 170.3,196.1 170.9,195.7 171.4,195.4 172.0,195.0 172.6,194.9 173.1,194.5 173.7,194.5 174.3,194.2 174.8,194.3 175.4,194.3 176.0,194.1 176.6,194.1 177.1,194.0 177.7,193.8 178.3,193.8 178.8,193.8 179.4,193.9 180.0,194.1 180.6,194.4 181.1,194.4 181.7,194.4 182.3,194.2 182.8,194.5 183.4,194.5 184.0,194.5 184.5,194.9 185.1,194.8 185.7,194.9 186.2,195.0 186.8,194.9 187.4,194.7 188.0,194.9 188.5,194.8 189.1,195.0 189.7,194.8 190.2,194.6 190.8,194.6 191.4,194.3 192.0,194.4 192.5,194.2 193.1,193.9 193.7,194.0 194.2,194.2 194.8,194.1 195.4,194.2 195.9,194.7 196.5,194.7 197.1,194.7 197.7,194.2 198.2,194.4 198.8,194.2 199.4,193.7 199.9,193.5 200.5,193.4 201.1,193.3 201.6,193.5 202.2,193.5 202.8,193.5 203.4,193.3 203.9,193.6 204.5,193.5 205.1,193.5 205.6,193.3 206.2,193.4 206.8,193.6 207.3,193.7 207.9,193.6 208.5,193.8 209.1,193.7 209.6,193.8 210.2,193.4 210.8,193.6 211.3,193.3 211.9,193.7 212.5,193.7 213.0,193.8 213.6,193.8 214.2,194.3 214.8,194.1 215.3,194.3 215.9,194.3 216.5,194.6 217.0,194.6 217.6,194.5 218.2,194.6 218.7,194.7 219.3,194.8 219.9,194.9 220.4,194.6 221.0,194.6 221.6,194.6 222.2,194.1 222.7,194.3 223.3,194.1 223.9,194.0 224.4,194.0 225.0,194.3 225.6,194.6 226.2,194.4 226.7,194.7 227.3,194.5 227.9,194.4 228.4,194.5 229.0,194.6 229.6,194.6 230.1,194.6 230.7,194.4 231.3,194.5 231.9,194.2 232.4,194.2 233.0,194.4 233.6,194.2 234.1,194.4 234.7,194.3 235.3,194.2 235.8,194.3 236.4,194.3 237.0,194.3 237.6,194.3 238.1,194.3 238.7,194.2 239.3,194.0 239.8,193.9 240.4,193.8 241.0,194.0 241.5,193.6 242.1,193.5 242.7,193.5 243.3,193.6 243.8,194.0 244.4,194.2 245.0,194.0 245.5,194.4 246.1,194.2 246.7,194.4 247.2,194.2 247.8,194.3 248.4,194.4 249.0,194.3 249.5,194.3 250.1,194.2 250.7,194.4 251.2,194.5 251.8,194.1 252.4,194.3 252.9,194.2 253.5,194.4 254.1,194.6 254.7,194.4 255.2,194.8 255.8,194.9 256.4,195.3 256.9,195.4 257.5,195.5" fill="none" stroke="#edb232" stroke-width="1.5" stroke-linejoin="round"/>
<rect x="120.70" y="154.40" width="136.80" height="63.15" fill="none" stroke="#858585" stroke-width="0.8"/>
<line x1="120.70" y1="217.55" x2="120.70" y2="216.15" stroke="#858585" stroke-width="0.8"/>
<line x1="120.70" y1="154.40" x2="120.70" y2="155.80" stroke="#858585" stroke-width="0.8"/>
<text x="121.00" y="226.85" font-size="7.6" text-anchor="middle">0</text>
<line x1="143.50" y1="217.55" x2="143.50" y2="216.15" stroke="#858585" stroke-width="0.8"/>
<line x1="143.50" y1="154.40" x2="143.50" y2="155.80" stroke="#858585" stroke-width="0.8"/>
<text x="143.80" y="226.85" font-size="7.6" text-anchor="middle">15</text>
<line x1="166.30" y1="217.55" x2="166.30" y2="216.15" stroke="#858585" stroke-width="0.8"/>
<line x1="166.30" y1="154.40" x2="166.30" y2="155.80" stroke="#858585" stroke-width="0.8"/>
<text x="166.60" y="226.85" font-size="7.6" text-anchor="middle">30</text>
<line x1="189.10" y1="217.55" x2="189.10" y2="216.15" stroke="#858585" stroke-width="0.8"/>
<line x1="189.10" y1="154.40" x2="189.10" y2="155.80" stroke="#858585" stroke-width="0.8"/>
<text x="189.40" y="226.85" font-size="7.6" text-anchor="middle">45</text>
<line x1="211.90" y1="217.55" x2="211.90" y2="216.15" stroke="#858585" stroke-width="0.8"/>
<line x1="211.90" y1="154.40" x2="211.90" y2="155.80" stroke="#858585" stroke-width="0.8"/>
<text x="212.20" y="226.85" font-size="7.6" text-anchor="middle">60</text>
<line x1="234.70" y1="217.55" x2="234.70" y2="216.15" stroke="#858585" stroke-width="0.8"/>
<line x1="234.70" y1="154.40" x2="234.70" y2="155.80" stroke="#858585" stroke-width="0.8"/>
<text x="235.00" y="226.85" font-size="7.6" text-anchor="middle">75</text>
<line x1="257.50" y1="217.55" x2="257.50" y2="216.15" stroke="#858585" stroke-width="0.8"/>
<line x1="257.50" y1="154.40" x2="257.50" y2="155.80" stroke="#858585" stroke-width="0.8"/>
<text x="257.80" y="226.85" font-size="7.6" text-anchor="middle">90</text>
<line x1="120.70" y1="217.55" x2="122.10" y2="217.55" stroke="#858585" stroke-width="0.8"/>
<line x1="257.50" y1="217.55" x2="256.10" y2="217.55" stroke="#858585" stroke-width="0.8"/>
<text x="118.50" y="220.15" font-size="7.6" text-anchor="end">-1</text>
<line x1="120.70" y1="196.50" x2="122.10" y2="196.50" stroke="#858585" stroke-width="0.8"/>
<line x1="257.50" y1="196.50" x2="256.10" y2="196.50" stroke="#858585" stroke-width="0.8"/>
<text x="118.50" y="199.10" font-size="7.6" text-anchor="end">0</text>
<line x1="120.70" y1="175.45" x2="122.10" y2="175.45" stroke="#858585" stroke-width="0.8"/>
<line x1="257.50" y1="175.45" x2="256.10" y2="175.45" stroke="#858585" stroke-width="0.8"/>
<text x="118.50" y="178.05" font-size="7.6" text-anchor="end">1</text>
<line x1="120.70" y1="154.40" x2="122.10" y2="154.40" stroke="#858585" stroke-width="0.8"/>
<line x1="257.50" y1="154.40" x2="256.10" y2="154.40" stroke="#858585" stroke-width="0.8"/>
<text x="118.50" y="157.00" font-size="7.6" text-anchor="end">2</text>
<text x="254.00" y="163.70" font-size="8.2" text-anchor="end">12.31 W<tspan dx="1.5">&#183;</tspan><tspan dx="1.5" font-style="italic">g</tspan><tspan font-size="5.2" dy="-3.1">&#8722;1</tspan></text>
<line x1="185.20" y1="210.25" x2="196.20" y2="210.25" stroke="#edb232" stroke-width="1.5"/>
<text x="197.70" y="212.95" font-size="8.2">10 nm Mn-doped</text>
<text x="0" y="0" font-size="9.0" text-anchor="middle" style="stroke:none" textLength="65.5" lengthAdjust="spacingAndGlyphs" transform="translate(108.40,186.58) rotate(-90)">Temperature (&#176;C)</text>
<text x="189.60" y="236.60" font-size="9.0" text-anchor="middle" textLength="30.6" lengthAdjust="spacingAndGlyphs">Time (s)</text>
<rect x="322.47" y="154.40" width="22.78" height="63.15" fill="#cbcbfd"/>
<polygon points="276.9,196.1 277.5,196.0 278.0,196.0 278.6,195.6 279.2,195.7 279.7,195.8 280.3,195.6 280.9,195.3 281.5,195.3 282.0,195.6 282.6,195.1 283.2,195.3 283.7,195.2 284.3,195.3 284.9,195.4 285.4,195.3 286.0,195.5 286.6,195.6 287.2,195.7 287.7,196.1 288.3,196.3 288.9,196.1 289.4,195.8 290.0,195.8 290.6,196.0 291.1,195.8 291.7,195.6 292.3,195.8 292.8,195.9 293.4,196.0 294.0,196.1 294.6,195.9 295.1,196.2 295.7,196.2 296.3,196.1 296.8,196.1 297.4,196.3 298.0,196.3 298.5,196.4 299.1,196.1 299.7,196.3 300.3,196.3 300.8,196.4 301.4,196.1 302.0,196.3 302.5,196.3 303.1,196.3 303.7,196.5 304.2,196.4 304.8,196.2 305.4,196.1 305.9,196.0 306.5,195.9 307.1,196.1 307.7,195.9 308.2,196.2 308.8,196.5 309.4,196.7 309.9,196.8 310.5,196.4 311.1,196.6 311.6,196.8 312.2,196.6 312.8,196.7 313.4,196.4 313.9,196.7 314.5,196.6 315.1,196.8 315.6,196.7 316.2,196.8 316.8,196.8 317.3,197.0 317.9,197.0 318.5,197.1 319.0,197.3 319.6,197.4 320.2,196.9 320.8,196.9 321.3,196.8 321.9,196.7 322.5,196.9 323.0,196.6 323.6,196.8 324.2,196.7 324.7,196.6 325.3,197.0 325.9,196.8 326.5,196.3 327.0,196.5 327.6,196.2 328.2,196.0 328.7,195.8 329.3,195.9 329.9,195.4 330.4,195.5 331.0,195.1 331.6,194.9 332.1,194.9 332.7,194.7 333.3,194.6 333.9,194.3 334.4,194.2 335.0,194.1 335.6,193.9 336.1,193.6 336.7,193.3 337.3,193.3 337.8,193.3 338.4,192.9 339.0,192.7 339.6,192.7 340.1,192.5 340.7,192.6 341.3,192.3 341.8,191.9 342.4,191.9 343.0,191.7 343.5,191.4 344.1,190.8 344.7,190.5 345.2,190.3 345.8,190.5 346.4,190.4 347.0,190.7 347.5,190.9 348.1,190.9 348.7,190.9 349.2,191.0 349.8,190.8 350.4,190.5 350.9,190.3 351.5,190.0 352.1,190.0 352.7,189.7 353.2,189.9 353.8,189.7 354.4,189.8 354.9,189.9 355.5,189.9 356.1,189.8 356.6,190.1 357.2,189.8 357.8,189.6 358.4,189.8 358.9,189.5 359.5,189.7 360.1,189.6 360.6,189.4 361.2,189.8 361.8,189.7 362.3,190.0 362.9,189.7 363.5,189.8 364.0,190.0 364.6,190.0 365.2,190.1 365.8,189.8 366.3,190.1 366.9,190.0 367.5,189.6 368.0,190.0 368.6,190.1 369.2,190.0 369.7,189.8 370.3,190.0 370.9,189.9 371.5,189.9 372.0,190.2 372.6,189.9 373.2,190.1 373.7,190.1 374.3,190.1 374.9,190.0 375.4,190.1 376.0,190.3 376.6,190.4 377.1,190.3 377.7,190.5 378.3,190.5 378.9,190.5 379.4,190.6 380.0,190.6 380.6,190.7 381.1,191.1 381.7,191.0 382.3,191.2 382.8,191.4 383.4,191.3 384.0,191.0 384.6,191.3 385.1,191.3 385.7,191.2 386.3,191.2 386.8,191.3 387.4,191.2 388.0,191.3 388.5,191.1 389.1,191.5 389.7,191.4 390.2,191.3 390.8,191.3 391.4,191.4 392.0,191.7 392.5,191.4 393.1,191.4 393.7,191.7 394.2,191.9 394.8,191.7 395.4,191.7 395.9,191.8 396.5,192.2 397.1,192.1 397.7,192.5 398.2,192.5 398.8,192.4 399.4,192.5 399.9,192.1 400.5,192.2 401.1,191.9 401.6,191.9 402.2,192.1 402.8,192.0 403.3,192.0 403.9,191.9 404.5,192.0 405.1,191.7 405.6,191.9 406.2,191.8 406.8,191.6 407.3,192.0 407.9,192.1 408.5,192.2 409.0,192.3 409.6,192.4 410.2,192.7 410.8,192.6 411.3,192.6 411.9,192.8 412.5,193.1 413.0,193.0 413.6,193.2 413.6,194.6 413.0,194.3 412.5,194.3 411.9,194.1 411.3,193.9 410.8,194.0 410.2,194.0 409.6,193.6 409.0,193.6 408.5,193.5 407.9,193.5 407.3,193.3 406.8,192.9 406.2,193.1 405.6,193.1 405.1,193.1 404.5,193.1 403.9,193.3 403.3,193.1 402.8,193.3 402.2,193.3 401.6,193.0 401.1,193.1 400.5,193.4 399.9,193.5 399.4,193.7 398.8,193.7 398.2,193.7 397.7,193.7 397.1,193.4 396.5,193.3 395.9,193.0 395.4,192.9 394.8,193.1 394.2,193.1 393.7,193.0 393.1,192.8 392.5,192.7 392.0,192.9 391.4,192.6 390.8,192.5 390.2,192.6 389.7,192.7 389.1,192.7 388.5,192.5 388.0,192.5 387.4,192.5 386.8,192.4 386.3,192.4 385.7,192.5 385.1,192.5 384.6,192.7 384.0,192.4 383.4,192.6 382.8,192.6 382.3,192.5 381.7,192.2 381.1,192.2 380.6,192.0 380.0,191.8 379.4,191.8 378.9,191.7 378.3,191.7 377.7,191.7 377.1,191.6 376.6,191.6 376.0,191.5 375.4,191.3 374.9,191.2 374.3,191.4 373.7,191.2 373.2,191.5 372.6,191.2 372.0,191.4 371.5,191.0 370.9,191.1 370.3,191.2 369.7,191.0 369.2,191.3 368.6,191.1 368.0,191.3 367.5,190.8 366.9,191.2 366.3,191.4 365.8,191.3 365.2,191.4 364.6,191.3 364.0,191.3 363.5,191.1 362.9,191.1 362.3,191.1 361.8,191.0 361.2,191.1 360.6,190.7 360.1,190.8 359.5,190.8 358.9,190.8 358.4,191.1 357.8,191.0 357.2,191.1 356.6,191.3 356.1,191.0 355.5,191.1 354.9,191.1 354.4,191.0 353.8,190.9 353.2,191.1 352.7,191.0 352.1,191.4 351.5,191.2 350.9,191.7 350.4,191.8 349.8,191.9 349.2,192.3 348.7,192.1 348.1,192.2 347.5,192.1 347.0,191.8 346.4,191.8 345.8,191.7 345.2,191.5 344.7,191.9 344.1,192.1 343.5,192.6 343.0,192.9 342.4,193.3 341.8,193.2 341.3,193.5 340.7,193.7 340.1,193.9 339.6,194.0 339.0,193.9 338.4,194.0 337.8,194.5 337.3,194.6 336.7,194.6 336.1,195.0 335.6,195.2 335.0,195.3 334.4,195.5 333.9,195.5 333.3,195.9 332.7,196.0 332.1,196.1 331.6,196.1 331.0,196.5 330.4,196.8 329.9,196.7 329.3,197.0 328.7,197.0 328.2,197.3 327.6,197.5 327.0,197.7 326.5,197.6 325.9,198.1 325.3,198.3 324.7,198.0 324.2,197.9 323.6,198.0 323.0,197.8 322.5,198.2 321.9,198.0 321.3,198.1 320.8,198.2 320.2,198.1 319.6,198.6 319.0,198.6 318.5,198.4 317.9,198.4 317.3,198.3 316.8,198.0 316.2,198.0 315.6,197.9 315.1,198.0 314.5,198.0 313.9,198.1 313.4,197.7 312.8,197.9 312.2,197.8 311.6,198.1 311.1,197.8 310.5,197.7 309.9,198.0 309.4,197.9 308.8,197.8 308.2,197.6 307.7,197.3 307.1,197.4 306.5,197.2 305.9,197.3 305.4,197.4 304.8,197.5 304.2,197.6 303.7,197.8 303.1,197.6 302.5,197.6 302.0,197.6 301.4,197.6 300.8,197.6 300.3,197.4 299.7,197.6 299.1,197.4 298.5,197.6 298.0,197.8 297.4,197.6 296.8,197.4 296.3,197.4 295.7,197.5 295.1,197.3 294.6,197.2 294.0,197.2 293.4,197.2 292.8,197.1 292.3,197.0 291.7,196.8 291.1,196.9 290.6,197.2 290.0,197.0 289.4,197.2 288.9,197.3 288.3,197.5 287.7,197.3 287.2,197.0 286.6,196.9 286.0,196.8 285.4,196.7 284.9,196.6 284.3,196.6 283.7,196.6 283.2,196.5 282.6,196.5 282.0,196.8 281.5,196.7 280.9,196.6 280.3,196.9 279.7,196.9 279.2,196.8 278.6,197.0 278.0,197.3 277.5,197.3 276.9,197.2" fill="#edb120" fill-opacity="0.221" stroke="#edb120" stroke-opacity="0.156" stroke-width="0.9"/>
<polyline points="276.9,196.6 277.5,196.7 278.0,196.6 278.6,196.3 279.2,196.2 279.7,196.3 280.3,196.2 280.9,195.9 281.5,196.0 282.0,196.2 282.6,195.9 283.2,195.9 283.7,195.9 284.3,196.0 284.9,196.0 285.4,196.0 286.0,196.2 286.6,196.2 287.2,196.4 287.7,196.7 288.3,196.8 288.9,196.8 289.4,196.5 290.0,196.5 290.6,196.6 291.1,196.4 291.7,196.3 292.3,196.3 292.8,196.5 293.4,196.6 294.0,196.6 294.6,196.6 295.1,196.8 295.7,196.9 296.3,196.8 296.8,196.8 297.4,196.9 298.0,197.0 298.5,197.0 299.1,196.8 299.7,196.9 300.3,196.9 300.8,197.0 301.4,196.9 302.0,197.0 302.5,196.9 303.1,197.0 303.7,197.1 304.2,196.9 304.8,196.9 305.4,196.8 305.9,196.7 306.5,196.6 307.1,196.8 307.7,196.6 308.2,196.9 308.8,197.1 309.4,197.2 309.9,197.4 310.5,197.1 311.1,197.2 311.6,197.5 312.2,197.1 312.8,197.3 313.4,197.1 313.9,197.4 314.5,197.4 315.1,197.4 315.6,197.2 316.2,197.4 316.8,197.3 317.3,197.7 317.9,197.7 318.5,197.8 319.0,197.9 319.6,198.0 320.2,197.5 320.8,197.5 321.3,197.5 321.9,197.4 322.5,197.4 323.0,197.2 323.6,197.4 324.2,197.3 324.7,197.2 325.3,197.6 325.9,197.4 326.5,197.0 327.0,197.1 327.6,196.9 328.2,196.6 328.7,196.4 329.3,196.4 329.9,196.1 330.4,196.2 331.0,195.8 331.6,195.5 332.1,195.4 332.7,195.4 333.3,195.4 333.9,194.9 334.4,194.9 335.0,194.8 335.6,194.5 336.1,194.4 336.7,194.0 337.3,194.0 337.8,193.9 338.4,193.4 339.0,193.3 339.6,193.3 340.1,193.2 340.7,193.1 341.3,192.9 341.8,192.6 342.4,192.6 343.0,192.3 343.5,192.0 344.1,191.5 344.7,191.2 345.2,191.0 345.8,191.1 346.4,191.1 347.0,191.3 347.5,191.5 348.1,191.6 348.7,191.6 349.2,191.7 349.8,191.4 350.4,191.2 350.9,191.0 351.5,190.7 352.1,190.7 352.7,190.3 353.2,190.5 353.8,190.3 354.4,190.4 354.9,190.4 355.5,190.5 356.1,190.3 356.6,190.7 357.2,190.5 357.8,190.3 358.4,190.4 358.9,190.2 359.5,190.2 360.1,190.2 360.6,190.0 361.2,190.4 361.8,190.3 362.3,190.5 362.9,190.4 363.5,190.5 364.0,190.6 364.6,190.6 365.2,190.7 365.8,190.6 366.3,190.7 366.9,190.5 367.5,190.3 368.0,190.6 368.6,190.6 369.2,190.7 369.7,190.4 370.3,190.6 370.9,190.5 371.5,190.4 372.0,190.9 372.6,190.5 373.2,190.8 373.7,190.6 374.3,190.7 374.9,190.6 375.4,190.7 376.0,191.0 376.6,191.0 377.1,191.0 377.7,191.1 378.3,191.1 378.9,191.1 379.4,191.2 380.0,191.2 380.6,191.4 381.1,191.7 381.7,191.7 382.3,191.8 382.8,192.1 383.4,191.9 384.0,191.8 384.6,191.9 385.1,191.8 385.7,191.8 386.3,191.8 386.8,191.9 387.4,191.8 388.0,191.9 388.5,191.8 389.1,192.1 389.7,192.0 390.2,192.0 390.8,191.9 391.4,192.0 392.0,192.3 392.5,192.0 393.1,192.1 393.7,192.3 394.2,192.5 394.8,192.4 395.4,192.3 395.9,192.4 396.5,192.8 397.1,192.7 397.7,193.0 398.2,193.1 398.8,193.0 399.4,193.1 399.9,192.8 400.5,192.7 401.1,192.5 401.6,192.5 402.2,192.7 402.8,192.7 403.3,192.5 403.9,192.6 404.5,192.5 405.1,192.5 405.6,192.4 406.2,192.5 406.8,192.3 407.3,192.6 407.9,192.8 408.5,192.9 409.0,193.1 409.6,192.9 410.2,193.3 410.8,193.3 411.3,193.2 411.9,193.5 412.5,193.7 413.0,193.6 413.6,193.9" fill="none" stroke="#edb232" stroke-width="1.5" stroke-linejoin="round"/>
<rect x="276.90" y="154.40" width="136.70" height="63.15" fill="none" stroke="#858585" stroke-width="0.8"/>
<line x1="276.90" y1="217.55" x2="276.90" y2="216.15" stroke="#858585" stroke-width="0.8"/>
<line x1="276.90" y1="154.40" x2="276.90" y2="155.80" stroke="#858585" stroke-width="0.8"/>
<text x="277.20" y="226.85" font-size="7.6" text-anchor="middle">0</text>
<line x1="299.68" y1="217.55" x2="299.68" y2="216.15" stroke="#858585" stroke-width="0.8"/>
<line x1="299.68" y1="154.40" x2="299.68" y2="155.80" stroke="#858585" stroke-width="0.8"/>
<text x="299.98" y="226.85" font-size="7.6" text-anchor="middle">15</text>
<line x1="322.47" y1="217.55" x2="322.47" y2="216.15" stroke="#858585" stroke-width="0.8"/>
<line x1="322.47" y1="154.40" x2="322.47" y2="155.80" stroke="#858585" stroke-width="0.8"/>
<text x="322.77" y="226.85" font-size="7.6" text-anchor="middle">30</text>
<line x1="345.25" y1="217.55" x2="345.25" y2="216.15" stroke="#858585" stroke-width="0.8"/>
<line x1="345.25" y1="154.40" x2="345.25" y2="155.80" stroke="#858585" stroke-width="0.8"/>
<text x="345.55" y="226.85" font-size="7.6" text-anchor="middle">45</text>
<line x1="368.03" y1="217.55" x2="368.03" y2="216.15" stroke="#858585" stroke-width="0.8"/>
<line x1="368.03" y1="154.40" x2="368.03" y2="155.80" stroke="#858585" stroke-width="0.8"/>
<text x="368.33" y="226.85" font-size="7.6" text-anchor="middle">60</text>
<line x1="390.82" y1="217.55" x2="390.82" y2="216.15" stroke="#858585" stroke-width="0.8"/>
<line x1="390.82" y1="154.40" x2="390.82" y2="155.80" stroke="#858585" stroke-width="0.8"/>
<text x="391.12" y="226.85" font-size="7.6" text-anchor="middle">75</text>
<line x1="413.60" y1="217.55" x2="413.60" y2="216.15" stroke="#858585" stroke-width="0.8"/>
<line x1="413.60" y1="154.40" x2="413.60" y2="155.80" stroke="#858585" stroke-width="0.8"/>
<text x="413.90" y="226.85" font-size="7.6" text-anchor="middle">90</text>
<line x1="276.90" y1="217.55" x2="278.30" y2="217.55" stroke="#858585" stroke-width="0.8"/>
<line x1="413.60" y1="217.55" x2="412.20" y2="217.55" stroke="#858585" stroke-width="0.8"/>
<text x="274.70" y="220.15" font-size="7.6" text-anchor="end">-1</text>
<line x1="276.90" y1="196.50" x2="278.30" y2="196.50" stroke="#858585" stroke-width="0.8"/>
<line x1="413.60" y1="196.50" x2="412.20" y2="196.50" stroke="#858585" stroke-width="0.8"/>
<text x="274.70" y="199.10" font-size="7.6" text-anchor="end">0</text>
<line x1="276.90" y1="175.45" x2="278.30" y2="175.45" stroke="#858585" stroke-width="0.8"/>
<line x1="413.60" y1="175.45" x2="412.20" y2="175.45" stroke="#858585" stroke-width="0.8"/>
<text x="274.70" y="178.05" font-size="7.6" text-anchor="end">1</text>
<line x1="276.90" y1="154.40" x2="278.30" y2="154.40" stroke="#858585" stroke-width="0.8"/>
<line x1="413.60" y1="154.40" x2="412.20" y2="154.40" stroke="#858585" stroke-width="0.8"/>
<text x="274.70" y="157.00" font-size="7.6" text-anchor="end">2</text>
<text x="410.10" y="163.70" font-size="8.2" text-anchor="end">3.47 W<tspan dx="1.5">&#183;</tspan><tspan dx="1.5" font-style="italic">g</tspan><tspan font-size="5.2" dy="-3.1">&#8722;1</tspan></text>
<text x="345.75" y="236.60" font-size="9.0" text-anchor="middle" textLength="30.6" lengthAdjust="spacingAndGlyphs">Time (s)</text>
<rect x="478.47" y="154.40" width="22.78" height="63.15" fill="#ffffc9"/>
<polygon points="432.9,193.2 433.5,192.9 434.0,192.0 434.6,191.4 435.2,191.8 435.7,192.1 436.3,191.3 436.9,191.9 437.5,191.5 438.0,191.0 438.6,192.1 439.2,191.5 439.7,191.2 440.3,191.2 440.9,191.7 441.4,192.2 442.0,191.6 442.6,191.9 443.2,191.6 443.7,191.6 444.3,191.3 444.9,190.8 445.4,191.6 446.0,191.3 446.6,191.2 447.1,191.1 447.7,191.9 448.3,191.6 448.8,192.3 449.4,192.2 450.0,191.5 450.6,191.7 451.1,192.2 451.7,192.6 452.3,192.4 452.8,193.2 453.4,193.1 454.0,192.7 454.5,193.0 455.1,192.3 455.7,192.6 456.3,192.3 456.8,192.9 457.4,192.2 458.0,192.5 458.5,192.5 459.1,192.7 459.7,193.0 460.2,192.9 460.8,192.7 461.4,191.6 461.9,191.8 462.5,191.7 463.1,191.8 463.7,191.5 464.2,191.3 464.8,191.3 465.4,191.4 465.9,192.0 466.5,191.5 467.1,192.5 467.6,192.7 468.2,191.8 468.8,192.6 469.4,191.6 469.9,192.3 470.5,192.1 471.1,191.7 471.6,192.0 472.2,192.3 472.8,192.1 473.3,193.4 473.9,193.4 474.5,193.2 475.0,192.6 475.6,193.5 476.2,194.1 476.8,193.5 477.3,193.4 477.9,194.1 478.5,193.1 479.0,193.5 479.6,193.5 480.2,192.6 480.7,191.6 481.3,191.6 481.9,191.0 482.5,191.2 483.0,190.5 483.6,189.7 484.2,189.1 484.7,189.4 485.3,187.5 485.9,187.4 486.4,186.8 487.0,186.1 487.6,184.8 488.1,184.2 488.7,184.0 489.3,183.9 489.9,183.1 490.4,182.0 491.0,181.5 491.6,180.6 492.1,179.9 492.7,179.5 493.3,178.9 493.8,178.1 494.4,176.8 495.0,176.5 495.6,175.2 496.1,174.4 496.7,173.2 497.3,173.2 497.8,171.5 498.4,172.0 499.0,171.2 499.5,170.5 500.1,170.5 500.7,170.9 501.2,169.4 501.8,169.2 502.4,169.1 503.0,168.5 503.5,167.2 504.1,167.7 504.7,167.9 505.2,166.6 505.8,166.4 506.4,167.3 506.9,166.8 507.5,166.6 508.1,166.7 508.7,165.8 509.2,167.1 509.8,166.5 510.4,166.4 510.9,165.9 511.5,166.7 512.1,167.3 512.6,166.3 513.2,166.0 513.8,166.3 514.4,166.3 514.9,166.3 515.5,165.8 516.1,166.3 516.6,167.0 517.2,166.6 517.8,166.3 518.3,167.1 518.9,167.5 519.5,166.9 520.0,166.7 520.6,167.4 521.2,167.4 521.8,167.1 522.3,167.4 522.9,168.1 523.5,168.2 524.0,168.3 524.6,168.6 525.2,168.8 525.7,168.3 526.3,168.9 526.9,168.9 527.5,168.8 528.0,169.4 528.6,169.6 529.2,169.2 529.7,169.0 530.3,169.4 530.9,169.5 531.4,169.3 532.0,169.6 532.6,168.7 533.1,169.4 533.7,169.2 534.3,168.2 534.9,169.3 535.4,168.5 536.0,169.0 536.6,168.8 537.1,168.8 537.7,169.4 538.3,169.5 538.8,169.0 539.4,170.1 540.0,169.8 540.6,169.8 541.1,169.9 541.7,170.0 542.3,170.7 542.8,169.5 543.4,170.9 544.0,169.9 544.5,170.9 545.1,170.4 545.7,171.3 546.2,170.7 546.8,171.4 547.4,171.2 548.0,171.7 548.5,170.7 549.1,170.8 549.7,171.7 550.2,172.3 550.8,171.4 551.4,171.4 551.9,171.1 552.5,171.4 553.1,171.7 553.7,172.4 554.2,171.6 554.8,171.8 555.4,171.2 555.9,171.0 556.5,171.4 557.1,172.4 557.6,171.5 558.2,172.6 558.8,172.0 559.3,172.2 559.9,171.5 560.5,172.8 561.1,172.7 561.6,171.8 562.2,172.3 562.8,172.8 563.3,173.2 563.9,172.6 564.5,172.8 565.0,172.8 565.6,172.6 566.2,173.0 566.8,172.6 567.3,173.8 567.9,172.4 568.5,173.6 569.0,173.0 569.6,173.3 569.6,181.9 569.0,182.7 568.5,182.1 567.9,182.2 567.3,182.4 566.8,181.7 566.2,181.3 565.6,181.3 565.0,181.3 564.5,181.1 563.9,181.6 563.3,181.5 562.8,181.6 562.2,180.7 561.6,181.1 561.1,180.8 560.5,181.3 559.9,181.2 559.3,181.0 558.8,181.1 558.2,181.4 557.6,180.5 557.1,181.3 556.5,181.0 555.9,179.7 555.4,181.0 554.8,179.9 554.2,180.1 553.7,180.2 553.1,180.1 552.5,180.0 551.9,179.9 551.4,180.2 550.8,179.9 550.2,179.9 549.7,180.0 549.1,180.2 548.5,179.8 548.0,180.1 547.4,180.5 546.8,179.8 546.2,179.6 545.7,179.2 545.1,179.1 544.5,178.6 544.0,178.7 543.4,179.2 542.8,179.5 542.3,178.5 541.7,179.6 541.1,178.2 540.6,179.0 540.0,178.1 539.4,179.0 538.8,179.1 538.3,178.2 537.7,178.3 537.1,178.0 536.6,177.6 536.0,178.3 535.4,176.8 534.9,177.4 534.3,177.2 533.7,177.8 533.1,177.5 532.6,177.7 532.0,178.1 531.4,177.7 530.9,178.3 530.3,178.7 529.7,177.9 529.2,178.3 528.6,177.8 528.0,177.6 527.5,178.4 526.9,178.2 526.3,178.5 525.7,177.6 525.2,177.3 524.6,177.3 524.0,177.6 523.5,177.8 522.9,177.2 522.3,177.1 521.8,177.2 521.2,176.0 520.6,176.8 520.0,175.8 519.5,175.5 518.9,176.0 518.3,175.4 517.8,174.9 517.2,174.8 516.6,174.8 516.1,175.1 515.5,175.5 514.9,174.5 514.4,175.5 513.8,175.2 513.2,175.6 512.6,175.0 512.1,176.1 511.5,175.6 510.9,174.7 510.4,175.4 509.8,174.9 509.2,174.8 508.7,175.7 508.1,175.7 507.5,174.8 506.9,175.8 506.4,175.5 505.8,175.1 505.2,176.0 504.7,176.4 504.1,176.6 503.5,177.1 503.0,177.3 502.4,178.3 501.8,178.2 501.2,178.9 500.7,178.7 500.1,179.5 499.5,180.1 499.0,179.7 498.4,181.2 497.8,181.4 497.3,181.1 496.7,182.5 496.1,183.8 495.6,184.5 495.0,184.5 494.4,186.2 493.8,186.3 493.3,186.4 492.7,188.4 492.1,188.8 491.6,189.4 491.0,190.7 490.4,191.1 489.9,190.8 489.3,192.4 488.7,192.8 488.1,192.9 487.6,194.3 487.0,195.2 486.4,195.9 485.9,195.9 485.3,196.6 484.7,198.3 484.2,198.1 483.6,198.0 483.0,199.6 482.5,199.8 481.9,199.4 481.3,200.3 480.7,201.1 480.2,201.7 479.6,201.9 479.0,202.1 478.5,201.4 477.9,202.5 477.3,201.9 476.8,201.5 476.2,201.9 475.6,202.3 475.0,201.5 474.5,202.3 473.9,202.1 473.3,201.6 472.8,201.8 472.2,202.1 471.6,201.5 471.1,201.3 470.5,200.5 469.9,200.7 469.4,200.3 468.8,201.4 468.2,201.6 467.6,201.7 467.1,201.2 466.5,200.8 465.9,200.6 465.4,201.2 464.8,200.7 464.2,200.5 463.7,200.3 463.1,200.4 462.5,200.2 461.9,200.5 461.4,201.0 460.8,201.5 460.2,201.8 459.7,201.9 459.1,201.9 458.5,201.2 458.0,201.1 457.4,201.3 456.8,201.5 456.3,201.6 455.7,201.3 455.1,201.7 454.5,201.0 454.0,201.3 453.4,201.1 452.8,201.0 452.3,201.7 451.7,200.9 451.1,201.4 450.6,200.4 450.0,200.5 449.4,201.1 448.8,201.1 448.3,200.9 447.7,200.5 447.1,200.1 446.6,200.8 446.0,200.4 445.4,200.2 444.9,199.8 444.3,199.9 443.7,200.2 443.2,200.2 442.6,200.4 442.0,200.2 441.4,200.9 440.9,201.3 440.3,200.3 439.7,200.5 439.2,200.8 438.6,200.5 438.0,201.0 437.5,200.1 436.9,200.2 436.3,200.1 435.7,200.6 435.2,200.2 434.6,200.2 434.0,200.7 433.5,201.1 432.9,202.0" fill="#edb120" fill-opacity="0.221" stroke="#edb120" stroke-opacity="0.156" stroke-width="0.9"/>
<polyline points="432.9,197.3 433.5,197.0 434.0,196.7 434.6,196.3 435.2,196.1 435.7,195.9 436.3,196.0 436.9,195.8 437.5,196.0 438.0,196.0 438.6,196.2 439.2,196.1 439.7,196.1 440.3,196.2 440.9,196.5 441.4,196.2 442.0,196.1 442.6,195.8 443.2,195.9 443.7,195.5 444.3,195.8 444.9,195.6 445.4,195.8 446.0,195.8 446.6,196.2 447.1,196.0 447.7,196.4 448.3,196.3 448.8,196.5 449.4,196.5 450.0,196.3 450.6,196.6 451.1,196.4 451.7,196.8 452.3,196.9 452.8,196.9 453.4,196.9 454.0,196.8 454.5,197.1 455.1,196.9 455.7,197.0 456.3,196.7 456.8,196.9 457.4,196.8 458.0,196.8 458.5,197.0 459.1,197.0 459.7,197.0 460.2,197.1 460.8,196.7 461.4,196.3 461.9,196.3 462.5,196.1 463.1,196.2 463.7,196.2 464.2,196.0 464.8,196.3 465.4,196.3 465.9,196.5 466.5,196.2 467.1,196.3 467.6,196.7 468.2,196.7 468.8,196.7 469.4,196.5 469.9,196.9 470.5,196.7 471.1,196.6 471.6,196.7 472.2,197.2 472.8,197.0 473.3,197.3 473.9,197.7 474.5,197.6 475.0,197.5 475.6,197.9 476.2,198.0 476.8,197.6 477.3,197.6 477.9,197.9 478.5,197.6 479.0,197.6 479.6,197.3 480.2,196.9 480.7,196.6 481.3,196.0 481.9,195.2 482.5,195.2 483.0,194.6 483.6,194.0 484.2,193.7 484.7,193.2 485.3,192.4 485.9,191.8 486.4,191.5 487.0,190.5 487.6,189.7 488.1,189.0 488.7,188.4 489.3,188.0 489.9,187.0 490.4,186.5 491.0,185.9 491.6,185.2 492.1,184.4 492.7,183.6 493.3,182.6 493.8,182.1 494.4,181.2 495.0,180.2 495.6,179.5 496.1,178.9 496.7,178.0 497.3,177.2 497.8,176.5 498.4,176.3 499.0,175.6 499.5,175.2 500.1,175.0 500.7,174.7 501.2,174.1 501.8,173.8 502.4,173.3 503.0,172.6 503.5,172.3 504.1,171.9 504.7,171.8 505.2,171.2 505.8,171.1 506.4,171.3 506.9,170.9 507.5,170.6 508.1,170.8 508.7,170.8 509.2,170.8 509.8,170.7 510.4,170.5 510.9,170.9 511.5,170.8 512.1,171.1 512.6,170.7 513.2,170.7 513.8,170.8 514.4,170.8 514.9,170.6 515.5,170.8 516.1,170.7 516.6,170.8 517.2,170.7 517.8,170.8 518.3,170.9 518.9,171.4 519.5,171.3 520.0,171.6 520.6,172.1 521.2,171.8 521.8,172.1 522.3,172.1 522.9,172.6 523.5,172.7 524.0,172.6 524.6,172.9 525.2,173.0 525.7,172.9 526.3,173.5 526.9,173.5 527.5,173.5 528.0,173.6 528.6,173.6 529.2,173.4 529.7,173.4 530.3,173.9 530.9,173.6 531.4,173.6 532.0,174.1 532.6,173.7 533.1,173.4 533.7,173.4 534.3,173.1 534.9,173.3 535.4,173.0 536.0,173.5 536.6,173.6 537.1,173.8 537.7,174.0 538.3,173.9 538.8,174.0 539.4,174.1 540.0,174.1 540.6,174.3 541.1,174.1 541.7,174.6 542.3,174.7 542.8,174.6 543.4,174.8 544.0,174.6 544.5,174.7 545.1,175.3 545.7,175.3 546.2,175.2 546.8,175.7 547.4,175.7 548.0,175.9 548.5,175.7 549.1,175.5 549.7,175.6 550.2,176.0 550.8,176.0 551.4,175.8 551.9,176.1 552.5,175.9 553.1,176.1 553.7,176.3 554.2,176.3 554.8,175.9 555.4,176.3 555.9,175.9 556.5,176.3 557.1,176.4 557.6,176.0 558.2,176.6 558.8,176.7 559.3,176.4 559.9,176.3 560.5,176.6 561.1,176.7 561.6,176.8 562.2,176.8 562.8,177.0 563.3,177.0 563.9,176.7 564.5,176.9 565.0,177.2 565.6,177.3 566.2,176.9 566.8,177.4 567.3,177.5 567.9,177.4 568.5,177.9 569.0,177.7 569.6,178.0" fill="none" stroke="#edb232" stroke-width="1.5" stroke-linejoin="round"/>
<rect x="432.90" y="154.40" width="136.70" height="63.15" fill="none" stroke="#858585" stroke-width="0.8"/>
<line x1="432.90" y1="217.55" x2="432.90" y2="216.15" stroke="#858585" stroke-width="0.8"/>
<line x1="432.90" y1="154.40" x2="432.90" y2="155.80" stroke="#858585" stroke-width="0.8"/>
<text x="433.20" y="226.85" font-size="7.6" text-anchor="middle">0</text>
<line x1="455.68" y1="217.55" x2="455.68" y2="216.15" stroke="#858585" stroke-width="0.8"/>
<line x1="455.68" y1="154.40" x2="455.68" y2="155.80" stroke="#858585" stroke-width="0.8"/>
<text x="455.98" y="226.85" font-size="7.6" text-anchor="middle">15</text>
<line x1="478.47" y1="217.55" x2="478.47" y2="216.15" stroke="#858585" stroke-width="0.8"/>
<line x1="478.47" y1="154.40" x2="478.47" y2="155.80" stroke="#858585" stroke-width="0.8"/>
<text x="478.77" y="226.85" font-size="7.6" text-anchor="middle">30</text>
<line x1="501.25" y1="217.55" x2="501.25" y2="216.15" stroke="#858585" stroke-width="0.8"/>
<line x1="501.25" y1="154.40" x2="501.25" y2="155.80" stroke="#858585" stroke-width="0.8"/>
<text x="501.55" y="226.85" font-size="7.6" text-anchor="middle">45</text>
<line x1="524.03" y1="217.55" x2="524.03" y2="216.15" stroke="#858585" stroke-width="0.8"/>
<line x1="524.03" y1="154.40" x2="524.03" y2="155.80" stroke="#858585" stroke-width="0.8"/>
<text x="524.33" y="226.85" font-size="7.6" text-anchor="middle">60</text>
<line x1="546.82" y1="217.55" x2="546.82" y2="216.15" stroke="#858585" stroke-width="0.8"/>
<line x1="546.82" y1="154.40" x2="546.82" y2="155.80" stroke="#858585" stroke-width="0.8"/>
<text x="547.12" y="226.85" font-size="7.6" text-anchor="middle">75</text>
<line x1="569.60" y1="217.55" x2="569.60" y2="216.15" stroke="#858585" stroke-width="0.8"/>
<line x1="569.60" y1="154.40" x2="569.60" y2="155.80" stroke="#858585" stroke-width="0.8"/>
<text x="569.90" y="226.85" font-size="7.6" text-anchor="middle">90</text>
<line x1="432.90" y1="217.55" x2="434.30" y2="217.55" stroke="#858585" stroke-width="0.8"/>
<line x1="569.60" y1="217.55" x2="568.20" y2="217.55" stroke="#858585" stroke-width="0.8"/>
<text x="430.70" y="220.15" font-size="7.6" text-anchor="end">-1</text>
<line x1="432.90" y1="196.50" x2="434.30" y2="196.50" stroke="#858585" stroke-width="0.8"/>
<line x1="569.60" y1="196.50" x2="568.20" y2="196.50" stroke="#858585" stroke-width="0.8"/>
<text x="430.70" y="199.10" font-size="7.6" text-anchor="end">0</text>
<line x1="432.90" y1="175.45" x2="434.30" y2="175.45" stroke="#858585" stroke-width="0.8"/>
<line x1="569.60" y1="175.45" x2="568.20" y2="175.45" stroke="#858585" stroke-width="0.8"/>
<text x="430.70" y="178.05" font-size="7.6" text-anchor="end">1</text>
<line x1="432.90" y1="154.40" x2="434.30" y2="154.40" stroke="#858585" stroke-width="0.8"/>
<line x1="569.60" y1="154.40" x2="568.20" y2="154.40" stroke="#858585" stroke-width="0.8"/>
<text x="430.70" y="157.00" font-size="7.6" text-anchor="end">2</text>
<text x="566.10" y="163.70" font-size="8.2" text-anchor="end">12.96 W<tspan dx="1.5">&#183;</tspan><tspan dx="1.5" font-style="italic">g</tspan><tspan font-size="5.2" dy="-3.1">&#8722;1</tspan></text>
<text x="501.75" y="236.60" font-size="9.0" text-anchor="middle" textLength="30.6" lengthAdjust="spacingAndGlyphs">Time (s)</text>
</g></svg></body></html>
